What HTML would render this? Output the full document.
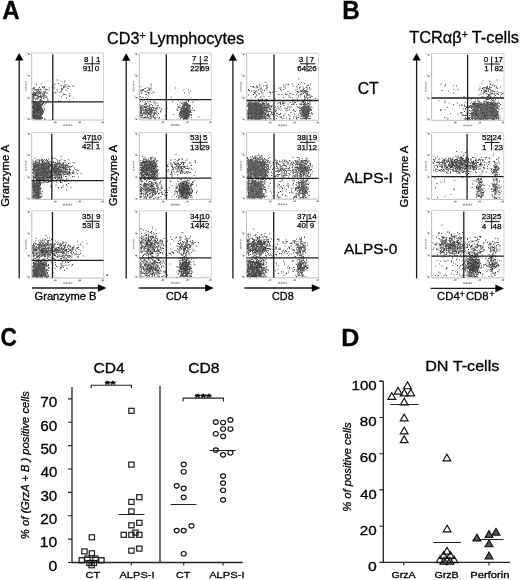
<!DOCTYPE html>
<html><head><meta charset="utf-8"><style>
html,body{margin:0;padding:0;background:#fff;}
svg{display:block;will-change:transform;}
text{font-family:"Liberation Sans", sans-serif;fill:#000;stroke:#000;stroke-width:0.3px;}
.q{font-size:8px;stroke:#000;stroke-width:0.25px;}
</style></head><body>
<svg width="520" height="580" viewBox="0 0 520 580">
<rect width="520" height="580" fill="#fff"/>
<path d="M31.7 53.0H103.5V120.0" fill="none" stroke="#d2d2d2" stroke-width="1"/>
<path d="M31.7 53.0V120.0H103.5" fill="none" stroke="#bdbdbd" stroke-width="1"/>
<path d="M26.1 52.1l1.6 1.4M26.1 73.6l1.6 1.4M26.1 95.7l1.6 1.4M26.1 117.1l1.6 1.4M52.8 123.6l1.6 -1.4M77.2 123.6l1.6 -1.4M100.1 123.6l1.6 -1.4" stroke="#b8b8b8" stroke-width="0.8"/>
<path d="M27.8 54.3h1.8M27.8 75.8h1.8M27.8 97.9h1.8M27.8 119.3h1.8M54.6 122.2h1.8M79.0 122.2h1.8M101.9 122.2h1.8" stroke="#7a7a7a" stroke-width="1.5"/>
<path d="M63.1 125.2h9" stroke="#9a9a9a" stroke-width="1.6" stroke-dasharray="2 0.6"/>
<path d="M25.9 81.5v10" stroke="#a8a8a8" stroke-width="1.5" stroke-dasharray="2 0.6"/>
<path d="M34.5 106h1M40 100.5h1M42.5 113h1M42.5 93.5h1M32.5 114h1M33.5 110h1M33.5 118.5h1M37.5 115h1M40.5 109.5h1M33.5 104.5h1M39 119h1M35.5 107h1M36.5 112h1M41 109h1M36 105h1M49 88h1M37 114.5h1M32.5 98h1M37.5 105.5h1M34 102.5h1M44 105h1M40.5 101h1M64 87h1M36 111h1M34 109.5h1M40.5 118h1M42.5 96h1M38 104h1M44.5 92h1M36 106.5h1M39 93.5h1M39.5 89h1M37 108.5h1M41 106h1M40.5 112h1M38.5 110h1M37.5 94h1M32.5 107h1M35 115h1M38.5 118.5h1M32.5 117h1M38.5 109.5h1M35.5 114h1M34 116.5h1M35 118.5h1M35 111h1M39.5 115.5h1M37.5 103h1M63 88h1M35.5 115.5h1M37 115h1M37 105h1M41.5 114.5h1M40 90h1M36 112h1M54.5 92.5h1M33 98.5h1M38 114h1M34.5 104.5h1M33 96h1M32.5 115h1M43.5 94.5h1M37 109.5h1M34.5 112.5h1M39 118h1M62.5 88h1M33.5 111h1M37 110.5h1M36.5 118h1M33.5 109.5h1M38 106h1M38.5 108.5h1M41 111.5h1M36.5 117.5h1M35 103h1M39 91.5h1M32.5 104.5h1M64.5 86.5h1M69 86.5h1M39 109h1M41.5 105h1M42 118h1M33.5 94h1M37 112h1M33.5 118h1M39 114h1M40.5 104h1M38 107h1M33 114h1M35.5 95h1M41.5 109.5h1M33 115.5h1M39.5 115h1M72.5 86h1M36.5 113h1M32.5 119h1M61 97h1M36 107.5h1M39.5 110h1M47 99h1M39.5 118.5h1M37 113h1M35.5 118.5h1M36.5 106h1M41.5 108h1M38 111.5h1M35 105.5h1M40.5 109h1M52.5 93.5h1M66.5 85h1M42.5 96.5h1M44.5 96h1M34.5 109.5h1M35.5 104.5h1M40 110h1M39.5 112.5h1M38.5 118h1M35.5 112.5h1M44 93h1M34.5 110.5h1M34 89h1M40 115.5h1M67.5 88.5h1M33.5 88h1M33 117h1M34 109h1M36 109h1M38.5 93h1M36.5 117h1M34 114h1M36 114h1M34.5 116.5h1M36.5 104h1M37.5 113h1M32.5 111h1M40.5 106h1M38.5 91h1M43 103.5h1M41 113.5h1M34.5 112h1M43 96h1M38.5 109h1M35.5 119h1M33 96.5h1M32.5 98.5h1M36 106h1M33.5 104h1M32.5 94h1M32.5 108h1M32.5 88.5h1M35 90h1M39 118.5h1M33 102.5h1M39 115.5h1M32.5 112h1M34 94.5h1M37 109h1M35.5 113.5h1M36.5 115.5h1M60.5 91.5h1M41 116.5h1M34 104h1M33.5 109h1M42 114h1M39.5 105.5h1M34 116h1M36 116h1M37 115.5h1M35.5 105.5h1M45 91h1M40.5 92h1M64 94.5h1M39 114.5h1M39.5 106.5h1M62 89.5h1M55.5 93h1M38.5 107.5h1M63 94h1M37.5 111.5h1M40.5 111h1M36.5 114.5h1M32.5 113h1M40 111h1M34.5 103.5h1M39.5 108h1M35 107h1M39.5 116.5h1M35.5 108h1M39 108.5h1M34.5 104h1M34.5 118h1M60 101h1M63.5 87h1M36.5 116h1M37 117h1M35 100h1M32.5 103.5h1M38 89.5h1M33 115h1M32.5 101h1M33.5 117h1M32 108.5h1M33 105h1M36 112.5h1M32.5 107.5h1M35.5 109h1M40.5 119h1M38 90.5h1M61.5 92h1M36.5 113.5h1M40 119h1M37 95.5h1M39 97h1M34 114.5h1M39 109.5h1M35.5 113h1M39 106.5h1M36.5 111h1M41 96h1M34.5 115.5h1M43 111.5h1M41 107.5h1M32 115h1M32.5 100h1M37.5 116h1M39.5 106h1M36.5 104.5h1M33.5 115h1M34 108.5h1M38 113h1" stroke="#5c5c5c" stroke-width="1.05" fill="none"/><path d="M33 94h1M42.5 86.5h1M33.5 110h1M36.5 116.5h1M63.5 87.5h1M39 112h1M40.5 105.5h1M35.5 94.5h1M35.5 107.5h1M37.5 110h1M33.5 112.5h1M39.5 117.5h1M34 102.5h1M44 92h1M32.5 99.5h1M34.5 116h1M33.5 114.5h1M36 105.5h1M48.5 90h1M38 104h1M41.5 118.5h1M39.5 111.5h1M41 98h1M40 117.5h1M46.5 97h1M32.5 107h1M38.5 111h1M39.5 114h1M33.5 108.5h1M38.5 109.5h1M36 116.5h1M32.5 116h1M38.5 104.5h1M38 89h1M37 115h1M37 113.5h1M34.5 118.5h1M41.5 114.5h1M34 112h1M36 91h1M61 86h1M35.5 106h1M32.5 111.5h1M39.5 99.5h1M33 107.5h1M44 119h1M36.5 96h1M37 106.5h1M33.5 109.5h1M32.5 118.5h1M37.5 113.5h1M42 110.5h1M35 103h1M37 108h1M33.5 110.5h1M37 116.5h1M43.5 98h1M43 94h1M39.5 116h1M41.5 100.5h1M61.5 89h1M41.5 113.5h1M33.5 108h1M40.5 107h1M33.5 88.5h1M41 109.5h1M61.5 81.5h1M40 107.5h1M36.5 109h1M42 112h1M37.5 103.5h1M36.5 114h1M33.5 112h1M32 100h1M34 103.5h1M36 103.5h1M39.5 105h1M32.5 103h1M35.5 115h1M35.5 105h1M36 104h1M38.5 106.5h1M39.5 118.5h1M39.5 111h1M37.5 112h1M37 113h1M35.5 118.5h1M38.5 110.5h1M36.5 106h1M40.5 109h1M38 111.5h1M38.5 103.5h1M35.5 111h1M40 111.5h1M39.5 109.5h1M40 110h1M39.5 112.5h1M38.5 118h1M35 103.5h1M39 107h1M34.5 110.5h1M42.5 110h1M33 107h1M38 115.5h1M37.5 114h1M35 108h1M36.5 117h1M37.5 113h1M33 116h1M36 114h1M34.5 116.5h1M34 114h1M32.5 106.5h1M37 107.5h1M39.5 119h1M37 104h1M34.5 112h1M40.5 114.5h1M39 96.5h1M36.5 95.5h1M37 117.5h1M36 98h1M36.5 111.5h1M37 93h1M42 117.5h1M37 91.5h1M33 118.5h1M39 115.5h1M38 108.5h1M37.5 107h1M32.5 112h1M36.5 118.5h1M37.5 104h1M37 109h1M35.5 113.5h1M34 117h1M36 117h1M34 104h1M41.5 101h1M33.5 109h1M36 116h1M35.5 105.5h1M40 113.5h1M38 115h1M39 114.5h1M39.5 106.5h1M41 112h1M40 105h1M38 92h1M38.5 107h1M38.5 104h1M36.5 114.5h1M41 84h1M40 97h1M64 82h1M45.5 96h1M32 112.5h1M36 115h1M35 107.5h1M39.5 118h1M35 104h1M33.5 106h1M35.5 118h1M37.5 118.5h1M38 110.5h1M56.5 89.5h1M34 110h1M41.5 109h1M35 117.5h1M37.5 99h1M69.5 100h1M40 94h1M38 94h1M38 108h1M44.5 97.5h1M44 110h1M73 98h1M44 101.5h1M40 89.5h1M33.5 107h1M39 105h1M35 111.5h1M34 112.5h1M33 105h1M36 112.5h1M35.5 109h1M36.5 115h1M36.5 113.5h1M39 111h1M40 108.5h1M39.5 113h1M37 111.5h1M37.5 117h1M39 110.5h1M34 103h1M34 87.5h1M33 110.5h1M32 105h1M33.5 111.5h1M36 119h1M37 110h1M51.5 87h1M32.5 97.5h1M40.5 113.5h1" stroke="#6a6a6a" stroke-width="1.05" fill="none"/><path d="M39 116.5h1M36 102h1M32.5 90h1M42 111h1M56.5 80h1M33.5 118.5h1M53.5 85h1M36.5 116.5h1M38.5 117h1M40.5 97h1M35.5 94.5h1M38.5 116h1M66.5 87h1M34 115h1M35.5 107.5h1M34 105h1M35 117h1M37.5 111h1M40 110.5h1M41.5 111.5h1M36.5 108.5h1M40 96h1M42.5 110.5h1M69.5 95.5h1M47.5 101h1M34 109.5h1M40.5 116.5h1M36 105.5h1M40.5 118h1M42.5 96h1M38 104h1M38.5 105h1M35 95.5h1M33 113h1M41 98h1M39.5 97.5h1M38.5 110h1M37.5 108h1M38 117.5h1M34.5 111.5h1M36 116.5h1M36 118h1M35 110h1M32.5 116h1M35 118.5h1M35 111h1M37 113.5h1M40 109h1M34 112h1M38 109h1M36 93h1M40 114h1M37.5 108.5h1M35 104.5h1M42 113.5h1M43 92h1M39 101h1M46.5 89.5h1M36.5 110.5h1M36.5 103.5h1M37 109.5h1M37 105.5h1M34.5 112.5h1M39 118h1M33 104h1M33 118h1M39.5 114.5h1M33.5 109.5h1M33 117.5h1M38 106h1M34.5 114.5h1M38.5 108.5h1M41 111.5h1M58 101h1M43 98.5h1M37 116.5h1M35.5 117h1M44 86.5h1M39.5 116h1M37 89.5h1M35.5 116h1M33.5 94h1M46.5 93.5h1M41 118.5h1M34.5 108.5h1M37.5 106.5h1M33.5 116.5h1M40 107h1M40 107.5h1M42.5 94.5h1M36.5 109h1M32.5 114.5h1M36.5 90h1M37.5 103.5h1M35.5 95.5h1M33.5 93h1M34 110.5h1M33 115.5h1M39.5 105h1M39.5 92h1M35.5 105h1M35 113.5h1M37.5 118h1M40.5 100h1M39 106h1M34 107.5h1M34.5 113.5h1M36 104h1M32.5 108.5h1M38.5 106.5h1M45 103h1M39.5 118.5h1M35.5 102.5h1M40.5 109h1M35.5 109.5h1M36 117.5h1M39.5 104.5h1M34.5 109.5h1M33.5 93.5h1M38 110h1M38 102.5h1M40 118.5h1M40.5 115.5h1M32.5 96.5h1M33 107h1M46 97.5h1M34.5 98.5h1M33 117h1M35.5 94h1M35 108h1M34 109h1M36.5 107h1M39 116h1M38 104.5h1M66 98h1M33 116h1M40 112.5h1M32.5 111h1M35.5 89.5h1M32.5 105.5h1M38 112.5h1M37 96h1M45.5 92.5h1M34.5 92.5h1M40 99.5h1M35.5 103h1M37 104h1M34.5 112h1M38.5 109h1M35.5 119h1M32 107h1M33.5 103.5h1M32.5 110.5h1M40 114.5h1M41.5 113h1M37 118h1M41.5 93.5h1M43.5 95.5h1M34 106h1M32 116h1M32.5 94h1M35 109h1M38 103h1M39 118.5h1M33.5 117.5h1M40.5 116h1M33 101.5h1M32 95h1M64.5 86h1M38 108.5h1M43.5 101.5h1M37.5 107h1M38.5 106h1M36.5 118.5h1M34.5 113h1M33 104.5h1M34 107h1M36 107h1M36.5 99h1M33 112.5h1M59.5 92.5h1M36 116h1M37 115.5h1M40 105h1M40 113.5h1M38 105h1M35.5 106.5h1M40.5 110h1M38.5 107.5h1M35.5 110.5h1M32.5 113h1M35.5 103.5h1M39 103h1M38 111h1M38 97h1M39 87.5h1M36 111.5h1M40.5 104.5h1M35.5 116.5h1M35.5 118h1M37.5 118.5h1M34.5 107.5h1M38 110.5h1M34.5 118h1M36 84.5h1M36 110h1M39.5 112h1M39.5 93h1M36 118.5h1M64.5 84.5h1M38.5 96.5h1M34 115.5h1M34 104.5h1M36 104.5h1M61 90h1M33.5 107h1M33 115h1M35 111.5h1M40 112h1M39.5 109h1M36.5 113.5h1M36.5 92h1M33.5 116h1M39 109.5h1M33 111h1M32.5 117.5h1M37 111.5h1M39 106.5h1M35 115.5h1M36.5 111h1M46 103h1M39 110.5h1M36 103h1M33.5 111.5h1M39.5 106h1M36.5 104.5h1M33 98.5h1M37 118.5h1M34.5 98h1" stroke="#404040" stroke-width="1.05" fill="none"/><path d="M34.5 106h1M32.5 109h1M39 116.5h1M33 94h1M37.5 95h1M54 88h1M44 87.5h1M37 104.5h1M33.5 118.5h1M65.5 94.5h1M42 104.5h1M32.5 115.5h1M35.5 94.5h1M33.5 104.5h1M35.5 107h1M34 115h1M34 105h1M36.5 103h1M35 117h1M33.5 112.5h1M36.5 119h1M37.5 111h1M37.5 105.5h1M57 91h1M38 103.5h1M40 96h1M42.5 103.5h1M34 105.5h1M34 109.5h1M40.5 116.5h1M33.5 114.5h1M38 104h1M40 118h1M33 113h1M36 110.5h1M73 86h1M40.5 112h1M65.5 90h1M37.5 108h1M38 117.5h1M32.5 107h1M63 86.5h1M39.5 114h1M38.5 109.5h1M34 116.5h1M36 116.5h1M47.5 100h1M35 118.5h1M35 111h1M34.5 110h1M37.5 119h1M34 112h1M39 103.5h1M44 92.5h1M33 103.5h1M35.5 106h1M33.5 105h1M33.5 113.5h1M46.5 89.5h1M33 96h1M36.5 103.5h1M39 104h1M43.5 96h1M43 102.5h1M33 107.5h1M39.5 114.5h1M38.5 103h1M33.5 105.5h1M40 106h1M33.5 109.5h1M38.5 119h1M38 106h1M44.5 119h1M37.5 113.5h1M34 113h1M41 115h1M35 103h1M34.5 103h1M41 110h1M34.5 108.5h1M33 109h1M40.5 107h1M39 114h1M40 107h1M33.5 118h1M40.5 107.5h1M37.5 110.5h1M34 106.5h1M41.5 105.5h1M33.5 112h1M68 86h1M41 112.5h1M39.5 115h1M34 96h1M37.5 118h1M33 88h1M34.5 113.5h1M34.5 105h1M34 107.5h1M42 109h1M33 106h1M34 118h1M39.5 110h1M35.5 111h1M36.5 106h1M38 111.5h1M38.5 110.5h1M34.5 111h1M34.5 109.5h1M40 110h1M39.5 112.5h1M38.5 118h1M44 93h1M40 115.5h1M33 107h1M46 97.5h1M38 115.5h1M39.5 94h1M54.5 84h1M35 116.5h1M60.5 85.5h1M38 104.5h1M36.5 107.5h1M37.5 113h1M36 114h1M34.5 116.5h1M58 83.5h1M40 112.5h1M32.5 97h1M35.5 92.5h1M45.5 89.5h1M44 109h1M44.5 89h1M35 112h1M42.5 112.5h1M32.5 106.5h1M37.5 98h1M37 118h1M40 114.5h1M38.5 109h1M32.5 110.5h1M39.5 108.5h1M37.5 106h1M33 95.5h1M33 96.5h1M69 93.5h1M41 97h1M32.5 108h1M42 117.5h1M37 91.5h1M40.5 116h1M35 93.5h1M32.5 93h1M62.5 95h1M35.5 113.5h1M34 107h1M36.5 99h1M41.5 103.5h1M36 117h1M33 112.5h1M34 116h1M40 105h1M41.5 118h1M38 105h1M35.5 106.5h1M40.5 110h1M39.5 110.5h1M38.5 104h1M40 102.5h1M35.5 110.5h1M37 98h1M34 95.5h1M61 88.5h1M43 88h1M34.5 103.5h1M34 111.5h1M39.5 108h1M38.5 117.5h1M43 98h1M64.5 81h1M35.5 108h1M33.5 98h1M35.5 118h1M37.5 118.5h1M34.5 104h1M69 96.5h1M36 110h1M36 102.5h1M36.5 116h1M34 118.5h1M36 118.5h1M39.5 93h1M34 115.5h1M37 117h1M38 116.5h1M43 107h1M40.5 89.5h1M40.5 92.5h1M32.5 103.5h1M42 87.5h1M39 115h1M32.5 94.5h1M38 92.5h1M33 115h1M33.5 117h1M40 112h1M33 92h1M40 103h1M35.5 109h1M32.5 107.5h1M36.5 113.5h1M36.5 105h1M33.5 116h1M34.5 109h1M40.5 108.5h1M34.5 90h1M33 111h1M39.5 93.5h1M37 96.5h1M35.5 113h1M39 106.5h1M35 115.5h1M37.5 117h1M39 110.5h1M33 110.5h1M32.5 96.5h1M40.5 105h1" stroke="#4e4e4e" stroke-width="1.05" fill="none"/>
<path d="M52.8 54.2V120.0M31.7 101.9H103.5" stroke="#1e1e1e" stroke-width="1.3" fill="none"/>
<path d="M139.4 53.0H211.3V119.9" fill="none" stroke="#d2d2d2" stroke-width="1"/>
<path d="M139.4 53.0V119.9H211.3" fill="none" stroke="#bdbdbd" stroke-width="1"/>
<path d="M133.8 52.1l1.6 1.4M133.8 73.5l1.6 1.4M133.8 95.6l1.6 1.4M133.8 117.0l1.6 1.4M160.5 123.5l1.6 -1.4M184.9 123.5l1.6 -1.4M207.9 123.5l1.6 -1.4" stroke="#b8b8b8" stroke-width="0.8"/>
<path d="M135.5 54.3h1.8M135.5 75.7h1.8M135.5 97.8h1.8M135.5 119.2h1.8M162.3 122.1h1.8M186.7 122.1h1.8M209.7 122.1h1.8" stroke="#7a7a7a" stroke-width="1.5"/>
<path d="M170.9 125.1h9" stroke="#9a9a9a" stroke-width="1.6" stroke-dasharray="2 0.6"/>
<path d="M133.6 81.5v10" stroke="#a8a8a8" stroke-width="1.5" stroke-dasharray="2 0.6"/>
<path d="M184.5 109.5h1M144.5 110h1M185.5 109.5h1M188 114.5h1M192.5 110h1M160 111h1M187.5 105h1M184.5 112.5h1M182.5 107h1M177.5 107h1M140 112.5h1M179 113.5h1M146 112h1M183.5 107h1M185.5 118h1M187.5 111h1M186 105.5h1M182 112h1M185 117h1M186 106.5h1M146.5 111h1M153.5 110.5h1M180.5 113.5h1M190.5 114.5h1M148.5 104h1M185.5 112h1M186 110.5h1M147.5 108.5h1M147.5 102h1M180 112.5h1M190 111.5h1M181.5 108.5h1M141 110.5h1M187 118h1M150 111.5h1M146.5 112.5h1M186 108h1M186.5 104h1M181 114h1M145 110.5h1M184 107h1M182 113h1M184 117h1M150 118.5h1M183 116h1M188 111h1M183.5 110h1M181.5 113.5h1M141 112h1M184.5 113.5h1M185 118.5h1M183.5 115.5h1M140.5 108.5h1M146.5 108.5h1M146 110.5h1M189 106.5h1M183.5 112.5h1M182.5 114.5h1M189.5 111h1M144.5 109.5h1M145.5 103.5h1M145.5 94.5h1M182 107h1M158 113.5h1M180 113.5h1M183.5 114.5h1M183 118.5h1M150.5 107.5h1M141 113h1M145 114h1M192.5 102.5h1M186.5 106h1M182.5 117h1M148.5 114.5h1M181.5 116.5h1M190.5 112.5h1M151.5 109.5h1M140 108h1M184.5 118h1M182.5 102h1M153.5 107.5h1M186.5 107h1M187 104h1M186 107h1M145.5 97.5h1M186.5 117h1M184 103h1M185.5 109h1M183 119h1M183.5 115h1M182.5 110h1M184 108.5h1M151 109.5h1M188 105.5h1M184.5 113h1M183.5 111h1M181 112.5h1M183.5 109.5h1M182 112.5h1M185 105.5h1M194 110.5h1M143.5 106.5h1M198.5 117h1M185 110.5h1M182 114.5h1M186.5 118.5h1M188.5 93h1M183.5 116.5h1M185 116.5h1M186.5 104.5h1M190 91h1M184 111h1M188 112h1M156.5 109h1M180.5 109h1M141 115.5h1M184 109.5h1M181 108.5h1M147 115.5h1M184 106.5h1M148.5 92.5h1M151 108.5h1M143.5 112h1M191 115.5h1M148.5 90.5h1M147 106h1M188.5 113h1M186 114.5h1M140.5 106.5h1M184 108h1M160.5 112h1M184 116.5h1M178 100h1M148 118h1M143.5 114h1M182.5 113.5h1M185.5 111.5h1M184.5 111.5h1M180 118h1M184 93h1M154 113h1M182 110h1M143.5 113h1M181.5 114h1M148 93h1M154.5 118.5h1M149 105.5h1M149 109.5h1M179.5 112h1M183 109h1M181 103.5h1M144.5 113h1M187 115h1M145 102h1M185.5 112.5h1M183.5 110.5h1M140.5 90h1M148 93.5h1M187 111h1M187.5 110h1M189 114.5h1M184.5 114.5h1M186 109.5h1M143.5 107h1M159 117.5h1M185.5 114.5h1M183.5 118h1M142.5 108.5h1M186 112.5h1M140 107h1M185.5 119h1M149.5 117h1M186.5 116.5h1M184.5 116h1M142 106h1M151 109h1M147 98.5h1M183 107h1M188.5 115.5h1M187 112h1M183.5 109h1M186.5 112h1M188 101.5h1M183.5 114h1M185 114h1M154.5 105h1M151.5 117h1M151.5 116h1M185.5 113.5h1M189 111h1M144 117.5h1M145.5 109.5h1" stroke="#404040" stroke-width="1.05" fill="none"/><path d="M148 89h1M145.5 106.5h1M184.5 109.5h1M149.5 101.5h1M143.5 112.5h1M188.5 117h1M184.5 112.5h1M150.5 108h1M146.5 111.5h1M183 115.5h1M182 116.5h1M182.5 107h1M155 118h1M151.5 115.5h1M187.5 111h1M140.5 110h1M183.5 107h1M187.5 105.5h1M183.5 104h1M146.5 111h1M142 101.5h1M149.5 114.5h1M180.5 113.5h1M190.5 114.5h1M150.5 84h1M141 110.5h1M186 108h1M182 114h1M146 113h1M180 114.5h1M183.5 111.5h1M183 117h1M182 113h1M188 110h1M143.5 105h1M186 112h1M184 116h1M150 115.5h1M185.5 113h1M145 118h1M185 110h1M141 112h1M185 118.5h1M182 106h1M185 109.5h1M140 105h1M186.5 114h1M180.5 112h1M183 115h1M145 91.5h1M183.5 112.5h1M187 113h1M149.5 111h1M149.5 109.5h1M146 107.5h1M141.5 116h1M183 110h1M187.5 100.5h1M183 118.5h1M183.5 114.5h1M154 114.5h1M150.5 107.5h1M141 93.5h1M147 113h1M184.5 101h1M158.5 107.5h1M145.5 118h1M189.5 112.5h1M183 104.5h1M184 104.5h1M179.5 102.5h1M184 112.5h1M153 114h1M183.5 108.5h1M142.5 97.5h1M188.5 113.5h1M144.5 91h1M184 103h1M146.5 108h1M146.5 116.5h1M147.5 113h1M186 117.5h1M190 105.5h1M184 119h1M183.5 105h1M150 111h1M184 108.5h1M188.5 110.5h1M145 117h1M184.5 113h1M188 105.5h1M185.5 115.5h1M183.5 111h1M186.5 115h1M155 112.5h1M182.5 112.5h1M178.5 116.5h1M185.5 106h1M186 114h1M141 97.5h1M188 108h1M188.5 112h1M175 88h1M183.5 116.5h1M147.5 118h1M181.5 107.5h1M183 106.5h1M186 106h1M187.5 106h1M185 112h1M183.5 112h1M183 110.5h1M184 110.5h1M144.5 107.5h1M179.5 105.5h1M180.5 113h1M148 110.5h1M192.5 101h1M150.5 87h1M149 113.5h1M189 111.5h1M140 91.5h1M141.5 105.5h1M186.5 119h1M187 108.5h1M185.5 111.5h1M183 112h1M140 96.5h1M179.5 116.5h1M140.5 118h1M177 104.5h1M186 102h1M159.5 108h1M147 117h1M158.5 118.5h1M148.5 113.5h1M181 110.5h1M140 115.5h1M152.5 112.5h1M187 115h1M187 113.5h1M187 105h1M187.5 111.5h1M186.5 113.5h1M141.5 92.5h1M182 108h1M151.5 114h1M182.5 108h1M141 115h1M153 108.5h1M190.5 98h1M187.5 110h1M142 109h1M187.5 118.5h1M183.5 107.5h1M186 109.5h1M142 114h1M183.5 118h1M147.5 117h1M182.5 112h1M186.5 110.5h1M182 108.5h1M187.5 112.5h1M155 108.5h1M187 108h1M188.5 114h1M185.5 108.5h1M180.5 115.5h1M140 116h1M185 111.5h1M150 114h1M180.5 112.5h1M182 113.5h1M151 113h1M185 114h1M181.5 111.5h1M179.5 107h1M144 107.5h1M152.5 111h1M145 112h1M148.5 93.5h1M142 117h1M148.5 113h1M142.5 110.5h1M181.5 115.5h1" stroke="#6a6a6a" stroke-width="1.05" fill="none"/><path d="M140 101.5h1M183.5 106h1M148.5 88h1M186.5 113h1M173 114.5h1M188 114.5h1M153.5 113.5h1M148 109h1M184 114h1M183.5 99.5h1M166.5 108.5h1M149 107h1M187.5 115h1M149 107.5h1M144.5 104.5h1M140.5 111.5h1M152.5 108h1M182 118h1M179.5 114h1M181 117.5h1M180 118.5h1M182 112h1M146.5 110h1M183.5 104h1M143 110h1M187 110.5h1M149.5 114.5h1M185.5 112h1M147.5 108.5h1M157 115.5h1M186.5 103.5h1M186 108h1M141 110.5h1M140.5 112.5h1M151 111.5h1M188 111.5h1M184.5 108.5h1M187.5 108h1M181 114h1M186 116.5h1M186.5 118h1M143 112.5h1M161 110h1M153.5 92.5h1M190 110h1M180 114.5h1M184 107h1M149.5 102h1M185 105h1M188 110h1M146.5 92.5h1M182.5 115.5h1M172 101.5h1M185 102.5h1M184.5 113.5h1M185 111h1M147 112h1M143.5 111h1M140 113.5h1M191 117.5h1M178.5 108h1M149.5 113.5h1M149.5 105h1M186.5 109h1M181.5 111h1M147.5 106.5h1M157.5 105.5h1M165 115.5h1M156.5 112h1M184 111.5h1M183 115h1M183 105h1M176.5 110h1M144.5 111h1M184 110h1M183 111h1M182 104h1M188.5 108.5h1M151 117h1M182.5 116h1M153 109h1M149.5 116.5h1M140.5 109.5h1M148 112.5h1M142 105.5h1M140 112h1M187 107h1M186.5 107h1M151.5 94h1M150.5 90h1M187 116h1M184.5 109h1M188.5 105.5h1M179 107.5h1M183 119h1M181 111h1M182.5 110h1M185 113.5h1M151 110h1M185.5 114h1M155 118.5h1M145 107h1M182.5 111h1M184 108.5h1M152 107.5h1M150 109.5h1M184.5 113h1M142 89.5h1M146.5 90.5h1M141 117.5h1M185.5 115.5h1M156.5 107.5h1M177.5 106.5h1M187 111.5h1M188 106.5h1M151 104.5h1M140.5 91h1M186.5 111.5h1M146.5 91h1M183.5 109.5h1M186 111.5h1M182 112.5h1M183.5 105.5h1M180.5 117.5h1M153 116h1M188 116.5h1M153.5 115.5h1M181.5 110.5h1M183.5 108h1M143.5 118h1M150 112h1M189 107h1M184 105.5h1M141 115.5h1M187 112.5h1M190.5 110.5h1M181.5 107.5h1M149 108.5h1M184 109.5h1M178 107.5h1M188.5 109h1M185 112h1M189.5 108h1M185.5 116h1M145 104.5h1M141.5 113.5h1M178.5 113h1M151.5 110.5h1M189 111h1M183 118h1M185 109h1M186.5 103h1M188 113h1M187.5 117h1M186.5 108.5h1M185 113h1M185.5 115h1M186 116h1M186 102h1M150.5 118.5h1M141.5 110.5h1M150.5 109.5h1M185.5 102.5h1M181.5 113h1M185.5 111h1M141.5 108h1M150.5 112.5h1M185.5 104.5h1M141.5 90.5h1M184 113h1M183.5 110.5h1M148.5 106.5h1M142.5 90.5h1M186.5 111h1M146.5 114h1M186.5 109.5h1M186 111h1M184.5 114.5h1M185 104h1M148.5 88.5h1M186.5 110.5h1M181.5 117h1M186 112.5h1M187.5 112.5h1M187 108h1M187 116.5h1M144.5 117h1M153.5 114.5h1M183 107h1M188 90h1M185 111.5h1M183 107.5h1M188.5 115.5h1M152.5 92h1M186 103h1M148.5 109h1M188 115.5h1M179.5 107.5h1M184.5 115h1M147.5 110h1M185.5 105h1M146.5 87.5h1M187.5 116h1M177 110.5h1M184.5 110h1M176.5 109h1M189 105.5h1" stroke="#5c5c5c" stroke-width="1.05" fill="none"/><path d="M156.5 103h1M145.5 106.5h1M184.5 109.5h1M184.5 111h1M150.5 110.5h1M149.5 118.5h1M186.5 113h1M155 110.5h1M180 111.5h1M180.5 116h1M185.5 103.5h1M150.5 88.5h1M182.5 107h1M180 110h1M188 117h1M150.5 85h1M185.5 108h1M187 106.5h1M180 115.5h1M187.5 109.5h1M150.5 112h1M189 112h1M187.5 104.5h1M186 110.5h1M151.5 112.5h1M188.5 105h1M181 111.5h1M152 111h1M170.5 97h1M152 105.5h1M142.5 114h1M184.5 108.5h1M186.5 118h1M180.5 109.5h1M140 108.5h1M186 118h1M187.5 116.5h1M152 110.5h1M183.5 111.5h1M184 107h1M182 113h1M185 105h1M183 116h1M184 116h1M185.5 113h1M183.5 110h1M156.5 108h1M185 118.5h1M144 104h1M184.5 113.5h1M185 109.5h1M187 109h1M144.5 115h1M186 109h1M187 114h1M181.5 111h1M186.5 114h1M184 111.5h1M146 103.5h1M149 114.5h1M185 112.5h1M183.5 112.5h1M189.5 110h1M186.5 115.5h1M158 113.5h1M183 118.5h1M183.5 114.5h1M140 110.5h1M184 118.5h1M145.5 107.5h1M154.5 118h1M156 111h1M148.5 114.5h1M184.5 108h1M189.5 112.5h1M184 104.5h1M145.5 117.5h1M183 112.5h1M144.5 88.5h1M184 112.5h1M184 114.5h1M186 104h1M150 115h1M188 100.5h1M150.5 114h1M153.5 117.5h1M141 107h1M149 110h1M184.5 109h1M185.5 109h1M155 110h1M185 113.5h1M154.5 113h1M145 107h1M143 89.5h1M187.5 100h1M183.5 111h1M155.5 113.5h1M153.5 109h1M186 111.5h1M188.5 116.5h1M148.5 111h1M156.5 117.5h1M153 117h1M187 110h1M187.5 114h1M186.5 110h1M147 111.5h1M146 94.5h1M184 113.5h1M149 89.5h1M148 113.5h1M147.5 96h1M183.5 116.5h1M185 116.5h1M140.5 86.5h1M146.5 113h1M186 106h1M187.5 106h1M188.5 109h1M154 112h1M183.5 112h1M183.5 103h1M182.5 108.5h1M183 110.5h1M184 110.5h1M189.5 108h1M187 114.5h1M186.5 114.5h1M179 114.5h1M156.5 106h1M182 115h1M151.5 107.5h1M186.5 119h1M184.5 111.5h1M144.5 91.5h1M185.5 111.5h1M187.5 104h1M185.5 115h1M140.5 107.5h1M185 113h1M143 118h1M185.5 110h1M181.5 113h1M179 116h1M182.5 105.5h1M185.5 111h1M146 112.5h1M192 108h1M149.5 113h1M187 115h1M156 109h1M187 113.5h1M142.5 108h1M150 110.5h1M186.5 113.5h1M186 105h1M182 108h1M184 113h1M153.5 101.5h1M180 114h1M148 113h1M187 111h1M186 110h1M140.5 114h1M142 109h1M181 112h1M149 112h1M187.5 115.5h1M185 104h1M155 103h1M141 111h1M147 111h1M142 115.5h1M187.5 112.5h1M161 109h1M187 108h1M186.5 108h1M147 112.5h1M144 106.5h1M188 114h1M146 105h1M153.5 103h1M146.5 114.5h1M183.5 90h1M185 114h1M145 108h1M145 88.5h1M188 115.5h1M186 119h1M183.5 113h1M190 106h1M185.5 113.5h1M185 115.5h1M140 110h1" stroke="#4e4e4e" stroke-width="1.05" fill="none"/>
<path d="M166.3 54.2V119.9M139.4 99.6H211.3" stroke="#1e1e1e" stroke-width="1.3" fill="none"/>
<path d="M246.7 53.2H318.6V120.2" fill="none" stroke="#d2d2d2" stroke-width="1"/>
<path d="M246.7 53.2V120.2H318.6" fill="none" stroke="#bdbdbd" stroke-width="1"/>
<path d="M241.1 52.3l1.6 1.4M241.1 73.8l1.6 1.4M241.1 95.9l1.6 1.4M241.1 117.3l1.6 1.4M267.8 123.8l1.6 -1.4M292.2 123.8l1.6 -1.4M315.2 123.8l1.6 -1.4" stroke="#b8b8b8" stroke-width="0.8"/>
<path d="M242.8 54.5h1.8M242.8 76.0h1.8M242.8 98.1h1.8M242.8 119.5h1.8M269.6 122.4h1.8M294.0 122.4h1.8M317.0 122.4h1.8" stroke="#7a7a7a" stroke-width="1.5"/>
<path d="M278.1 125.4h9" stroke="#9a9a9a" stroke-width="1.6" stroke-dasharray="2 0.6"/>
<path d="M240.9 81.7v10" stroke="#a8a8a8" stroke-width="1.5" stroke-dasharray="2 0.6"/>
<path d="M264 105.5h1M260.5 110.5h1M259 114.5h1M257 105h1M304 115.5h1M251 112h1M254 112.5h1M250 113.5h1M256.5 107.5h1M266.5 101.5h1M249.5 118.5h1M252 117.5h1M262.5 102h1M303 91h1M259 110h1M253.5 106h1M260 114.5h1M270.5 118.5h1M256.5 114h1M291 107h1M288 114.5h1M256.5 113h1M306.5 95.5h1M247.5 116.5h1M309.5 105h1M281 90.5h1M261.5 111.5h1M254.5 103.5h1M251 104h1M304 111h1M255 115h1M254 106.5h1M267 85h1M251 117.5h1M251.5 110.5h1M306 115h1M270 94h1M255 109.5h1M253 111h1M256 114.5h1M304.5 98h1M252 117h1M249 106h1M249.5 109.5h1M307 110h1M304 92.5h1M302.5 112.5h1M263 105.5h1M257 107.5h1M306 104.5h1M262 103h1M254.5 113h1M258.5 105h1M255.5 110h1M251.5 109h1M256.5 118.5h1M305.5 114h1M257 114h1M305.5 113h1M265.5 117h1M251 117h1M307.5 115h1M298 115h1M302.5 113.5h1M300 104.5h1M255 110.5h1M260.5 113.5h1M256 119h1M259.5 106.5h1M255 118h1M259 106h1M308 108h1M249 103h1M253 117.5h1M289 93.5h1M287.5 84.5h1M310.5 89h1M256.5 102.5h1M258 105h1M256.5 109.5h1M262 113h1M303 118.5h1M253 109h1M305.5 118.5h1M254 106h1M305.5 115.5h1M249.5 109h1M248.5 115h1M308.5 111h1M256.5 116.5h1M255.5 112h1M265.5 113.5h1M262.5 95h1M268.5 96.5h1M266.5 99.5h1M305 115h1M258.5 113h1M251 106.5h1M250 103h1M306 107.5h1M278 108h1M268.5 104.5h1M309.5 118.5h1M251.5 105.5h1M260 111.5h1M305.5 111h1M301 108.5h1M249 113h1M308 114h1M255.5 117.5h1M250.5 102.5h1M256.5 118h1M307.5 85.5h1M261 114h1M247.5 113.5h1M303 116.5h1M294 111h1M258 107.5h1M305.5 116.5h1M256 104h1M302 112h1M257 116.5h1M303 112h1M264 113h1M304 108.5h1M247.5 106.5h1M257.5 111.5h1M256.5 109h1M306 114.5h1M301.5 108.5h1M252.5 113h1M260 117h1M306 87.5h1M303.5 91h1M308.5 109h1M307 117h1M252 106h1M254.5 108h1M254.5 118h1M253 113.5h1M262.5 108h1M281.5 94.5h1M276 113.5h1M253 105.5h1M253.5 115h1M255.5 116h1M306 110h1M260 97h1M256.5 116h1M250 106.5h1M257.5 102h1M259 100.5h1M257 118h1M253.5 104.5h1M306.5 87.5h1M257 117.5h1M302.5 89.5h1M255 119h1M259 106.5h1M253 119h1M247.5 101h1M305.5 109h1M258.5 104.5h1M260 108.5h1M258 110h1M254.5 107h1M250.5 109h1M249 115h1M254.5 107.5h1M285 94h1M300 118.5h1M301 91.5h1M256.5 114.5h1M309 95h1M296 87h1M266 107h1M308 115h1M260 113.5h1M304.5 99h1M297 99.5h1M249 109.5h1M273.5 113h1M304 101h1M249 104.5h1M252 103h1M262.5 93h1M309 111h1M257 117h1M255 116.5h1M267.5 117h1M307 106.5h1M253.5 110.5h1M281.5 105h1M256.5 113.5h1M302.5 93h1M256.5 105.5h1M303 101.5h1M254.5 114.5h1M279 102.5h1M252.5 104.5h1M294 100h1M258 109.5h1M304 106h1M248 104.5h1M305.5 112.5h1M303.5 110h1M269 118h1M307.5 111h1M256.5 90.5h1M261.5 107.5h1M249 108h1M266 87h1M249 118h1M254.5 110h1M271.5 105.5h1M260.5 106.5h1M252 113h1M254 115h1M302 113.5h1M305 118.5h1M266 118.5h1M265.5 88.5h1M306 117.5h1M254 109.5h1M257 113.5h1M306 111.5h1M256.5 96h1M306.5 99.5h1M252.5 118h1M303.5 111h1M302 90.5h1M263 111h1M258 118h1M251 113h1M248 103h1M257.5 115h1M308 107h1M258.5 112.5h1M257.5 104.5h1M264 103.5h1M254.5 116.5h1M256 104.5h1M258.5 114.5h1M302.5 115h1M261.5 118.5h1M261.5 115.5h1M264.5 118.5h1M308.5 106h1M247.5 113h1M301 113h1M248 107.5h1M308 112.5h1M255.5 105h1M249.5 103.5h1M306 112.5h1M269.5 109.5h1M278.5 94.5h1M254 109h1M299 110.5h1M305.5 91.5h1M297 89h1M283 89.5h1M262 115h1M248 113h1M306 108.5h1M296 116h1M262 111h1M263 109h1M261.5 111h1M249 110h1M252.5 114.5h1M261.5 109.5h1M254.5 117.5h1M282.5 102h1M254 107h1M258 114.5h1M261 92h1M253 106.5h1M267 111.5h1M251 115h1M254.5 111.5h1M254.5 97.5h1M302.5 110.5h1M253.5 111h1M306 106.5h1M251 102.5h1M261.5 92.5h1M293 110.5h1M251 109.5h1M261.5 112h1M266 109h1M259.5 110.5h1M280 89h1M300 108.5h1M303 111.5h1M283 103.5h1M305.5 111.5h1M310 108.5h1M305.5 97.5h1M252.5 118.5h1M259.5 117.5h1M304.5 115h1M250.5 111.5h1M259.5 109h1M250 110h1M252 108h1M257.5 107.5h1M247.5 115h1M309.5 104h1M264.5 110.5h1M259 118.5h1M261.5 118h1M277 114h1M258 119h1M252 109h1M301 104.5h1M270 111.5h1M283.5 86h1M265.5 110.5h1M265 107.5h1M262 109h1M254.5 112.5h1M262 90h1M253.5 118h1M248 115h1M260.5 107.5h1M261.5 109h1M253.5 117.5h1M260.5 85h1M309 112h1M280 104.5h1M302.5 114h1M301.5 111h1M301.5 109.5h1M248.5 113.5h1M251.5 108h1M254.5 108.5h1M250 111h1M258.5 117.5h1M250 109.5h1M247.5 105h1M299.5 117h1M303.5 105.5h1M252.5 112h1M306.5 94.5h1M303.5 106.5h1M283 118.5h1M262 117h1M302.5 114.5h1M309.5 116h1M261.5 117h1M304.5 118h1M275 111.5h1M270.5 109.5h1M255.5 115.5h1M265 114.5h1M259.5 114.5h1M249 117.5h1M257.5 110h1M303 113h1M304 105h1M268.5 106.5h1M250.5 108.5h1M256 118.5h1M300.5 114h1M250.5 113.5h1M248 110.5h1M254 112h1M301.5 108h1M248 118h1M253 108h1M304.5 117h1M253.5 112.5h1M303.5 101h1M306 94h1M303 89h1M249.5 118h1M304.5 116h1M263 116.5h1M251.5 113h1M257.5 111h1M249.5 91h1M289 109.5h1M253.5 87.5h1M265 119h1M299 112h1M299.5 106.5h1M261.5 113.5h1M256 109.5h1M267.5 118.5h1M247.5 100h1M264 117h1M257.5 116.5h1M297 86h1M259 109h1M252.5 117h1M291 104.5h1M256 112h1M248 107h1M253.5 105.5h1M260 110.5h1M310 108h1M260.5 111h1M253.5 106.5h1M260.5 109.5h1M254 111.5h1M261.5 119h1M260 118h1M256.5 105h1M287.5 110h1M249 108.5h1M281 117h1M251.5 110h1M283 104h1M255.5 110.5h1M251.5 115.5h1M304.5 113.5h1M255 113h1M300.5 111h1M308 113h1M268 112h1M267.5 104.5h1M254 117h1M250 112.5h1M306.5 107.5h1M270.5 114h1M259 101.5h1M254.5 105h1M299.5 91.5h1M262.5 111.5h1M248 108.5h1M304.5 90.5h1" stroke="#6a6a6a" stroke-width="1.05" fill="none"/><path d="M252.5 113.5h1M248.5 103h1M265.5 116.5h1M251 116.5h1M260.5 118h1M304 118.5h1M252.5 105.5h1M251.5 111h1M258.5 94.5h1M272 114.5h1M303 110.5h1M261 89h1M302 108h1M253 115.5h1M256.5 107.5h1M257.5 107h1M249.5 110h1M276 118.5h1M257.5 117h1M303 108h1M250 105.5h1M266 103h1M269.5 109h1M305.5 108h1M302 91h1M259 110h1M263.5 108h1M252 111.5h1M263 112.5h1M259 105.5h1M257 103h1M301.5 119h1M272 92h1M292 98h1M304 115h1M261.5 111.5h1M254.5 103.5h1M247.5 112h1M251 104h1M260.5 117h1M255.5 114.5h1M265 116h1M269 106h1M306.5 110h1M255 115h1M304 111h1M306.5 118.5h1M253 115h1M287.5 104h1M255 109.5h1M296.5 107h1M251.5 118h1M306 111h1M257 103.5h1M249.5 109.5h1M307 110h1M251.5 117.5h1M302.5 112.5h1M263 105.5h1M306 104.5h1M305 113h1M257.5 113.5h1M256 113.5h1M264.5 116h1M293.5 116.5h1M285.5 94h1M304.5 111.5h1M249 105h1M260.5 108.5h1M259 112h1M248 106h1M255.5 119h1M310 109.5h1M250 106h1M261 105h1M260.5 113.5h1M306.5 116.5h1M273.5 88h1M248 104h1M256 119h1M307 111h1M255 108h1M306.5 112h1M255 118h1M267 118.5h1M282.5 102.5h1M267 115.5h1M269.5 105.5h1M284.5 108h1M256.5 115h1M306 108h1M252.5 105h1M266 115.5h1M260 112h1M258 105h1M256.5 111h1M256.5 109.5h1M253 109h1M252 106.5h1M251.5 112.5h1M306 90h1M255.5 112h1M253.5 113h1M248.5 109.5h1M289.5 116.5h1M266.5 99.5h1M253 117h1M301.5 116h1M301.5 102h1M251 106.5h1M254 105h1M249.5 117h1M308 85h1M306.5 109h1M302 111h1M309.5 118.5h1M257.5 106h1M257 115h1M288.5 97h1M303 111h1M252.5 103.5h1M259 116h1M304 112.5h1M297 106.5h1M260.5 91.5h1M307 109h1M250.5 111h1M247.5 113.5h1M254 103h1M249.5 112.5h1M248.5 110.5h1M264 113h1M247.5 106.5h1M257 112h1M257.5 111.5h1M298 79h1M307.5 107.5h1M248.5 118h1M298 107.5h1M275 110h1M304 113.5h1M280 113.5h1M260 116h1M303.5 91h1M299.5 104.5h1M296.5 98h1M254.5 108h1M266 110.5h1M268.5 108h1M288.5 106.5h1M262 99h1M305 108h1M255 110h1M262 104.5h1M249 115.5h1M259.5 105h1M305.5 110.5h1M257.5 103h1M306 118.5h1M256.5 116h1M303 118h1M254.5 109h1M260 112.5h1M253.5 104.5h1M252 105h1M255 119h1M254 113h1M305.5 109h1M255.5 112.5h1M306 119h1M306.5 113.5h1M258 118.5h1M291.5 84h1M254.5 107h1M307 108.5h1M299.5 108h1M307 113.5h1M260 105.5h1M308 109.5h1M256.5 108.5h1M296 118.5h1M260 106.5h1M309 111h1M257 107h1M261 109.5h1M247.5 106h1M257 117h1M260.5 97h1M257 116h1M250.5 107h1M248 95h1M250.5 107.5h1M255 112h1M263.5 117h1M256.5 92h1M306 116.5h1M255.5 105.5h1M256 113h1M254 115.5h1M310.5 114h1M268 103.5h1M275.5 115.5h1M308.5 113.5h1M252 103.5h1M305.5 112.5h1M303.5 110h1M303.5 118.5h1M270 107h1M266.5 88h1M258 112h1M258.5 109h1M249 108h1M250.5 114.5h1M263.5 114.5h1M306.5 91.5h1M301 94h1M305 118.5h1M305.5 87h1M309 108h1M309.5 101.5h1M305.5 113.5h1M254 111h1M289.5 93.5h1M303 106.5h1M306 111.5h1M258.5 107.5h1M270 114.5h1M250.5 110h1M261 109h1M293 110h1M248 108h1M260 106h1M251 113h1M304.5 103.5h1M248 89.5h1M249 107h1M308 107h1M270 100.5h1M258 109h1M306.5 111.5h1M303 93.5h1M306 116h1M309.5 110h1M262 110h1M304.5 114h1M258.5 86h1M256 104.5h1M304.5 113h1M262.5 116.5h1M268.5 92.5h1M259.5 115h1M254 118h1M305 112h1M253.5 110h1M255 112.5h1M293 109.5h1M251 115.5h1M256.5 111.5h1M266.5 108h1M305.5 91.5h1M258.5 105.5h1M252 111h1M309 87.5h1M262.5 110.5h1M253 86.5h1M254.5 104h1M255 113.5h1M303.5 109h1M280 106.5h1M254.5 117.5h1M305 118h1M256 108h1M255 105.5h1M273 85.5h1M254 107h1M258.5 119h1M309.5 116.5h1M261 113.5h1M257 104h1M260 103.5h1M262 112h1M307.5 114.5h1M300 108.5h1M302.5 91h1M286.5 94.5h1M258 113.5h1M253.5 92.5h1M259.5 117.5h1M311.5 107.5h1M253.5 112h1M283 85h1M300 113.5h1M258 105.5h1M287 107h1M254 114.5h1M254.5 116h1M256 107.5h1M309.5 104h1M252.5 119h1M248.5 112.5h1M259 115.5h1M252 109h1M304.5 92.5h1M305.5 116h1M261.5 117.5h1M263 86h1M256 114h1M288.5 115h1M258.5 106h1M303.5 108.5h1M310 84h1M299 87.5h1M265.5 118h1M259.5 116h1M251 118h1M265 100h1M248 109.5h1M305 114.5h1M251 91h1M271 112h1M248.5 113.5h1M249.5 102.5h1M247.5 105h1M259.5 101.5h1M249.5 104.5h1M259 115h1M266 108.5h1M271.5 113h1M258.5 111.5h1M262 117h1M254.5 113.5h1M261.5 117h1M259.5 112.5h1M265.5 85.5h1M252 114h1M265 114.5h1M259.5 114.5h1M254.5 105.5h1M249 117.5h1M248.5 90.5h1M301 108h1M253.5 107h1M251 107h1M251 107.5h1M259.5 108.5h1M255 111.5h1M302.5 87h1M299.5 112.5h1M312 114h1M308 111.5h1M307 95h1M252 114.5h1M260 115h1M258 99.5h1M250.5 113.5h1M310.5 106.5h1M292.5 100h1M259.5 113.5h1M257 106.5h1M260 109.5h1M250.5 105.5h1M265.5 114h1M280 89.5h1M260 104.5h1M269 116h1M261.5 114.5h1M263.5 106.5h1M301.5 108h1M260.5 118.5h1M269.5 110h1M255 103h1M249 117h1M284.5 103h1M251.5 114h1M258 111.5h1M252 110h1M256 115h1M292.5 86h1M251.5 113h1M301 107.5h1M263 112h1M256.5 104.5h1M259.5 119h1M259 118h1M261.5 113.5h1M256 109.5h1M307.5 111.5h1M269.5 119h1M300.5 110h1M261.5 105.5h1M255 97h1M259 109h1M253.5 113.5h1M304.5 112.5h1M304 107.5h1M307 105h1M303.5 106h1M252.5 116h1M248 107h1M305 91.5h1M315 98.5h1M253.5 106.5h1M250 107h1M254 111.5h1M256.5 105h1M307 98.5h1M304.5 108.5h1M302.5 112h1M303 115h1M251.5 110h1M251.5 118.5h1M269.5 116.5h1M304 113h1M253.5 90.5h1M260.5 112h1M253 114h1M263.5 96.5h1M303 104.5h1M252.5 112.5h1M251 119h1M249 113.5h1M266.5 90h1M248.5 105h1M249.5 114h1M256 110.5h1M283 97.5h1M304.5 105.5h1M257.5 104h1M261 113h1M248 114.5h1M254 117h1M309 113.5h1M247.5 118.5h1M252.5 108.5h1M267 105h1M307 85.5h1M262.5 111.5h1M305 111.5h1M248 108.5h1M261 106.5h1M258.5 93.5h1" stroke="#4e4e4e" stroke-width="1.05" fill="none"/><path d="M266.5 107h1M303.5 103h1M271 106.5h1M306.5 114h1M251 116.5h1M247.5 119h1M257 105h1M251.5 109.5h1M307 93h1M301.5 110h1M254 112.5h1M265.5 82.5h1M264 90.5h1M253 118.5h1M309.5 99.5h1M256.5 107.5h1M288 84.5h1M251.5 112h1M257 108h1M273 112.5h1M308.5 107.5h1M261.5 104h1M289.5 107.5h1M252 111.5h1M248 119h1M259 105.5h1M303.5 88.5h1M256.5 114h1M247.5 116.5h1M247.5 112h1M280 102.5h1M267 107.5h1M255.5 114.5h1M308 95h1M304 109.5h1M254 106.5h1M301 82.5h1M259 119h1M256 114.5h1M268 116h1M263 113.5h1M255 104.5h1M251 111.5h1M252 117h1M304 116.5h1M266.5 105.5h1M306 109.5h1M311.5 113.5h1M302.5 112.5h1M301.5 116.5h1M263 105.5h1M283.5 105.5h1M263.5 103.5h1M305.5 93h1M311 110.5h1M255.5 110h1M300.5 116h1M253 112h1M257.5 113.5h1M256.5 110h1M256 113.5h1M256.5 115.5h1M305.5 114h1M259 101h1M257 114h1M304.5 111.5h1M247.5 117.5h1M305.5 113h1M277.5 106.5h1M252.5 106h1M249 111.5h1M251 117h1M307.5 115h1M308.5 118.5h1M260.5 108.5h1M306.5 111h1M306.5 109.5h1M269.5 108.5h1M303.5 115.5h1M250 106h1M278.5 114.5h1M255 118h1M289.5 119h1M265.5 112.5h1M304 109h1M248 111.5h1M249.5 117.5h1M264.5 108.5h1M256.5 109.5h1M293.5 104h1M261.5 113h1M259 104h1M254 106h1M301 116h1M306 109h1M303.5 115h1M308.5 109.5h1M256.5 116.5h1M255.5 112h1M263.5 118.5h1M250.5 115.5h1M253.5 113h1M300 110.5h1M304 107h1M307.5 110.5h1M254.5 115h1M306.5 117.5h1M255 107.5h1M253 107h1M308 103.5h1M274.5 98.5h1M251 106.5h1M305 102.5h1M254.5 104.5h1M298 117.5h1M285 88h1M302 109.5h1M303 111h1M255 114h1M284.5 114h1M263.5 115h1M259 116h1M305.5 104.5h1M303.5 105h1M256.5 118h1M247.5 113.5h1M311 110h1M257 116.5h1M290.5 112.5h1M303.5 110.5h1M296.5 91.5h1M257.5 111.5h1M306 114.5h1M258 114h1M299.5 111h1M308.5 97.5h1M254.5 110.5h1M263 103h1M292.5 94.5h1M283.5 103h1M253 113.5h1M307.5 114h1M255 118.5h1M298 84.5h1M249.5 113.5h1M261.5 104.5h1M309 89h1M256.5 107h1M253.5 115h1M308 118.5h1M270 92.5h1M249.5 105.5h1M287.5 91.5h1M257 118h1M267.5 104h1M305.5 117.5h1M305.5 91h1M250.5 118h1M303.5 107.5h1M297 91.5h1M265 108h1M259 106.5h1M302.5 103h1M258.5 109.5h1M254.5 107h1M263.5 109h1M254.5 107.5h1M307 108.5h1M277.5 103.5h1M298 92h1M309.5 110.5h1M260 100.5h1M266 107.5h1M307.5 118.5h1M302 107h1M249 104.5h1M262 108h1M256.5 108.5h1M260 106.5h1M254.5 114h1M247.5 106h1M250.5 107h1M308.5 108.5h1M252.5 115h1M255 112h1M306 116.5h1M256 86.5h1M261 116.5h1M255.5 106.5h1M254 115.5h1M265.5 103h1M292.5 103h1M304 99.5h1M294 114h1M265 114h1M259.5 114h1M257 112.5h1M267 87h1M260.5 113h1M283.5 115.5h1M249.5 106h1M263.5 112.5h1M303 108.5h1M257 87.5h1M249 118h1M255 104h1M257 108.5h1M260.5 106.5h1M261 110.5h1M253.5 103.5h1M305 110h1M305 118.5h1M262 114h1M247.5 103h1M306 117.5h1M253 111.5h1M264.5 114h1M273 115h1M250 105h1M258.5 107h1M250.5 118.5h1M311.5 96.5h1M259.5 118.5h1M301.5 94h1M285.5 84.5h1M280.5 110h1M297 93h1M251.5 108.5h1M256 95h1M260.5 88h1M255 117h1M255 116h1M258 109h1M258 90h1M303.5 112h1M305 111h1M308 116h1M258.5 112.5h1M262 110h1M310 97.5h1M256 104.5h1M254.5 116.5h1M304.5 113h1M286.5 108.5h1M308.5 106h1M278.5 88h1M253.5 110h1M258 116h1M268 115h1M278.5 94.5h1M256.5 111.5h1M252.5 114h1M259.5 116.5h1M258.5 105.5h1M248.5 117.5h1M308.5 111.5h1M257.5 110.5h1M307 102h1M248.5 109h1M262 109.5h1M305.5 106h1M249 110h1M255.5 103h1M257 106h1M306 113.5h1M250.5 98h1M264.5 104.5h1M260.5 105h1M307.5 112.5h1M302.5 110.5h1M259 113h1M262 112h1M251 109.5h1M264 110h1M261.5 112h1M292.5 104.5h1M293 118h1M253.5 116.5h1M259.5 117.5h1M248 115.5h1M258.5 116.5h1M307.5 113.5h1M259.5 109h1M259.5 90h1M268.5 117h1M304.5 111h1M260 113h1M262.5 117h1M258.5 112h1M256 107.5h1M262.5 116h1M303.5 112.5h1M248.5 112.5h1M264 115h1M258 119h1M253 94.5h1M252 109h1M303.5 114.5h1M299.5 90h1M304.5 112h1M264 111h1M304 96.5h1M256 114h1M259.5 107h1M258.5 106h1M255 91.5h1M259.5 116h1M256.5 106.5h1M280.5 117h1M268 107.5h1M305 114.5h1M302.5 101.5h1M283.5 87h1M307 89h1M281.5 118h1M252 107h1M251 109h1M249.5 111h1M248 116.5h1M263 118.5h1M249.5 104.5h1M308 106h1M300 96h1M250.5 112.5h1M261.5 107h1M268 114h1M261 106h1M259 111h1M262 116h1M259 109.5h1M305.5 108.5h1M264.5 107.5h1M250 112h1M302 113h1M257.5 110h1M289 118.5h1M248.5 90.5h1M307 94.5h1M253.5 107h1M256 118.5h1M307.5 91.5h1M251 107h1M300.5 114h1M267.5 113h1M255 105h1M250.5 113.5h1M249.5 105h1M305.5 106.5h1M258.5 117h1M261 111.5h1M305 90.5h1M260 109.5h1M258.5 102h1M269.5 92h1M262 114.5h1M250 110.5h1M292.5 101.5h1M255.5 115h1M260.5 115.5h1M252 87h1M249.5 118h1M255.5 111h1M304.5 116h1M253.5 114.5h1M252 110h1M259 110.5h1M252 118.5h1M251 114.5h1M303 115.5h1M265 119h1M259.5 119h1M305.5 93.5h1M261.5 113.5h1M264 107h1M261 102h1M271 107h1M304 103.5h1M259 109h1M252.5 117h1M260.5 115h1M252.5 102h1M253 103.5h1M251 118.5h1M260.5 111h1M248 116h1M260 108h1M307 110.5h1M302.5 112h1M269 100.5h1M254.5 106h1M307 108h1M304 114h1M251.5 110h1M260.5 116.5h1M253 114h1M252.5 112.5h1M251 119h1M248.5 111.5h1M249.5 114h1M257.5 104h1M262.5 104h1M264 108.5h1M257.5 118h1M256.5 103h1M250 112.5h1M306.5 107.5h1M308.5 108h1M252.5 108.5h1M254 116h1M265 106h1M254 102h1M308 106.5h1M264.5 116.5h1" stroke="#404040" stroke-width="1.05" fill="none"/><path d="M304.5 119h1M307 103.5h1M248.5 103h1M257 105h1M283 116h1M307 93h1M301.5 110h1M251.5 104.5h1M251 112h1M301.5 118.5h1M254 112.5h1M256.5 103.5h1M253 110h1M253 118.5h1M302 108h1M256.5 107.5h1M261.5 106h1M251.5 116.5h1M257.5 117h1M260.5 109h1M303 108h1M261.5 99.5h1M296.5 117.5h1M254 108.5h1M286.5 111h1M248.5 103.5h1M252 111.5h1M251 106h1M302.5 117h1M256.5 113h1M250 119h1M263 108.5h1M253 115h1M306.5 115.5h1M256.5 86h1M256 112.5h1M251.5 110.5h1M303.5 113h1M306 115h1M253 109.5h1M260 110h1M304.5 98h1M252 117h1M304 116.5h1M306 111h1M252 116h1M257.5 108.5h1M304 112h1M250.5 103.5h1M254.5 113h1M263.5 107.5h1M255.5 110h1M269 111.5h1M253 112h1M260.5 112.5h1M296 94.5h1M260.5 114.5h1M256.5 115.5h1M305.5 114h1M257 114h1M286 118h1M305.5 113h1M257.5 106.5h1M249 111.5h1M258 104.5h1M299.5 103.5h1M248 106h1M250.5 113h1M263.5 113h1M255.5 119h1M248.5 115.5h1M286 109h1M265 113.5h1M253 110.5h1M248 104h1M299 88h1M256 119h1M255 108h1M306.5 112h1M296 104.5h1M255 118h1M260.5 105.5h1M306 110.5h1M297 102h1M254.5 115.5h1M275.5 91.5h1M308 108h1M250 104h1M253 117.5h1M268 105.5h1M248 111.5h1M295 111.5h1M268 106.5h1M264.5 108.5h1M256.5 111h1M303 110h1M257 118.5h1M267.5 110h1M257 115.5h1M308.5 111h1M248.5 111h1M253.5 113h1M304 107h1M303.5 104.5h1M249 103.5h1M259.5 88h1M267 111h1M265.5 106.5h1M302 115h1M247.5 114.5h1M306.5 109h1M249.5 116h1M276.5 113h1M249.5 102h1M309.5 118.5h1M279.5 108h1M302 109.5h1M257.5 106h1M256 106h1M303 109.5h1M254.5 92.5h1M271.5 112h1M305.5 109.5h1M259 116h1M255.5 117.5h1M294 102.5h1M247.5 113.5h1M256.5 117.5h1M305.5 116.5h1M250.5 104.5h1M253.5 115.5h1M300.5 94.5h1M249.5 112.5h1M303.5 110.5h1M253 114.5h1M305.5 112h1M304 108.5h1M271 113h1M257 112h1M257.5 111.5h1M303.5 108h1M306 114.5h1M260.5 99.5h1M258 114h1M307 107h1M301 90.5h1M307 116h1M254.5 118h1M253 113.5h1M250 86.5h1M254 103.5h1M249 115.5h1M255.5 116h1M253.5 115h1M306 110h1M256.5 116h1M261 110h1M250 106.5h1M254 93h1M249.5 106.5h1M305.5 118h1M257 117.5h1M259 106.5h1M303 109h1M258.5 111h1M295.5 90h1M254 113h1M307 114.5h1M252.5 115.5h1M279.5 114.5h1M260 108.5h1M303.5 100h1M249 115h1M307 108.5h1M299.5 110.5h1M300 118.5h1M303.5 114h1M262.5 107.5h1M304.5 104.5h1M263 113h1M255.5 108.5h1M307 113.5h1M297.5 95.5h1M308 109.5h1M305.5 107h1M309 111h1M261 111h1M254.5 114h1M257 117h1M248.5 114.5h1M262.5 114h1M253.5 110.5h1M308 116.5h1M252.5 115h1M255.5 105.5h1M255.5 106.5h1M256.5 105.5h1M252.5 109.5h1M267 114.5h1M254.5 114.5h1M258.5 110.5h1M258 111h1M304.5 105h1M305.5 112.5h1M250.5 101.5h1M290 97h1M262 103.5h1M305.5 114.5h1M285.5 109h1M257 114.5h1M249 110.5h1M258 112h1M251.5 116h1M254.5 110h1M304.5 103h1M309 110.5h1M262.5 110h1M255.5 88h1M252 113h1M254 115h1M268.5 115.5h1M302 113.5h1M248.5 119h1M303 113.5h1M261 118h1M261.5 114h1M253 111.5h1M301 103h1M289.5 93.5h1M308 109h1M247 110.5h1M275 107h1M250.5 118.5h1M302 90.5h1M263 111h1M259.5 115.5h1M308.5 94.5h1M306.5 104h1M311 112.5h1M299.5 87h1M252.5 109h1M257 119h1M303.5 92.5h1M255 102h1M257.5 102.5h1M259 108h1M296 118h1M258.5 112.5h1M261 117h1M306 116h1M254.5 116.5h1M261.5 110h1M264 107.5h1M261.5 118.5h1M304.5 113h1M261.5 115.5h1M310.5 109.5h1M254.5 112h1M266.5 105h1M252.5 107h1M256.5 104h1M248 107.5h1M259.5 111h1M258 116h1M250 107.5h1M250.5 116.5h1M271.5 106h1M252.5 114h1M299 108h1M276.5 113.5h1M248 114h1M252 109.5h1M306 108.5h1M259 85h1M257.5 110.5h1M279.5 117h1M303.5 109h1M306.5 97h1M257.5 108h1M255.5 103h1M290 102.5h1M249 118.5h1M308 113.5h1M266 104h1M309.5 96h1M306 113.5h1M254 107h1M264.5 109.5h1M258.5 119h1M298 97h1M253 106.5h1M251 115h1M307.5 112.5h1M309 110h1M253.5 111h1M306 106.5h1M251 111h1M262.5 109h1M305 97.5h1M251 109.5h1M261.5 112h1M265 110.5h1M288.5 95.5h1M263.5 104h1M303.5 107h1M259.5 118h1M303.5 116h1M259.5 117.5h1M253.5 112h1M248 110h1M285 110.5h1M248 118.5h1M300.5 105h1M252 110.5h1M257.5 103.5h1M254.5 117h1M258.5 116.5h1M250 110h1M262.5 107h1M304.5 111h1M304.5 109.5h1M247.5 115h1M305 117h1M307 113h1M248.5 112.5h1M247.5 104.5h1M304.5 112h1M300.5 91h1M306 96h1M264.5 117.5h1M256 114h1M250.5 117h1M251.5 105h1M262 109h1M250.5 116h1M253.5 118h1M248.5 108.5h1M301.5 115h1M305 112.5h1M295 102.5h1M302.5 101.5h1M303.5 113.5h1M301.5 104.5h1M253.5 109h1M254.5 108.5h1M266.5 115.5h1M263 118.5h1M304.5 110.5h1M254 119h1M262 107h1M262 117h1M309.5 102h1M259 111h1M250 116.5h1M262.5 113.5h1M305 113.5h1M301 110.5h1M249 117.5h1M254.5 106.5h1M253.5 117h1M265.5 107h1M256 118.5h1M305 106.5h1M256 115.5h1M255 111.5h1M280.5 87.5h1M264 118h1M306.5 104.5h1M264.5 101.5h1M262 112.5h1M309 111.5h1M257 106.5h1M262.5 119h1M266.5 109.5h1M250.5 106.5h1M301.5 108h1M276 110.5h1M304 91h1M254.5 93.5h1M250 118h1M304.5 116h1M250 117.5h1M248 90h1M251 114.5h1M305.5 93.5h1M250 109h1M253.5 108.5h1M277 116.5h1M304 83.5h1M280 103.5h1M264.5 105.5h1M254.5 91.5h1M259 109h1M252.5 117h1M296.5 119h1M310.5 96h1M249 112.5h1M252.5 116h1M282 103.5h1M276.5 108.5h1M260.5 109.5h1M260 118h1M266.5 104h1M250 116h1M254.5 106h1M307 94h1M264 112.5h1M260.5 116.5h1M303 102.5h1M265 112h1M301.5 114h1M259 107.5h1M308.5 105h1M252.5 112.5h1M303.5 111.5h1M266.5 109h1M267.5 111h1M256.5 108h1M299.5 94.5h1M257 104.5h1M308 113h1M304.5 105.5h1M257.5 118h1M278.5 109.5h1M249 105.5h1M248 114.5h1M252 112h1M256.5 103h1M263.5 104.5h1M306.5 107.5h1M308.5 108h1M256 117.5h1M301 110h1M254 116h1M266 111.5h1M257.5 109h1M304 95.5h1" stroke="#5c5c5c" stroke-width="1.05" fill="none"/>
<path d="M274.0 54.4V120.2M246.7 100.5H318.6" stroke="#1e1e1e" stroke-width="1.3" fill="none"/>
<path d="M31.7 132.6H103.6V199.4" fill="none" stroke="#d2d2d2" stroke-width="1"/>
<path d="M31.7 132.6V199.4H103.6" fill="none" stroke="#bdbdbd" stroke-width="1"/>
<path d="M26.1 131.7l1.6 1.4M26.1 153.1l1.6 1.4M26.1 175.2l1.6 1.4M26.1 196.5l1.6 1.4M52.8 203.0l1.6 -1.4M77.2 203.0l1.6 -1.4M100.2 203.0l1.6 -1.4" stroke="#b8b8b8" stroke-width="0.8"/>
<path d="M27.8 133.9h1.8M27.8 155.3h1.8M27.8 177.4h1.8M27.8 198.7h1.8M54.6 201.6h1.8M79.0 201.6h1.8M102.0 201.6h1.8" stroke="#7a7a7a" stroke-width="1.5"/>
<path d="M63.1 204.6h9" stroke="#9a9a9a" stroke-width="1.6" stroke-dasharray="2 0.6"/>
<path d="M25.9 161.0v10" stroke="#a8a8a8" stroke-width="1.5" stroke-dasharray="2 0.6"/>
<path d="M64.5 162.5h1M38 184.5h1M56 163.5h1M59 175h1M47 161.5h1M37.5 172.5h1M36.5 191h1M40.5 161h1M40.5 191h1M58 171h1M35.5 183.5h1M35 192h1M35.5 178.5h1M68.5 173h1M43.5 173h1M48.5 181.5h1M43.5 164h1M38 190h1M36 171h1M38.5 194h1M42 169h1M52.5 163h1M43.5 161.5h1M54.5 176.5h1M35.5 168h1M56.5 164h1M40 189h1M39 187.5h1M33.5 182h1M62.5 164h1M46 178h1M35 177.5h1M47.5 168h1M36.5 187.5h1M45 176h1M41 163.5h1M68.5 167.5h1M61.5 167.5h1M45.5 176.5h1M46 168.5h1M39 169.5h1M39 190h1M34 165.5h1M39 188.5h1M49 164.5h1M35.5 196h1M36.5 190h1M36.5 188.5h1M35 185.5h1M39.5 192h1M37.5 166.5h1M35.5 162h1M44.5 166h1M66 167.5h1M39.5 176h1M35 165.5h1M53.5 168h1M59.5 162.5h1M51 165.5h1M42.5 163.5h1M62.5 173.5h1M41 175.5h1M33.5 189h1M68 172.5h1M37 175h1M35.5 191h1M33.5 168.5h1M48.5 176.5h1M56 175h1M45 179h1M39.5 177.5h1M59 165h1M46 182.5h1M45.5 177.5h1M41 169h1M45.5 170h1M36.5 198h1M33.5 185h1M36 181.5h1M32.5 191h1M33 186h1M60 179.5h1M38 176.5h1M54.5 164h1M44 168h1M44.5 168.5h1M33 188h1M46 162.5h1M46.5 164h1M67.5 173h1M47.5 172h1M36.5 171.5h1M39.5 165.5h1M42 178.5h1M65 161h1M40 192h1M53.5 181h1M43 168.5h1M33 165h1M54.5 167.5h1M51.5 170.5h1M35.5 195.5h1M56 168h1M51 174.5h1M38.5 183.5h1M39.5 167.5h1M43 166.5h1M46.5 173.5h1M51 172.5h1M36.5 192h1M40 170h1M64 171.5h1M38 170h1M48.5 173h1M60 169.5h1M48.5 165.5h1M80.5 173.5h1M46 170h1M42 162h1M36.5 184h1M37 186h1M66.5 165h1M37 173.5h1M66.5 174.5h1M50 172.5h1M47 160.5h1M35 164.5h1M43 171.5h1M60 181.5h1M40 173h1M47 180.5h1M44.5 176.5h1M44 172h1M36.5 177.5h1M36 180h1M45.5 174.5h1M32.5 181.5h1M37.5 197.5h1M35 197h1M34.5 196h1M33.5 177.5h1M37 179.5h1M36.5 185.5h1M37.5 191h1M33 189h1M33 169h1M39 173h1M38.5 197.5h1M37 187h1M56 172h1M45 175.5h1M39 161.5h1M47 164h1M57.5 174h1M37 166h1M73 172h1M33 177h1M39.5 164.5h1M37.5 189.5h1M49.5 177.5h1M55.5 172.5h1M47.5 167h1M39.5 175.5h1M46 159.5h1M44 178h1M36 173h1M60.5 156.5h1M46.5 169h1M58 167.5h1M40 174.5h1M38 174.5h1M57.5 187h1M33 171.5h1M44.5 165.5h1M47 173.5h1M32 169.5h1M43.5 170.5h1M46 174.5h1M51 180h1M44 166.5h1M49 172.5h1M46 172.5h1M36 167.5h1M37.5 169.5h1M56.5 168h1M43 165.5h1M56 168.5h1M60.5 173h1M61 170h1M44.5 167.5h1M69 169.5h1M37.5 189h1M50.5 174.5h1M37.5 168.5h1M34.5 158.5h1M47 172.5h1M36 174h1M57 172.5h1M41 166h1M47.5 177.5h1M52 177h1M40.5 174.5h1M69 168.5h1M52.5 167.5h1M42.5 165h1M64.5 168h1M32.5 192.5h1M43 167.5h1M37.5 185h1M40.5 172h1M57.5 169h1M40.5 172.5h1M42.5 172h1M72.5 162.5h1M34.5 191.5h1M48 164h1M54 166h1M32.5 185.5h1M51 164h1M34.5 185h1M45.5 180.5h1M58.5 170h1M65.5 171h1M50 170.5h1M34 188h1M32.5 161.5h1M55.5 167h1M66 165h1M54.5 170.5h1M47.5 171h1M55.5 175h1M60.5 174.5h1M45.5 178.5h1M53 175h1M51.5 176.5h1M54 169.5h1M37 192h1M63 163h1M33 197.5h1M36 193.5h1M49.5 181.5h1M59 166h1M42 176h1M34.5 167h1M37 184h1M42.5 169h1M51.5 176h1M61 174.5h1M34 187h1M42.5 168.5h1M33 171h1M37.5 176h1M54 166.5h1M35.5 187.5h1M49 175h1M46 175h1M38.5 192h1M44 163h1M42.5 166.5h1M51 172h1M56.5 169.5h1M38.5 184h1M34 195.5h1M38 183.5h1M45 174.5h1M40 178.5h1M39.5 174h1M34.5 184h1M37 163h1M54 171.5h1M66 169h1M42 161h1M46.5 171h1M43.5 177h1M37 197.5h1M38.5 177.5h1M46 178.5h1M35 194h1M33 187.5h1M37.5 179h1M56.5 166.5h1M37.5 173h1M64.5 169h1M34 168.5h1M49 168h1M46 168h1M33 188.5h1M65 172h1M38.5 179h1M32.5 193.5h1M57 178.5h1M56 171h1M38.5 173h1M58 178.5h1M37 184.5h1M34.5 195h1M37.5 171h1M56.5 171.5h1M51 168.5h1M38 186h1M44.5 180.5h1M40 173.5h1M38 173.5h1M58 168h1M58 164h1M52.5 175h1M39.5 194h1M33.5 173h1M40 174h1M39 196h1M51 166.5h1M40.5 168h1M39 193h1M36 170.5h1M33 186.5h1M37 187.5h1M38 165h1M36 168h1M42.5 177.5h1M51.5 174.5h1M40 179.5h1M36.5 186h1M37 188.5h1M65 169h1M38 189.5h1M56 169.5h1M46 179.5h1M36.5 174h1M48 167h1M54.5 166.5h1M58 188h1M41 171h1M46 172h1M42.5 162h1M37 191.5h1M42.5 163h1M39.5 177h1M32.5 180h1M38.5 187.5h1M65.5 170h1M52 164.5h1M36 197.5h1M55.5 168.5h1M45 175h1M41 159.5h1M36.5 189.5h1M67 170h1M53 168.5h1M41.5 170.5h1M39 182h1M72 173.5h1M38 190.5h1M36.5 182h1M33 196.5h1M62.5 185.5h1M32.5 183.5h1M37.5 197h1M48.5 166.5h1M38 169h1M53.5 180.5h1M38 189h1M36 189.5h1M38.5 175.5h1M40 177h1M35 196h1M38.5 186.5h1M47 169.5h1M57 169.5h1M37 176.5h1M33 185.5h1M43 165h1M35.5 193h1M34.5 186.5h1M60 167.5h1M33 179h1M44.5 182h1M46 166.5h1M34 191h1M47.5 167.5h1M36 195.5h1M35.5 188h1M39.5 170.5h1M58.5 168h1M39.5 168h1M35 191h1M40.5 168.5h1M57 177h1M38 167h1M49 171.5h1M32.5 188h1M66.5 185.5h1M32.5 197.5h1M48 171h1M51.5 175h1M58 166.5h1M61 172h1M37 192.5h1M65.5 172h1M42 180.5h1M55 164.5h1M59 163.5h1M63.5 165.5h1M37.5 180.5h1M52 170h1M47 182.5h1M45 181h1M37.5 192.5h1M47.5 172.5h1M37 185.5h1M46.5 161.5h1M66 190h1M36.5 167h1M54.5 171h1M48.5 177.5h1M38.5 192.5h1M56 173h1M42 164h1M49 176h1M52 173h1M35 195.5h1M41.5 169.5h1M34.5 192.5h1M62 180h1M41.5 178h1M41.5 169h1M60.5 177h1M36.5 183.5h1M35 190h1M51 169.5h1M47.5 175.5h1M42.5 176.5h1M47 176h1M61.5 182.5h1M44.5 167h1M35 189h1M38.5 164h1M36.5 170.5h1M45.5 166h1M40.5 176h1M46.5 174.5h1M61 177h1M37.5 193h1M39 177.5h1M66 171.5h1M36 192h1M43 167h1M38.5 193h1M45 168.5h1M33 197h1M34 182.5h1M34 171.5h1M37 174.5h1M50 164.5h1M40 181h1M32.5 185h1M65 169.5h1M45.5 169.5h1M52 174.5h1M37 172.5h1M39 197.5h1M39.5 178h1M37 163.5h1M46.5 164.5h1M50 175.5h1" stroke="#5c5c5c" stroke-width="1.05" fill="none"/><path d="M32.5 198h1M36.5 197.5h1M51 171.5h1M38 184.5h1M34.5 174h1M36.5 191h1M40.5 165.5h1M39 171h1M60 175h1M42.5 165.5h1M69 172.5h1M43.5 170h1M43 168h1M36 195h1M39.5 198h1M34 184h1M35.5 183.5h1M34.5 187h1M38.5 182h1M37 197h1M34.5 163.5h1M58.5 171.5h1M61.5 179h1M35 176h1M61 170.5h1M39.5 182.5h1M36.5 166h1M36 171h1M41 165h1M66 179h1M40 189h1M41 172h1M47.5 170.5h1M55 173.5h1M32.5 184h1M38 164.5h1M48 170h1M42 177h1M61.5 167.5h1M45.5 176.5h1M65 176.5h1M55 174h1M51 170h1M41.5 195h1M35.5 196h1M68 174h1M36.5 169.5h1M33.5 195.5h1M41.5 163h1M51.5 166.5h1M41.5 165.5h1M38.5 169h1M35 185.5h1M58 169.5h1M44.5 166h1M33 170.5h1M35 195h1M38 160h1M72 166h1M66 184.5h1M36 198.5h1M55 172.5h1M52 157.5h1M37 175h1M35.5 191h1M36.5 185h1M66.5 178.5h1M39.5 177.5h1M51.5 167h1M56.5 165h1M50 173h1M46.5 178.5h1M45.5 170h1M48 167.5h1M39 186.5h1M32.5 191h1M56.5 172h1M33 186h1M39.5 185.5h1M35.5 189.5h1M48.5 176h1M47.5 172h1M63 173.5h1M37 178.5h1M46 176.5h1M61.5 164.5h1M49.5 166.5h1M40 176h1M39 162.5h1M50 186h1M37 164h1M71 166.5h1M40 184h1M48.5 170h1M36.5 162.5h1M61 187.5h1M48 174.5h1M38 196.5h1M35.5 195.5h1M43.5 175.5h1M56 164h1M51 174.5h1M37.5 170.5h1M35 198.5h1M39.5 167.5h1M65.5 169.5h1M45.5 167.5h1M33 187h1M43 166.5h1M46.5 173.5h1M78 177h1M35 163.5h1M48 163.5h1M40 170h1M64 171.5h1M35.5 188.5h1M49.5 171.5h1M46.5 174h1M36.5 176h1M53 161.5h1M38.5 168h1M47 175h1M37 186h1M37 173.5h1M32.5 190h1M57.5 164h1M47.5 169h1M34 197h1M44 179.5h1M38 179h1M55.5 167.5h1M40 173h1M66.5 172.5h1M44 172h1M35.5 185h1M46 179h1M42.5 175h1M49 173h1M46 165.5h1M53.5 169.5h1M39.5 187.5h1M37.5 197.5h1M58 177.5h1M52.5 162.5h1M32.5 164.5h1M38.5 162h1M58.5 169.5h1M37 179.5h1M35 186.5h1M39 179h1M40 171h1M52 165h1M33 189h1M45.5 163.5h1M53.5 168.5h1M39 165.5h1M38 167.5h1M37 187h1M36 192.5h1M43.5 175h1M47 164h1M36 170h1M57.5 174h1M40 184.5h1M42.5 178.5h1M41.5 162.5h1M73 172h1M70 173h1M54.5 175.5h1M68 183.5h1M40.5 173h1M55 178.5h1M55.5 172.5h1M61 176.5h1M32.5 182.5h1M39 167.5h1M36.5 171h1M36 179h1M66.5 169h1M37 183h1M44 169h1M46.5 169h1M55 168h1M61.5 178.5h1M40 174.5h1M46.5 168.5h1M77.5 170.5h1M33 171.5h1M41.5 196.5h1M47 173.5h1M43.5 170.5h1M46 174.5h1M38 172.5h1M73.5 176.5h1M33 167h1M44 177h1M37 178h1M44 166.5h1M48.5 164.5h1M42 178h1M37 168.5h1M36 167.5h1M37.5 190h1M40.5 188h1M42 168.5h1M41.5 170h1M43 173h1M43 165.5h1M49.5 181h1M49.5 171h1M44.5 171h1M48.5 175.5h1M62.5 168h1M57 174.5h1M37 185h1M38.5 169.5h1M37.5 168.5h1M32.5 196.5h1M58 174.5h1M38.5 190h1M38.5 188.5h1M39 163.5h1M56 166.5h1M40.5 165h1M34.5 190.5h1M50.5 172.5h1M34 168h1M38 194.5h1M54.5 175h1M38 175.5h1M41.5 164h1M46.5 167h1M38.5 191.5h1M58 163.5h1M40 197h1M36 174.5h1M41 183h1M40.5 163.5h1M39.5 175h1M37 171.5h1M62.5 163h1M37.5 186.5h1M47.5 161h1M43.5 181h1M51.5 171.5h1M34.5 177h1M37.5 171.5h1M45 173h1M68 166h1M44.5 163.5h1M40.5 193.5h1M41 168.5h1M56.5 179.5h1M42.5 183h1M52.5 172.5h1M35 186h1M43.5 166h1M49.5 181.5h1M33.5 186.5h1M43 163.5h1M59 166h1M36 175.5h1M34.5 167h1M41.5 174.5h1M54 168.5h1M45.5 164h1M47 177h1M42.5 169h1M64.5 172h1M40 175h1M50 173.5h1M55 168.5h1M41 171.5h1M44 163h1M59.5 170.5h1M42.5 177h1M54.5 173.5h1M38 180.5h1M62 171.5h1M35 187h1M39 180h1M43.5 178h1M59.5 168h1M59.5 164h1M62 167h1M51 187h1M67.5 173.5h1M48 182h1M32.5 172.5h1M45 172h1M44 171h1M37 197.5h1M62.5 168.5h1M37.5 185.5h1M54 167h1M40.5 175h1M42 161.5h1M50 166h1M64.5 168.5h1M33 188.5h1M36.5 178.5h1M46.5 166h1M63.5 166h1M35 169h1M37 184.5h1M40.5 178.5h1M38 186h1M54.5 158.5h1M60 182.5h1M50.5 168h1M37.5 184.5h1M39 196h1M63.5 169.5h1M36 170.5h1M39 186h1M39 173.5h1M51.5 174.5h1M50 177h1M50 166.5h1M34.5 184.5h1M36.5 173.5h1M37 190h1M46 165h1M36.5 188h1M56 169.5h1M74 168h1M35 167h1M37.5 198.5h1M49 172h1M41 171h1M35.5 196.5h1M37 191.5h1M43.5 177.5h1M52.5 168h1M38 182h1M50 171.5h1M55 173h1M51.5 164.5h1M45 167h1M50.5 179.5h1M36.5 172h1M45 175h1M38 195.5h1M36.5 189.5h1M37.5 194h1M67.5 171.5h1M41.5 168h1M37 186.5h1M37.5 194.5h1M55.5 185h1M55.5 166.5h1M38.5 164.5h1M61 164h1M57.5 168.5h1M35.5 173h1M37 182.5h1M44 176.5h1M43 173.5h1M38 189h1M39 183h1M47.5 179h1M46.5 176.5h1M38.5 194.5h1M36 189.5h1M58.5 180.5h1M43 174h1M36.5 193.5h1M43.5 171h1M61.5 171h1M46 169h1M38.5 197h1M36 166h1M59.5 171.5h1M38 185h1M38 166.5h1M33 185.5h1M39 178h1M35.5 193h1M42 176.5h1M39 189h1M46 177h1M36.5 169h1M35.5 186h1M36 195.5h1M47 168.5h1M76.5 170h1M34 171h1M34.5 182.5h1M40.5 178h1M41.5 165h1M44 170h1M41.5 179.5h1M37 196.5h1M36.5 166.5h1M47.5 174h1M68 163.5h1M32.5 173.5h1M50.5 177h1M60.5 166h1M32.5 197.5h1M73.5 173.5h1M59 174.5h1M50 165.5h1M35.5 174.5h1M37 192.5h1M36 191.5h1M63 167.5h1M37.5 175h1M39.5 196h1M34 166h1M66.5 173h1M40.5 166.5h1M59 172.5h1M37 170h1M60 172h1M36 177h1M39 167h1M57.5 176h1M38.5 196.5h1M66 169.5h1M35 166h1M48 166h1M43.5 181.5h1M51 166h1M54.5 171h1M34.5 196.5h1M48.5 177.5h1M34 169.5h1M38 184h1M70 167h1M42.5 182.5h1M62.5 164.5h1M41 180h1M45.5 171h1M35 190.5h1M41.5 169h1M38 177.5h1M32.5 195.5h1M32.5 183h1M39 184h1M61.5 171.5h1M55.5 171h1M41 170h1M53 171h1M40.5 176h1M37 174h1M63.5 174.5h1M52.5 167h1M42.5 176h1M33.5 170.5h1M32.5 169h1M35 185h1M44 172.5h1M56 174h1M47 177.5h1M49 165.5h1M33.5 168h1M37.5 188h1M38.5 193h1M38 191h1M35 198h1M36 184h1M41.5 171.5h1M42 174.5h1M39.5 169.5h1M32.5 177h1M32.5 185h1M45.5 169.5h1M39 163h1M63 169h1M39 197.5h1M39.5 178h1M37.5 165h1M47 173h1M46 171h1M57 161h1M46.5 164.5h1" stroke="#404040" stroke-width="1.05" fill="none"/><path d="M36.5 197.5h1M34.5 188h1M50.5 165.5h1M39.5 168.5h1M51 171.5h1M38 184.5h1M37.5 172h1M38.5 165h1M41 167.5h1M46.5 175.5h1M39 171h1M38.5 174.5h1M60 175h1M62.5 175h1M42.5 161h1M48 162.5h1M61.5 177.5h1M37 194h1M43 168h1M37 193.5h1M46 166h1M55 164h1M39.5 198h1M41.5 176h1M37 194.5h1M44.5 163h1M35 192h1M34.5 187h1M49.5 173.5h1M38.5 182h1M37.5 195.5h1M68.5 173h1M35 176h1M48 176h1M50 176.5h1M36 171h1M34 170h1M35.5 168h1M57.5 164.5h1M44.5 181h1M56.5 164h1M51.5 169h1M47.5 170.5h1M33.5 182h1M34 185.5h1M37.5 169h1M35 177.5h1M41 163.5h1M34 195h1M45.5 176.5h1M34.5 194.5h1M55 174h1M38.5 169h1M67.5 180h1M35 185.5h1M39.5 192h1M33.5 190.5h1M38 198h1M33.5 169.5h1M46.5 160.5h1M33 164h1M46.5 180.5h1M77 173.5h1M60 173.5h1M56.5 174h1M33.5 178h1M57 164.5h1M41 175.5h1M33.5 189h1M36 188.5h1M45 179h1M33 196h1M39 160h1M68.5 172h1M46.5 178.5h1M67 165h1M33.5 177h1M62.5 179.5h1M56.5 172.5h1M35.5 189.5h1M40.5 197h1M36.5 182.5h1M36.5 171.5h1M43 169.5h1M65.5 166h1M62.5 187h1M39.5 173h1M39.5 161h1M45.5 165.5h1M52 178.5h1M55.5 170h1M59.5 170h1M36 160h1M49.5 166.5h1M38 176h1M40.5 182.5h1M43 168.5h1M42 168h1M35.5 195.5h1M47 176.5h1M52 168h1M70.5 174.5h1M45.5 167.5h1M35.5 169.5h1M51 172.5h1M53 173h1M41 175h1M55 177h1M61 178h1M70.5 172.5h1M33 166h1M33 182h1M47.5 169.5h1M37 162h1M35.5 178h1M39 196.5h1M63 166h1M56.5 169h1M46 170h1M65.5 181.5h1M35.5 191.5h1M40 185.5h1M50 172h1M72.5 171h1M40.5 180h1M32.5 190h1M35 164.5h1M48 164.5h1M44.5 162.5h1M33 195.5h1M54 175h1M46.5 179.5h1M38 165.5h1M36.5 177.5h1M38.5 196h1M36.5 170h1M45.5 174.5h1M33 190.5h1M39.5 187.5h1M37.5 197.5h1M32.5 164.5h1M63 169.5h1M65 172.5h1M44 182h1M35 186.5h1M39.5 163.5h1M42 179.5h1M66 176.5h1M40 167.5h1M61 171.5h1M37 189.5h1M55.5 165h1M32.5 160h1M38.5 191h1M36 170h1M59 167h1M32.5 186.5h1M54 170.5h1M38 174h1M39 167.5h1M42.5 164h1M37 195.5h1M37.5 166h1M36.5 167.5h1M76 172h1M41 173.5h1M44 169h1M48.5 163.5h1M40 174.5h1M34.5 172h1M38 174.5h1M36.5 184.5h1M44.5 173h1M38.5 166h1M43.5 170.5h1M40 163.5h1M63 167h1M42 178h1M62 165h1M37.5 169.5h1M56 169h1M42 191.5h1M43 173h1M42.5 173.5h1M52 168.5h1M60.5 173h1M51.5 168.5h1M64 167.5h1M35 192.5h1M44.5 167.5h1M37.5 189h1M38.5 190.5h1M39 172.5h1M50.5 174.5h1M36 188h1M35 170h1M32.5 196.5h1M57 172h1M42 166.5h1M38 193.5h1M46 164.5h1M34 168h1M38 194.5h1M44 167h1M43 167.5h1M43.5 173.5h1M63 176h1M40.5 172h1M57.5 169h1M34.5 189h1M34.5 191.5h1M33.5 188.5h1M39.5 175h1M60 179h1M48 164h1M36.5 164.5h1M64 174.5h1M50 178.5h1M41.5 167.5h1M34.5 185h1M32.5 173h1M45.5 180.5h1M38.5 198h1M43.5 179.5h1M37.5 171.5h1M61 167.5h1M54.5 178.5h1M50 170.5h1M35.5 171h1M45 173h1M34 188h1M72 172.5h1M50.5 175.5h1M40.5 193.5h1M35 193h1M58.5 179h1M63 163h1M33 197.5h1M34.5 171.5h1M41 166.5h1M44.5 164.5h1M36 194.5h1M75 169.5h1M57.5 175h1M34.5 167h1M41.5 174.5h1M55 169.5h1M45.5 168h1M67 166h1M64.5 172h1M53.5 171h1M38 175h1M50 173.5h1M37 177.5h1M43.5 169.5h1M46.5 162h1M73 170.5h1M45 174h1M41 171.5h1M35.5 198.5h1M55.5 170.5h1M56 177.5h1M52.5 175.5h1M53 170.5h1M38.5 176h1M43.5 178h1M33.5 176.5h1M51.5 177.5h1M59.5 168h1M59.5 164h1M67 169.5h1M34 195.5h1M38 183.5h1M47 167h1M36.5 175h1M34.5 184h1M61 164.5h1M32.5 187h1M45 172h1M42 173h1M58 175h1M57.5 168h1M37 197.5h1M51.5 179h1M36.5 180.5h1M49.5 176.5h1M35 193.5h1M61 175.5h1M38 168h1M47.5 164.5h1M39.5 174.5h1M53 162h1M50 166h1M58.5 172.5h1M37 181h1M49 168h1M37 171h1M46 168h1M46 164h1M44.5 180h1M57 178.5h1M46.5 166h1M38 196h1M32.5 194.5h1M48 168.5h1M32.5 175.5h1M51 169h1M57 170.5h1M38 193h1M64 160.5h1M33.5 185.5h1M58 168h1M36 183.5h1M39.5 194h1M33.5 173h1M43 175h1M54.5 169.5h1M69.5 170h1M46.5 169.5h1M43 160.5h1M39 162h1M41 165.5h1M38.5 184.5h1M39 173.5h1M68.5 176h1M36.5 186h1M33 182.5h1M33.5 167.5h1M38 172h1M37 188.5h1M33.5 193h1M46 179.5h1M49 172h1M41 171h1M54 163h1M55.5 169.5h1M40.5 197.5h1M37 164.5h1M45.5 177h1M53 169.5h1M60.5 170.5h1M65 166.5h1M55 173h1M68 173h1M53 178h1M53 169h1M54.5 171.5h1M35 183.5h1M33.5 174.5h1M42.5 181h1M37 160h1M43.5 179h1M54.5 167h1M39 166h1M48.5 168.5h1M47 166h1M55 171h1M33 196.5h1M59 173h1M35 170.5h1M65.5 164h1M37 182.5h1M34.5 181.5h1M58.5 160.5h1M44 176.5h1M60 173h1M47.5 179h1M64 165h1M62.5 173h1M44.5 174.5h1M32.5 170.5h1M47.5 161.5h1M63 170h1M44.5 172.5h1M40 177h1M55.5 171.5h1M36 182h1M68 159.5h1M59.5 171.5h1M38 185h1M35 196h1M38 166.5h1M69.5 163.5h1M50.5 169.5h1M39 189h1M39.5 178.5h1M39 168.5h1M53 167h1M70 169.5h1M43 172h1M40.5 169.5h1M61.5 166h1M40.5 190h1M35.5 188h1M51 163h1M42.5 169.5h1M58.5 168h1M63 164h1M64.5 171h1M56 176h1M32.5 186h1M41 160h1M38.5 176.5h1M32.5 188h1M58 166.5h1M34.5 162.5h1M49 167h1M70.5 181h1M54.5 179h1M61.5 169.5h1M65.5 172.5h1M40.5 166.5h1M52.5 158.5h1M50 161.5h1M35 189.5h1M53.5 173.5h1M35.5 187h1M39 171.5h1M44 164h1M63.5 173h1M58.5 173.5h1M45 181h1M47 171.5h1M57 171.5h1M61.5 168.5h1M55.5 177.5h1M36.5 167h1M39.5 197.5h1M36 198h1M34 190h1M40 170.5h1M42.5 171.5h1M34 188.5h1M42 164h1M49 176h1M35 195.5h1M34 189h1M59.5 163h1M39 192h1M41.5 178h1M37.5 168h1M70.5 187.5h1M64.5 181.5h1M37 167.5h1M63 163.5h1M32.5 195.5h1M42.5 176.5h1M61.5 171.5h1M35 189h1M36.5 170.5h1M32.5 190.5h1M55.5 171h1M44 174.5h1M48.5 171h1M33.5 170.5h1M43.5 162.5h1M35.5 177h1M37.5 173.5h1M46.5 163.5h1M56.5 176.5h1M34.5 167.5h1M40.5 177.5h1M32.5 185h1M38.5 173.5h1M32.5 166.5h1M42 172h1M49.5 170.5h1M45 166.5h1M69.5 170.5h1M46 171h1M37 163.5h1M50 175.5h1" stroke="#6a6a6a" stroke-width="1.05" fill="none"/><path d="M39.5 181.5h1M34.5 174h1M56.5 175h1M54 173h1M36.5 191h1M52.5 170.5h1M44 175.5h1M42.5 179h1M59.5 169.5h1M36.5 181h1M47.5 175h1M37 194h1M36 195h1M45 171.5h1M48.5 169.5h1M58 171h1M56.5 170h1M34 184h1M44.5 163h1M34.5 187h1M37.5 183h1M43.5 173h1M61 170.5h1M52.5 162h1M36.5 166h1M58.5 167h1M51 176h1M35.5 170.5h1M37.5 190.5h1M42 169h1M64.5 170h1M38.5 193.5h1M44.5 181h1M33 180.5h1M33.5 166h1M38 191.5h1M60.5 165.5h1M62.5 164h1M37.5 169h1M45 176h1M43.5 167.5h1M33 183.5h1M51 170h1M34.5 175.5h1M64.5 173h1M33.5 195.5h1M36.5 190h1M41.5 161h1M41.5 165.5h1M42.5 174.5h1M46.5 175h1M36.5 178h1M48 179h1M65.5 173.5h1M35 161h1M51 173h1M55 172h1M63 168h1M34 167.5h1M41 175.5h1M33.5 169h1M64.5 167.5h1M37 175h1M38 182.5h1M32.5 163h1M74.5 163h1M67.5 170h1M51.5 167h1M40.5 164.5h1M46 182.5h1M50 173h1M43.5 172h1M39 186.5h1M33.5 177h1M59 172h1M36.5 186.5h1M33 186h1M39.5 185.5h1M35 184.5h1M44.5 168.5h1M58.5 163h1M62.5 172h1M39.5 173h1M39.5 165.5h1M48 174h1M64.5 174.5h1M37 170.5h1M47.5 166h1M36.5 162.5h1M42 168h1M35 187.5h1M50.5 176.5h1M57.5 170h1M65.5 169.5h1M38 192.5h1M46.5 173.5h1M35.5 188.5h1M61 178h1M38 170h1M34.5 178.5h1M46.5 174h1M48.5 173h1M33 166h1M59 178h1M33 182h1M63 166h1M56.5 169h1M48.5 161.5h1M36 176.5h1M42 163h1M32.5 190h1M57.5 164h1M37 188h1M46.5 165h1M33 195.5h1M43 171.5h1M47.5 168.5h1M45 163.5h1M54 175h1M54.5 172h1M38 165.5h1M59 177h1M72 176.5h1M42.5 175h1M36.5 170h1M49 173h1M35 175.5h1M42.5 160.5h1M69 173.5h1M33 178h1M49.5 176h1M44.5 176h1M40 171h1M37 172h1M39 173h1M53.5 168.5h1M33 168.5h1M33 191.5h1M38.5 197.5h1M55.5 165h1M45 175.5h1M58 173h1M42.5 178.5h1M32.5 186.5h1M60 171.5h1M37 166h1M37 182h1M33 185h1M43 176h1M47.5 171.5h1M38.5 181h1M33.5 163h1M49.5 177.5h1M40.5 173h1M62.5 167h1M56 182h1M63 166.5h1M44 169.5h1M35.5 162.5h1M59.5 163.5h1M42.5 164h1M38.5 189.5h1M36 164h1M43 177.5h1M58 167.5h1M46.5 168.5h1M49.5 163h1M33 171.5h1M35.5 192h1M48 180h1M39 174h1M43.5 170.5h1M37.5 187.5h1M35 175h1M50.5 174h1M42 178h1M35 196.5h1M46 172.5h1M36 167.5h1M52.5 165.5h1M49 163.5h1M43 165.5h1M40.5 174h1M35 192.5h1M59 177.5h1M34.5 195.5h1M36 188h1M35 170h1M47 172.5h1M50.5 172h1M38 193.5h1M56 166.5h1M47.5 177.5h1M66.5 167h1M63.5 171.5h1M58 172.5h1M38.5 189h1M42.5 165h1M35.5 185.5h1M38 175.5h1M46.5 167h1M58.5 176h1M61 165.5h1M65.5 165.5h1M35.5 195h1M59 161h1M34.5 189h1M48 168h1M69 166.5h1M37.5 198h1M34 196h1M42 171.5h1M37.5 186.5h1M61.5 159h1M36 172.5h1M53.5 177.5h1M33 177.5h1M41.5 167.5h1M55 166h1M45 173h1M39.5 170h1M41 168.5h1M69 171.5h1M54.5 170.5h1M41.5 174h1M35 186h1M33 165.5h1M57 169h1M58.5 179h1M43.5 166h1M37 192h1M36 193.5h1M34 165h1M33.5 186.5h1M56.5 166h1M48 159h1M42.5 169h1M44.5 175.5h1M41.5 172.5h1M38 175h1M43.5 169.5h1M45 174h1M40 180.5h1M35 172.5h1M38 180.5h1M53 170.5h1M41 167h1M34.5 192h1M43.5 168.5h1M37.5 177.5h1M39.5 173.5h1M32 185.5h1M45 174.5h1M37.5 170h1M48.5 168h1M32.5 172.5h1M32.5 187h1M33.5 180h1M42 173h1M49 178.5h1M43.5 177h1M37.5 185.5h1M54 167h1M49.5 176.5h1M33 187.5h1M38 168h1M55 171.5h1M34.5 177.5h1M35.5 194.5h1M35.5 175.5h1M55.5 173.5h1M38.5 185.5h1M39 178.5h1M56 171h1M43 176.5h1M35.5 186.5h1M60 160h1M55 162.5h1M44.5 175h1M37 184.5h1M39 168h1M37.5 171h1M38 193h1M53.5 164.5h1M51 168.5h1M41 177.5h1M64 180.5h1M42 159.5h1M36 183.5h1M40.5 170.5h1M48 166.5h1M37.5 184.5h1M36 178.5h1M44.5 170h1M49 173.5h1M45 169h1M40.5 168h1M41 179h1M37 187.5h1M47.5 162.5h1M47.5 176.5h1M43 170h1M36.5 186h1M41.5 175h1M33 182.5h1M48 171.5h1M39.5 169h1M33.5 167.5h1M33.5 193h1M44.5 164h1M42 163.5h1M43 178.5h1M60 180h1M58 173.5h1M38 187h1M54.5 166.5h1M46 172h1M54 165.5h1M62 171h1M58 174h1M61 180.5h1M38 166h1M39.5 177h1M37 164.5h1M33 176.5h1M36.5 165h1M65 166.5h1M49 166h1M39 189.5h1M55.5 168.5h1M35 183.5h1M47.5 170h1M45 160.5h1M35 178.5h1M59.5 177h1M55.5 166.5h1M67.5 167h1M37.5 175.5h1M48 170.5h1M58.5 175h1M56.5 165.5h1M33.5 163.5h1M36 179.5h1M65 167h1M37 182.5h1M48.5 166.5h1M34.5 164.5h1M36.5 195.5h1M44.5 174.5h1M38.5 175.5h1M36.5 193.5h1M44.5 172h1M44.5 172.5h1M36.5 190.5h1M55.5 171.5h1M57 169.5h1M53 171.5h1M35.5 167.5h1M33 185.5h1M45 168h1M50.5 169.5h1M62.5 171h1M49 177h1M35 162h1M43 179.5h1M33 179h1M47 178h1M36.5 169h1M35 163h1M36 183h1M35.5 188h1M58 169h1M65.5 174h1M42.5 169.5h1M42 180h1M63 164h1M54.5 177.5h1M56.5 159.5h1M35.5 174h1M32.5 193h1M46.5 177.5h1M67 174h1M38 171.5h1M41.5 179.5h1M36.5 166.5h1M65.5 165h1M32.5 197.5h1M42 180.5h1M60 174.5h1M66.5 165.5h1M64.5 166h1M44 173h1M44.5 169h1M35.5 187h1M69 175h1M37.5 180.5h1M36 185h1M50 171h1M50.5 171.5h1M66 169.5h1M40 183.5h1M48 166h1M34 187.5h1M47.5 163.5h1M52.5 169h1M43.5 164.5h1M37 173h1M36 198h1M34.5 196.5h1M52 179h1M38 184h1M34 190h1M46.5 167.5h1M57 162.5h1M49 176h1M32.5 182h1M34.5 192.5h1M53.5 172h1M41 180h1M45.5 171h1M51.5 168h1M58.5 172h1M34.5 170h1M63 172h1M34 191.5h1M35 190.5h1M60.5 177h1M38 177.5h1M60.5 166.5h1M44 159.5h1M48.5 163h1M42.5 176.5h1M34.5 185.5h1M47 176h1M57 176h1M50.5 176h1M37.5 196h1M59.5 171h1M33 194h1M42 173.5h1M58 170.5h1M32 188h1M37.5 193h1M34 198h1M33 193.5h1M38 163h1M42 174h1M33.5 170.5h1M44 172.5h1M38 197.5h1M50.5 177.5h1M37.5 188h1M45 168.5h1M34 182.5h1M41.5 171.5h1M62 173h1M39 161h1M52 174.5h1M41.5 167h1M42.5 170h1M54.5 164.5h1M45.5 178h1" stroke="#4e4e4e" stroke-width="1.05" fill="none"/>
<path d="M51.8 133.8V199.4M31.7 180.6H103.6" stroke="#1e1e1e" stroke-width="1.3" fill="none"/>
<path d="M139.4 132.4H211.3V199.4" fill="none" stroke="#d2d2d2" stroke-width="1"/>
<path d="M139.4 132.4V199.4H211.3" fill="none" stroke="#bdbdbd" stroke-width="1"/>
<path d="M133.8 131.5l1.6 1.4M133.8 153.0l1.6 1.4M133.8 175.1l1.6 1.4M133.8 196.5l1.6 1.4M160.5 203.0l1.6 -1.4M184.9 203.0l1.6 -1.4M207.9 203.0l1.6 -1.4" stroke="#b8b8b8" stroke-width="0.8"/>
<path d="M135.5 133.7h1.8M135.5 155.2h1.8M135.5 177.3h1.8M135.5 198.7h1.8M162.3 201.6h1.8M186.7 201.6h1.8M209.7 201.6h1.8" stroke="#7a7a7a" stroke-width="1.5"/>
<path d="M170.9 204.6h9" stroke="#9a9a9a" stroke-width="1.6" stroke-dasharray="2 0.6"/>
<path d="M133.6 160.9v10" stroke="#a8a8a8" stroke-width="1.5" stroke-dasharray="2 0.6"/>
<path d="M191 193.5h1M152 177.5h1M147.5 184h1M143.5 170.5h1M183 163.5h1M143 196h1M187.5 187h1M146 191h1M144.5 171.5h1M179 189.5h1M148.5 166.5h1M188.5 192h1M182.5 193h1M186 191h1M188 192h1M144 168h1M151 163.5h1M150.5 184.5h1M182.5 186h1M180 193.5h1M141.5 174h1M151.5 177.5h1M184.5 189.5h1M154 176h1M155.5 192h1M150.5 159.5h1M184 187h1M180.5 181h1M148.5 171.5h1M155.5 176h1M179.5 197h1M151 164.5h1M141.5 174.5h1M151.5 162h1M185.5 160.5h1M156 176h1M180.5 189.5h1M145 178h1M184.5 195.5h1M181.5 192.5h1M151 197h1M140.5 184h1M166.5 195h1M182.5 172.5h1M152.5 169.5h1M146.5 161.5h1M185 185.5h1M177.5 163h1M154.5 178h1M140 184.5h1M154.5 189h1M171 172.5h1M186.5 187h1M181.5 195h1M167 177.5h1M184.5 181.5h1M155.5 165.5h1M189 168h1M180.5 190h1M183.5 181h1M151.5 166h1M154 171h1M157 189h1M165 192.5h1M146 198h1M149.5 166.5h1M185.5 196h1M142.5 162h1M143.5 169.5h1M150.5 186.5h1M184.5 198h1M176.5 171h1M145.5 162h1M153.5 158h1M185 184.5h1M141 162.5h1M145.5 186h1M178.5 168h1M144 183h1M157 166.5h1M145.5 173.5h1M189 188h1M143.5 168.5h1M180.5 185h1M148.5 179h1M153.5 192h1M144.5 159.5h1M149.5 167h1M142.5 171h1M152 186.5h1M153 172h1M175 168h1M144 169h1M154.5 176.5h1M185 187.5h1M148 175h1M140.5 174h1M144.5 174.5h1M145.5 172h1M145.5 189.5h1M144 185h1M149 173h1M149.5 183.5h1M189.5 193h1M180 196h1M150 167h1M183 193h1M145 170h1M180.5 162.5h1M151 164h1M154 164.5h1M187 195h1M149.5 170.5h1M183 188h1M154.5 192.5h1M141 179h1M143.5 162.5h1M147.5 162.5h1M185.5 195.5h1M185 194.5h1M147 173h1M179.5 188h1M150.5 170h1M154.5 170h1M152 176h1M181.5 194.5h1M140 162.5h1M182 190.5h1M153.5 191h1M153 169h1M145.5 169.5h1M147 161.5h1M185.5 190.5h1M153 168.5h1M185 186.5h1M192 191.5h1M177 167h1M148.5 163.5h1M151 188h1M141 171h1M176.5 186.5h1M143.5 184h1M145.5 185h1M151 165h1M170 181.5h1M152 185.5h1M155 174.5h1M180.5 185.5h1M149 172.5h1M150.5 167.5h1M151 172.5h1M146.5 196.5h1M155 163.5h1M192 182.5h1M179.5 194h1M180 183h1M183.5 192h1M150 163h1M186.5 196h1M190 197.5h1M147.5 195h1M179 187.5h1M145 174.5h1M151.5 185.5h1M147.5 161.5h1M151.5 179h1M144 162h1M177.5 170h1M151.5 165.5h1M182 192h1M152.5 163.5h1M145 164.5h1M151 169h1M147 194.5h1M184 190.5h1M144 171h1M157.5 188h1M187.5 198h1M185.5 184h1M146 164.5h1M167 192.5h1M161.5 194h1M155.5 164h1M156.5 172.5h1M186.5 166h1M182.5 195.5h1M186 182h1M148 168.5h1M188.5 193h1M146 160h1M154.5 160h1M182.5 188.5h1M184 185h1M184.5 197h1M175.5 154.5h1M148 177h1M188 186h1M186 193.5h1M155.5 167.5h1M150.5 169h1M149.5 198h1M182 195h1M184.5 186.5h1M188 188h1M182.5 191.5h1M145.5 163h1M154 188h1M189 163h1M153 191h1M182.5 181.5h1M152 194.5h1M153 171h1M146.5 187h1M186.5 191.5h1M185.5 191h1M145.5 171h1M188 187h1M144.5 165h1M149 178.5h1M177.5 163.5h1M181 186h1M185 187h1M151 178.5h1M183.5 163.5h1M181 188h1M141.5 167h1M185.5 184.5h1M146 175h1M141 170h1M150.5 167h1M147 170h1M155 164h1M151 168h1M184 192h1M188 194h1M148.5 174h1M184.5 196.5h1M185 194h1M188 193.5h1M191 184.5h1M146.5 169h1M153.5 164h1M184.5 192.5h1M148.5 174.5h1M181 187h1M143 184h1M149 162h1M178.5 166h1M173 169h1M156.5 160.5h1M153.5 167.5h1M176 165h1M189 189h1M182.5 184h1M146 168h1M186.5 192h1M181.5 168.5h1M158.5 174h1M143.5 175h1M181 183h1M167.5 164.5h1M182 194.5h1M155 165h1M149.5 161.5h1M156.5 178.5h1M175.5 193h1M142 169h1M179.5 166h1M150.5 196h1M144.5 166.5h1M142 168.5h1M144 184h1M184 191h1M183 183h1M152 164h1M143.5 178.5h1M148 171h1M141 174.5h1M184.5 186h1M150 165.5h1M152.5 188h1M145 165h1M186 196h1M187 189.5h1M144 177.5h1M159.5 183h1M184.5 173.5h1M183 190h1M144 170h1M184.5 188h1M145 179.5h1M157.5 170.5h1M154 175h1M153 162.5h1M143.5 168h1M140 170.5h1M143 167.5h1M190.5 189h1M159.5 190.5h1M154.5 159h1M186 197.5h1M145.5 162.5h1M152 186h1M170.5 163h1M179.5 191.5h1M175.5 187h1M146 172h1M152 173.5h1M149 169.5h1M153.5 194h1M151.5 164h1M144 165.5h1M159.5 189h1M186.5 191h1M156.5 173.5h1M187.5 194h1M149.5 174.5h1M152.5 189.5h1M146.5 168h1M143.5 193h1M182.5 184.5h1M171 171h1M181.5 183.5h1M176 166.5h1M170.5 181h1M149.5 163.5h1M171.5 176h1M186.5 184.5h1M145 190.5h1M184 188.5h1M185.5 196.5h1M146.5 162h1M152.5 183h1M184.5 194h1M154.5 193.5h1M149.5 164.5h1M145 168.5h1M150 172.5h1M148 164.5h1M140 179.5h1M150 163.5h1M183 162.5h1M183.5 193h1M143.5 187h1M186.5 187.5h1M178.5 184h1M146 168.5h1M195 172h1M140.5 177.5h1M151 182.5h1M181 170.5h1M189.5 192h1M155 167h1M186.5 188.5h1M157 175.5h1M148.5 170.5h1M151.5 187h1M190 193.5h1M152 169.5h1M146.5 189.5h1M153 167.5h1M148 182.5h1M170 164h1M140.5 163h1M144.5 191h1M188.5 189.5h1M152 169h1M142 163h1M147.5 190.5h1M186 185h1M185.5 193h1M182 188h1M140.5 181h1M176.5 172h1M174 194.5h1M180.5 166.5h1M185.5 188h1M186.5 186.5h1M151.5 190.5h1M152.5 167h1M140 189h1M189.5 195h1M153 174.5h1M178 164h1M182 159h1M166 196.5h1M185 195.5h1M179.5 179h1M188 190.5h1M181.5 187.5h1M145 170.5h1M183 191h1M152 167h1M178 167.5h1M188.5 189h1M188.5 191.5h1M185.5 187h1M145.5 163.5h1M184.5 183.5h1M181.5 190h1M149 163h1M148.5 189.5h1M149 165.5h1M184.5 178.5h1M158 187.5h1M155.5 188.5h1M185 189h1M191 165h1M185 191.5h1M176.5 169h1M155 191h1M142.5 193.5h1M188 185h1M153 175.5h1M171.5 164.5h1M178 159h1M145.5 193.5h1M149.5 164h1M154 166.5h1M187.5 188h1M148 173h1M141 173.5h1M187 191h1M172 167.5h1M185 198h1M150.5 185.5h1M181.5 198h1M147 191h1M142.5 169h1M148.5 190h1M191 195.5h1" stroke="#4e4e4e" stroke-width="1.05" fill="none"/><path d="M150.5 161h1M148.5 178h1M150 168h1M181.5 171.5h1M158 198h1M186 185.5h1M184.5 197.5h1M161 185h1M181 166.5h1M145 184.5h1M184.5 191h1M141.5 167.5h1M140 177.5h1M182.5 193h1M149.5 165h1M148 159h1M183 194.5h1M180 193.5h1M188.5 184h1M184.5 189.5h1M149.5 189.5h1M154 176h1M142.5 167h1M183 197h1M145 187.5h1M141 169.5h1M141 190h1M150 159h1M153.5 189h1M147.5 191h1M143 189.5h1M187 191.5h1M153.5 168.5h1M141.5 172.5h1M147 189h1M181.5 192.5h1M175.5 190h1M145 189h1M147 168.5h1M175.5 188.5h1M140.5 196.5h1M161 192h1M144.5 177.5h1M188.5 195h1M146 188.5h1M146.5 161.5h1M154.5 190h1M184.5 190.5h1M141 185h1M146 189h1M153 168h1M185 195h1M186.5 187h1M145.5 170.5h1M184 197h1M144 179.5h1M149.5 168.5h1M177.5 191h1M191.5 192.5h1M153.5 171.5h1M185 191h1M183.5 191h1M141.5 175.5h1M182.5 193.5h1M141 171.5h1M151.5 166h1M149.5 177h1M186.5 194h1M143 168.5h1M152.5 160h1M146 186.5h1M154.5 198h1M143.5 169.5h1M184.5 198h1M183 192.5h1M145.5 162h1M152 164.5h1M186 194.5h1M183.5 184.5h1M185 184.5h1M150 169h1M141 162.5h1M189 186h1M143.5 178h1M185.5 186h1M145.5 173.5h1M189 188h1M159.5 192.5h1M143.5 168.5h1M185.5 197.5h1M151.5 190h1M146 162.5h1M176.5 166h1M153 172h1M188 187.5h1M181 167.5h1M151 170h1M153 187h1M185 187.5h1M145 196.5h1M154 190h1M176.5 187.5h1M185.5 189.5h1M154.5 192h1M183.5 188.5h1M144.5 172.5h1M142.5 166h1M183.5 189h1M145.5 166h1M183 193h1M153 195.5h1M190.5 186h1M140.5 172.5h1M183 186h1M179.5 193h1M154 164.5h1M187 195h1M173.5 172h1M153.5 161h1M181.5 194h1M146 177.5h1M146 170h1M151.5 171.5h1M144.5 164.5h1M193.5 175.5h1M187.5 197.5h1M141 165.5h1M147 173h1M180.5 192h1M186 196.5h1M181.5 194.5h1M181 163.5h1M144 167h1M153 169h1M182 188.5h1M152 196.5h1M185.5 190h1M141.5 170.5h1M167.5 190h1M142.5 189h1M178 189.5h1M144.5 160h1M156 175.5h1M141.5 164h1M189.5 172.5h1M146.5 162.5h1M143.5 176h1M152.5 173h1M140.5 194.5h1M154.5 173h1M140 180h1M154.5 165.5h1M153 177h1M145 167.5h1M191 190h1M148.5 164.5h1M185.5 185h1M151 174.5h1M149 172h1M147.5 170h1M148.5 160h1M143 191h1M184.5 184.5h1M146.5 192.5h1M194.5 160.5h1M146 174h1M147.5 179h1M143.5 173h1M152.5 174h1M186.5 193h1M184 189.5h1M153.5 188.5h1M188.5 192.5h1M149 193.5h1M179 188.5h1M187.5 189h1M151 158.5h1M183.5 192.5h1M151.5 165.5h1M178 166.5h1M156.5 186h1M144 163h1M187 194h1M146 172.5h1M143.5 167.5h1M187 194.5h1M142 156.5h1M174.5 192h1M141 175.5h1M145 194.5h1M186.5 189.5h1M152 174.5h1M186 187h1M141 197h1M154 164h1M169 187.5h1M154.5 164.5h1M184 189h1M176.5 161h1M182.5 195.5h1M172 166.5h1M181 170h1M184.5 194.5h1M146.5 174h1M142 170.5h1M188.5 186h1M182.5 190.5h1M182.5 190h1M148.5 170h1M182.5 188.5h1M186 193.5h1M148 177h1M148 166.5h1M142.5 179h1M153.5 176.5h1M182 195h1M142.5 161h1M180.5 194h1M185 188h1M145.5 161h1M153 191h1M181.5 173.5h1M171.5 173.5h1M141.5 177h1M180 192h1M156 186h1M148.5 168h1M186.5 168.5h1M144.5 174h1M185.5 191h1M174.5 191h1M140.5 188h1M140 193.5h1M172.5 170h1M188 187h1M186.5 185h1M149 178.5h1M171 166.5h1M148 162.5h1M185.5 184.5h1M186.5 198h1M151 170.5h1M150.5 167h1M156 172.5h1M149.5 176h1M185 194h1M183.5 194h1M148 176h1M156 182h1M184 184h1M141 173h1M153 188.5h1M148.5 165h1M153.5 161.5h1M157 176h1M143.5 176.5h1M154 175.5h1M185.5 187.5h1M191.5 189.5h1M142.5 163.5h1M155 193h1M183.5 197h1M153 189h1M170 174.5h1M181.5 190.5h1M156 193.5h1M153.5 167.5h1M146 168h1M155 174h1M186 183.5h1M141 167.5h1M148 185.5h1M160.5 196.5h1M159.5 189.5h1M153.5 174h1M178.5 169.5h1M149 179.5h1M151.5 175h1M182 197h1M143 161h1M152 170.5h1M155 172h1M146 193h1M184 191h1M183 195.5h1M153 171.5h1M152 164h1M147.5 178.5h1M146.5 160.5h1M149.5 167.5h1M152.5 186h1M183 190.5h1M148.5 169h1M143.5 164h1M143 167.5h1M179 187h1M180.5 196h1M182.5 191h1M190.5 191.5h1M144.5 167h1M158.5 193.5h1M180 189h1M192.5 181.5h1M175 164.5h1M176 191.5h1M151 169.5h1M153 176h1M141 194h1M144 161.5h1M184.5 187h1M155.5 183.5h1M147.5 186h1M187 190.5h1M142.5 175h1M150.5 166h1M171.5 176h1M143 174.5h1M152 165h1M177.5 164h1M184.5 182h1M145 190.5h1M180 186.5h1M148.5 167h1M143 172.5h1M155 177h1M149.5 164.5h1M185.5 192.5h1M146.5 173.5h1M145.5 170h1M185 196h1M152 166h1M150.5 190.5h1M160 181h1M149.5 194.5h1M154 162h1M178.5 184h1M152.5 169h1M145 166.5h1M151 171.5h1M189 195h1M152 183h1M191 192.5h1M142.5 168h1M149 167h1M185 197.5h1M186.5 188.5h1M174.5 164h1M179.5 192h1M190.5 184h1M181.5 191h1M186 191.5h1M185 181h1M155 158h1M140.5 163h1M179.5 184h1M178.5 195h1M185 189.5h1M183.5 187h1M142.5 188h1M152.5 171.5h1M150.5 171.5h1M147.5 169h1M146 167h1M147.5 168.5h1M151 184h1M189.5 185.5h1M186.5 186.5h1M187 192h1M152.5 167h1M183 185.5h1M140 191.5h1M141.5 162.5h1M182 159h1M178 164h1M146.5 190h1M190.5 165.5h1M177.5 195.5h1M149.5 175h1M153 198.5h1M188.5 190.5h1M181 179.5h1M180 173h1M179 168h1M152.5 192h1M185 188.5h1M156.5 167h1M185.5 187h1M188 189h1M149 163h1M154 178h1M155 163h1M188 191.5h1M188 168.5h1M185 189h1M184.5 178.5h1M179.5 171h1M158.5 197.5h1M154.5 170.5h1M149 161.5h1M186 192h1M168 169.5h1M182.5 192.5h1M149.5 164h1M180.5 183.5h1M155 171h1M156 168.5h1M145.5 194.5h1M151 167.5h1M191.5 169.5h1M186.5 180.5h1M144 175h1M154.5 162h1M148.5 188.5h1M144.5 186.5h1" stroke="#5c5c5c" stroke-width="1.05" fill="none"/><path d="M184 167.5h1M143.5 170.5h1M147 179.5h1M149.5 186h1M150 164h1M181.5 171.5h1M186 185.5h1M155.5 171.5h1M151.5 192h1M149.5 188h1M177 192.5h1M151.5 157h1M173 162.5h1M153.5 166h1M184.5 191h1M184 188h1M148 188h1M178.5 160h1M147 166h1M191.5 198h1M155 169.5h1M144 168h1M151 163.5h1M152.5 184.5h1M185 192h1M151.5 177.5h1M157.5 185.5h1M153 175h1M146.5 177.5h1M153.5 169.5h1M152.5 166h1M187 190h1M154.5 166h1M157.5 161h1M187 188.5h1M149 164.5h1M141 169.5h1M151 164.5h1M195 161h1M155.5 184h1M181 162.5h1M179.5 186.5h1M147.5 191h1M177.5 177.5h1M141 189h1M179 191.5h1M141 191.5h1M141 168.5h1M146.5 163h1M146.5 165.5h1M184 194h1M182.5 187h1M184 193.5h1M184.5 190.5h1M147.5 184.5h1M184.5 190h1M141 177h1M185 195h1M142.5 170.5h1M181 184h1M182 170.5h1M160.5 187h1M146 181.5h1M144.5 185.5h1M184.5 189h1M167.5 170.5h1M149.5 168.5h1M157 190.5h1M188 191h1M187 182.5h1M191 183.5h1M152 188.5h1M184.5 185h1M150.5 175.5h1M184.5 166.5h1M154 171h1M143 169h1M140.5 165.5h1M146 198h1M142 173h1M150.5 197h1M180.5 168.5h1M184.5 198h1M189 193h1M183 192.5h1M145.5 186h1M143 166.5h1M145.5 173.5h1M151 196.5h1M151.5 169.5h1M153.5 176h1M144.5 159.5h1M180.5 198h1M142.5 171h1M143.5 166.5h1M188 187.5h1M183.5 187.5h1M148.5 171h1M144.5 174.5h1M145.5 172h1M187 192.5h1M181 184.5h1M143.5 186.5h1M183.5 169.5h1M157.5 186.5h1M144 177h1M140 186.5h1M182 166h1M177.5 191.5h1M143.5 171.5h1M164 190.5h1M183.5 191.5h1M151 164h1M172 168h1M180 193h1M153.5 161h1M183 188h1M191 189.5h1M180 186h1M146 177.5h1M152.5 192.5h1M179 195h1M142 163.5h1M150 158h1M189 195.5h1M147 195h1M147 179h1M181.5 193.5h1M147 173h1M149 167.5h1M145 165.5h1M142.5 188.5h1M183.5 186.5h1M185.5 190h1M141.5 170.5h1M151.5 162.5h1M145.5 169h1M179 171h1M147.5 176h1M143 177.5h1M152.5 165.5h1M147 171h1M151 174h1M153 177h1M185.5 191.5h1M150.5 164h1M153.5 184.5h1M145 167.5h1M156.5 170h1M187.5 189.5h1M160.5 184h1M179 184.5h1M183 182h1M184 173.5h1M151.5 176h1M143.5 177.5h1M154 176.5h1M147.5 170h1M141.5 162h1M191 168.5h1M144 170.5h1M140 170h1M156.5 164h1M190 163h1M152 161.5h1M183.5 192h1M186.5 196h1M151.5 170h1M145.5 171.5h1M146 174h1M186.5 193h1M143 171h1M188 196.5h1M153.5 190h1M141 163.5h1M188 180.5h1M188.5 170h1M154 180.5h1M144 162h1M152.5 174.5h1M183.5 192.5h1M143.5 171h1M147.5 167.5h1M156 160.5h1M182.5 189.5h1M147 164.5h1M145.5 192h1M140 167.5h1M185.5 192h1M186.5 172h1M149.5 188.5h1M184 190.5h1M181 196.5h1M157 187.5h1M154.5 164.5h1M149.5 191.5h1M140.5 178.5h1M182.5 195.5h1M186.5 182h1M194 180.5h1M188.5 193h1M184.5 194.5h1M182.5 190.5h1M154 167.5h1M182.5 190h1M150 190h1M171.5 196h1M182.5 188.5h1M161.5 186.5h1M149.5 198h1M151.5 174.5h1M186.5 190.5h1M182.5 191.5h1M152 193.5h1M185.5 195h1M185 188h1M140.5 196h1M146.5 172h1M187 180h1M153 171h1M180 192h1M143.5 164.5h1M157 198h1M156 186h1M144 169.5h1M144 190h1M182.5 185h1M146.5 163.5h1M185.5 191h1M142 162h1M181.5 159h1M143.5 194.5h1M140.5 188h1M183 168h1M187.5 196.5h1M147.5 175.5h1M147 175h1M149.5 162.5h1M151 183.5h1M187 180.5h1M154 172.5h1M141.5 171.5h1M153 166h1M156 165h1M161 188h1M140 197h1M189.5 196h1M185.5 184.5h1M154.5 180h1M141 192.5h1M144.5 189.5h1M141 170h1M150.5 167h1M157 176.5h1M156 172.5h1M155 164h1M184 192h1M184.5 196.5h1M178 191h1M185 193.5h1M146.5 169h1M153 169.5h1M181.5 183h1M157 176h1M148.5 165h1M185.5 187.5h1M154 175.5h1M148.5 174.5h1M149.5 177.5h1M145 168h1M181.5 190.5h1M179.5 191h1M145.5 188.5h1M181.5 168.5h1M143 170h1M145 196h1M152.5 164h1M150.5 168h1M144.5 169h1M179 193h1M187 186h1M144.5 168.5h1M187 173.5h1M155 159h1M145 193h1M184 195h1M187 188h1M156.5 183.5h1M157 185.5h1M148 163h1M148 161h1M140 160.5h1M140.5 169h1M142 169h1M144.5 177h1M143.5 170h1M148 161.5h1M148 191h1M184.5 193h1M146.5 160.5h1M149.5 167.5h1M149 166h1M147 174.5h1M154.5 188h1M150.5 197.5h1M187 189.5h1M190.5 188.5h1M183 190.5h1M161.5 188h1M175 163.5h1M183 190h1M187 187h1M185 167h1M184.5 188h1M144.5 157.5h1M153.5 163.5h1M150 161.5h1M141 172.5h1M179.5 190.5h1M177.5 160.5h1M158.5 194h1M155 183h1M141 182h1M188.5 183.5h1M145.5 176.5h1M142 171.5h1M149 169.5h1M173.5 171.5h1M140.5 167h1M152.5 172h1M149.5 174.5h1M180.5 188h1M172 169.5h1M153.5 194.5h1M181.5 183.5h1M184 187.5h1M143.5 186h1M153.5 175.5h1M179.5 185h1M183 198h1M151 168.5h1M152 165h1M143.5 174h1M153 192.5h1M148 188.5h1M140.5 192h1M164 195h1M149.5 164.5h1M147.5 165h1M156 170.5h1M184.5 193.5h1M141.5 188.5h1M152.5 190.5h1M140 165h1M187 185h1M150.5 169.5h1M187 166.5h1M143.5 172h1M175.5 169h1M140 179.5h1M183.5 193h1M153 165.5h1M171.5 185.5h1M186.5 198.5h1M145 166.5h1M150.5 189h1M183.5 188h1M186.5 190h1M155 167h1M186 190h1M190 194h1M145.5 164h1M186 188.5h1M184 186.5h1M144.5 163h1M148.5 170.5h1M155.5 197.5h1M152 169.5h1M143 160h1M180.5 190.5h1M186 189h1M144 163.5h1M182.5 194.5h1M154 165h1M152 178h1M144.5 191h1M176 184h1M188 189.5h1M144.5 171h1M176.5 165h1M185 189.5h1M151.5 195.5h1M183.5 187h1M180 192.5h1M181.5 184.5h1M181 197.5h1M147.5 168.5h1M173.5 167.5h1M183 195h1M161 181h1M147 178.5h1M153 172.5h1M188.5 190h1M188.5 188.5h1M147 170.5h1M182 172h1M162 188.5h1M156.5 171.5h1M188.5 189h1M185 190h1M185 188.5h1M150 157.5h1M185 178h1M144.5 188.5h1M185 168.5h1M185 181.5h1M151 161.5h1M184 185.5h1M140.5 169.5h1M141.5 170h1M149.5 168h1M189 193.5h1M180.5 183.5h1M186 184h1M143.5 158h1M141 173.5h1M157 170.5h1M146.5 167h1M181 189h1M182 169h1M146 163h1M181 191.5h1" stroke="#6a6a6a" stroke-width="1.05" fill="none"/><path d="M178.5 164.5h1M179.5 187.5h1M184 193h1M149.5 186h1M186.5 185.5h1M180 172.5h1M151.5 192h1M181 185h1M152.5 191h1M153.5 166h1M144 178.5h1M178.5 197h1M167.5 166.5h1M183 164.5h1M145 166h1M153 180h1M149.5 165h1M150 193h1M180 164.5h1M144 164h1M182.5 186h1M148 165h1M184.5 189.5h1M181 171.5h1M143 159h1M147 195.5h1M159 184h1M143.5 163h1M153.5 190.5h1M149.5 187h1M153 160.5h1M145 187.5h1M152.5 166h1M187 190h1M187.5 190.5h1M154.5 166h1M145.5 175h1M179 190.5h1M156.5 171h1M147 169.5h1M141 190h1M147.5 191h1M150 165h1M141 178h1M140 191h1M156.5 184.5h1M140.5 176h1M146.5 165.5h1M186.5 159h1M182.5 172h1M150 172h1M146 169.5h1M190 187h1M159.5 182.5h1M150 189.5h1M181 192h1M151 186.5h1M196 186h1M184.5 190h1M177.5 163h1M140 184.5h1M148 175.5h1M187 186.5h1M154.5 168.5h1M182.5 194h1M185 191h1M158 179h1M151 176.5h1M150.5 175.5h1M143 168.5h1M176 196.5h1M155.5 171h1M145.5 193h1M189 193h1M183 192.5h1M152 164.5h1M186 194.5h1M143 185h1M150 168.5h1M174.5 162h1M145 162.5h1M145.5 173.5h1M154.5 182.5h1M183.5 166h1M151.5 169.5h1M190 185h1M182 191h1M170.5 160h1M142.5 171h1M151.5 178h1M187 184h1M151.5 189h1M143.5 166.5h1M184.5 162.5h1M183.5 187.5h1M147 184h1M140.5 174h1M171.5 174.5h1M192 184.5h1M185 198.5h1M176 164h1M180 168h1M143.5 198h1M148.5 167.5h1M143.5 186.5h1M176.5 187.5h1M185.5 189.5h1M144 177h1M140 186.5h1M149 173h1M147 177.5h1M152.5 176h1M148.5 184.5h1M155 173h1M146 184h1M183.5 189h1M180 196h1M177.5 181.5h1M183 193h1M189 182h1M145 170h1M176.5 188.5h1M151.5 186.5h1M179.5 193h1M188.5 194.5h1M142 172.5h1M162 194.5h1M183 188h1M157 192h1M155.5 164.5h1M180 173.5h1M196.5 191h1M151.5 171.5h1M144.5 164.5h1M187.5 197.5h1M147 173h1M154.5 170h1M145 173h1M182 190.5h1M153.5 191h1M143 170.5h1M145.5 169.5h1M195 162.5h1M188 186.5h1M153 168.5h1M140.5 164.5h1M145 161.5h1M153.5 171h1M184.5 185.5h1M144.5 197h1M152.5 195h1M151.5 176.5h1M146 161h1M152.5 179h1M189.5 172.5h1M182 191.5h1M149.5 162h1M183 187h1M153 166.5h1M149.5 163h1M152.5 161.5h1M182 185h1M145.5 185h1M151 165h1M184 197.5h1M147.5 192.5h1M154 162.5h1M143.5 177.5h1M149.5 191h1M179 159.5h1M151.5 184h1M151 172h1M154.5 167.5h1M155 172.5h1M150 162h1M148.5 197h1M150.5 186h1M183.5 192h1M157 191h1M182 182.5h1M146 174h1M141 187.5h1M143.5 165.5h1M186.5 193h1M147.5 165.5h1M146.5 170h1M186 193h1M184 189.5h1M153.5 188.5h1M180.5 171h1M186.5 186h1M186 186h1M143.5 161.5h1M174.5 167h1M142.5 162.5h1M180.5 167.5h1M150.5 174.5h1M155 194.5h1M151.5 161h1M151.5 165.5h1M178 185h1M146 198.5h1M146.5 173h1M143.5 167.5h1M147.5 167.5h1M146.5 164h1M152 174h1M141 164.5h1M142 175h1M178 198h1M140 167.5h1M140.5 180.5h1M147 194.5h1M171 172h1M186.5 189.5h1M186 172.5h1M156.5 174.5h1M146 164.5h1M146.5 167.5h1M179 186.5h1M158 178.5h1M154 161.5h1M156.5 172h1M182.5 195.5h1M186 182h1M141.5 190.5h1M148 168.5h1M146 175.5h1M147.5 174.5h1M151.5 174h1M188 193h1M144 166h1M142.5 185.5h1M182.5 190h1M141.5 169h1M153 163h1M186 193.5h1M140 172.5h1M155 180h1M151.5 174.5h1M142.5 161h1M182.5 189h1M145.5 161h1M183 183.5h1M181.5 188h1M149 160.5h1M153 171h1M151.5 163.5h1M144.5 188h1M182.5 185h1M191 185.5h1M191.5 196h1M145.5 171h1M184 167h1M188 172h1M156 165h1M161 188h1M185.5 184.5h1M149 170.5h1M140.5 165h1M151 170.5h1M142 165h1M156 172h1M149 168h1M154.5 175h1M174.5 159.5h1M140.5 189.5h1M186.5 171.5h1M146 180.5h1M182.5 162.5h1M181.5 195.5h1M161.5 192.5h1M178.5 189.5h1M173 169.5h1M143.5 176.5h1M185.5 187.5h1M142 166h1M149.5 177.5h1M181.5 190.5h1M151 162h1M189 188.5h1M158 193.5h1M149 197.5h1M189 189h1M182.5 184h1M143 170h1M143.5 175h1M140.5 190.5h1M181 194h1M182 194h1M181 193.5h1M151.5 157.5h1M182 194.5h1M142.5 175.5h1M181.5 185h1M147 188h1M165 195.5h1M178.5 188.5h1M149 189.5h1M189.5 195.5h1M148.5 190.5h1M150.5 162h1M181 169h1M153.5 174.5h1M146 173.5h1M179 165h1M141 165h1M150 179h1M147 165h1M189.5 190h1M147 174.5h1M153.5 172.5h1M147.5 170.5h1M183 190h1M147.5 164h1M180 190h1M191.5 185h1M180.5 196h1M182.5 191h1M183 189h1M196 192.5h1M155 183h1M180.5 193h1M178.5 198h1M152.5 165h1M154.5 165h1M152 186h1M176 191.5h1M180 191.5h1M154.5 179.5h1M151.5 168h1M186.5 191h1M152.5 172h1M149.5 174.5h1M180.5 188h1M183 185h1M184.5 172h1M183 166.5h1M144 161.5h1M153 184h1M141 193.5h1M184 187.5h1M148 187.5h1M172 178h1M149 181.5h1M183 198h1M184.5 182h1M140 173.5h1M151.5 193h1M184 188.5h1M140 197.5h1M156.5 179.5h1M155.5 170.5h1M149 166.5h1M187 168.5h1M192.5 182.5h1M182.5 187.5h1M185.5 192.5h1M152 166h1M143.5 172h1M186 183h1M186.5 187.5h1M177.5 186h1M141.5 181.5h1M146 168.5h1M145 166.5h1M181.5 162h1M189 195h1M154 173.5h1M150.5 181.5h1M151.5 172h1M171.5 165.5h1M186.5 188.5h1M151.5 189.5h1M144 172.5h1M156 162h1M144.5 197.5h1M150 193.5h1M154.5 177h1M152.5 166.5h1M174 163.5h1M192.5 184h1M182 196h1M180 184h1M141 175h1M182 193h1M157.5 169.5h1M185 189.5h1M183.5 189.5h1M149 176h1M147.5 178h1M143.5 169h1M149 184h1M186 198h1M146 167h1M147.5 168.5h1M157.5 189h1M185.5 188h1M154 166h1M177 194h1M148.5 163h1M145.5 174h1M153.5 178.5h1M140 191.5h1M189.5 179h1M153 174.5h1M146.5 169.5h1M145.5 159h1M141.5 176.5h1M145 183.5h1M188 183h1M151.5 169h1M183.5 183h1M146.5 189h1M141 170.5h1M153 163.5h1M147 170.5h1M191 188h1M145 170.5h1M183.5 190.5h1M182 187h1M147 168h1M167.5 172h1M167 166h1M181.5 190h1M146.5 185h1M177.5 168.5h1M151 161h1M151 165.5h1M154 168.5h1M182.5 196.5h1M187.5 193h1M181.5 191.5h1M151 161.5h1M184 185.5h1M140.5 169.5h1M142.5 193.5h1M189 194h1M182 183h1M156 178h1M182 193.5h1M152.5 177.5h1M179 186h1M192 190.5h1M186 184h1M151.5 167h1M155.5 166.5h1M181 190h1M181 188.5h1M142 181.5h1M143 168h1M183 187.5h1M177.5 171.5h1M181 191.5h1M177 175h1M144.5 186.5h1" stroke="#404040" stroke-width="1.05" fill="none"/>
<path d="M166.3 133.6V199.4M139.4 178.1H211.3" stroke="#1e1e1e" stroke-width="1.3" fill="none"/>
<path d="M246.7 132.4H318.6V199.1" fill="none" stroke="#d2d2d2" stroke-width="1"/>
<path d="M246.7 132.4V199.1H318.6" fill="none" stroke="#bdbdbd" stroke-width="1"/>
<path d="M241.1 131.5l1.6 1.4M241.1 152.9l1.6 1.4M241.1 174.9l1.6 1.4M241.1 196.2l1.6 1.4M267.8 202.7l1.6 -1.4M292.2 202.7l1.6 -1.4M315.2 202.7l1.6 -1.4" stroke="#b8b8b8" stroke-width="0.8"/>
<path d="M242.8 133.7h1.8M242.8 155.1h1.8M242.8 177.1h1.8M242.8 198.4h1.8M269.6 201.3h1.8M294.0 201.3h1.8M317.0 201.3h1.8" stroke="#7a7a7a" stroke-width="1.5"/>
<path d="M278.1 204.3h9" stroke="#9a9a9a" stroke-width="1.6" stroke-dasharray="2 0.6"/>
<path d="M240.9 160.8v10" stroke="#a8a8a8" stroke-width="1.5" stroke-dasharray="2 0.6"/>
<path d="M248 175.5h1M254.5 163h1M265.5 175h1M268.5 186h1M262.5 186h1M300.5 170h1M281.5 180h1M251.5 192h1M280.5 168h1M252.5 169h1M261 166.5h1M301.5 186.5h1M262 178.5h1M289 174h1M310 169.5h1M257 162h1M265.5 192.5h1M298.5 196h1M296.5 164h1M301 176.5h1M303 197.5h1M248.5 189.5h1M257 163h1M249.5 186.5h1M267 171h1M302.5 186h1M251 170h1M293.5 197h1M253.5 183.5h1M261.5 168h1M293 173.5h1M257.5 174.5h1M254 193.5h1M298.5 186h1M258 166.5h1M264.5 164h1M253.5 170.5h1M300 166.5h1M305 189.5h1M256.5 169.5h1M272.5 164h1M260.5 174h1M253 162.5h1M255 158h1M254.5 166h1M253 176.5h1M261.5 196h1M248.5 183h1M256.5 178h1M262 193h1M299.5 173.5h1M298.5 165h1M251.5 195h1M266.5 175.5h1M255.5 164.5h1M249 183.5h1M248 180h1M262 186h1M251.5 161h1M272.5 196h1M261.5 186h1M283 175.5h1M301 170h1M260 186.5h1M265 172.5h1M259.5 189.5h1M300 171.5h1M248 175h1M259.5 187h1M256 164.5h1M260.5 172.5h1M256 194h1M257.5 193.5h1M303.5 169h1M249 170.5h1M252 174.5h1M260.5 163.5h1M269.5 163.5h1M268 172.5h1M259.5 182h1M255.5 186.5h1M247.5 173h1M251 173.5h1M301.5 192.5h1M251 188h1M286 161h1M261 170.5h1M261.5 165h1M285.5 161h1M302 169.5h1M256 197h1M255 177.5h1M302.5 193.5h1M252 163.5h1M269 162h1M309 168h1M248.5 166.5h1M258.5 163h1M262.5 169h1M249.5 192.5h1M262 172h1M304.5 196h1M260.5 164.5h1M261.5 172h1M262.5 168.5h1M298.5 195.5h1M298.5 183h1M305 168.5h1M257 169.5h1M264 168h1M264 164h1M284 172.5h1M300.5 187h1M299.5 166h1M304 195h1M250 183.5h1M300.5 163.5h1M263.5 169.5h1M251.5 159.5h1M297 188h1M250.5 190h1M258.5 191h1M251 174.5h1M257 178h1M255 195h1M259 170h1M261.5 182h1M253.5 189.5h1M305 166.5h1M250.5 178h1M296.5 193.5h1M254.5 198h1M261 162h1M250.5 168.5h1M250 168h1M249.5 164h1M253.5 182h1M281.5 172.5h1M299 167h1M299.5 169.5h1M282.5 176h1M304 167.5h1M261.5 158.5h1M300.5 175.5h1M265 177h1M295 167.5h1M251.5 163.5h1M257.5 180h1M252 169h1M259.5 166.5h1M258.5 166h1M252.5 163h1M253.5 195.5h1M257 186.5h1M260 170h1M302 182.5h1M302 171.5h1M252.5 197.5h1M250 193h1M262 169h1M261.5 169h1M306.5 161h1M289 160.5h1M264 165h1M250 186h1M248 174h1M250 173.5h1M256.5 192.5h1M250 188h1M272.5 169h1M256.5 170h1M264 189.5h1M260.5 180h1M263 170.5h1M262 166.5h1M251 169h1M258.5 169.5h1M258 171h1M253.5 168.5h1M264 187h1M254.5 192h1M261.5 185h1M261 166h1M296 197.5h1M267 176h1M263 168h1M260.5 175h1M283 164h1M264 166h1M263.5 162.5h1M249.5 165h1M248 189.5h1M301.5 172.5h1M258 184.5h1M258.5 191.5h1M253 172.5h1M290.5 172h1M277 168h1M249.5 172h1M299.5 167h1M253 163.5h1M255 188.5h1M296.5 175h1M276.5 168.5h1M264 183h1M276 163.5h1M304.5 169h1M259.5 192h1M264 158.5h1M260 186h1M304.5 168.5h1M259 172h1M259 172.5h1M294 176h1M303.5 161h1M303.5 165.5h1M248.5 161h1M289.5 164h1M277 196h1M263.5 184h1M259.5 184h1M253 164.5h1M253 194h1M247 158.5h1M298.5 170.5h1M257 192.5h1M301.5 193.5h1M268 178.5h1M252.5 190.5h1M252.5 169.5h1M249 177h1M271.5 173h1M248.5 191h1M257.5 162h1M251 167h1M252.5 188.5h1M282 194.5h1M254.5 161h1M254 189.5h1M256 193h1M260 165h1M260 174.5h1M278.5 170h1M303.5 171h1M256 186h1M266 165.5h1M249 198h1M285 170.5h1M261.5 192h1M305 197.5h1M256 173.5h1M302 161h1M262 157h1M260 172h1M248 169h1M276.5 171.5h1M260 172.5h1M310 163.5h1M285.5 162.5h1M248 168.5h1M258 191.5h1M260 187h1M296.5 168h1M293.5 175.5h1M297 167h1M257 161h1M258.5 162.5h1M250 169h1M251.5 160.5h1M249.5 169h1M257.5 165h1M250.5 161h1M264.5 170.5h1M266 171h1M254 183h1M248 177h1M255.5 187h1M254.5 184.5h1M250.5 161.5h1M302.5 191h1M255.5 163.5h1M260.5 188h1M257.5 189.5h1M256 172h1M257.5 187h1M306.5 175.5h1M255 162.5h1M256.5 163.5h1M302.5 181h1M256 189.5h1M256 187h1M255 176.5h1M307 194h1M298 194.5h1M308 176.5h1M252.5 171.5h1M262.5 166h1M259.5 171h1M300.5 162h1M254 168.5h1M279 171.5h1M255.5 194h1M302.5 189.5h1M282 180h1M251.5 164h1M248 167h1M298.5 184.5h1M304 160.5h1M255.5 175.5h1M256 195.5h1M251 162h1M256.5 175.5h1M263 168.5h1M303 174.5h1M257.5 190.5h1M254 198h1M255 180.5h1M259 167h1M300 176.5h1M301 168h1M258.5 195h1M300.5 189.5h1M251.5 173.5h1M298.5 187.5h1M263.5 172.5h1M251.5 188h1M248.5 197h1M304.5 162h1M251.5 174h1M259.5 169.5h1M265.5 179.5h1M248 170.5h1M302 194h1M267 175.5h1M298.5 190h1M285 195.5h1M257.5 185h1M294.5 176h1M247.5 162h1M253.5 184.5h1M302.5 191.5h1M301.5 168h1M251 189.5h1M303.5 182.5h1M303 193.5h1M258.5 167.5h1M302 194.5h1M251.5 165h1M308 165.5h1M254.5 186.5h1M262.5 160h1M260.5 169h1M279 170h1M251.5 179.5h1M249.5 168h1M300 180.5h1M261 165.5h1M303 175.5h1M259.5 164.5h1M263.5 193.5h1M252.5 185.5h1M257 175.5h1M295.5 197h1M307.5 170h1M300.5 169.5h1M255 167.5h1M252 168.5h1M307 180.5h1M301.5 162h1M253 193h1M252 181.5h1M254 184h1M259.5 198h1M250.5 186.5h1M306 193h1M253 186h1M247.5 172h1M261.5 191.5h1M247.5 189.5h1M262 181.5h1M265.5 190.5h1M300 173h1M302.5 182.5h1M258 161.5h1M251.5 195.5h1M248 191h1M250 197.5h1M251 188.5h1M280.5 186.5h1M249.5 197.5h1M260 170.5h1M261 174h1M301 182h1M251.5 190.5h1M260.5 167h1M307 168h1M255 174.5h1M254 185.5h1M252.5 184.5h1M249.5 181h1M255.5 170.5h1M293 162.5h1M248 184.5h1M268 167h1M247.5 183h1M296.5 171.5h1M255.5 168h1M254 173h1M297 178h1M247.5 158.5h1M306 172h1M304 182h1M247.5 169.5h1M300 188h1M261 172.5h1M251 198h1M301 169.5h1M289.5 170.5h1M305 192.5h1M300 174h1M252 162.5h1M258.5 175.5h1M302.5 184h1M250 166h1M249.5 166h1M305 170h1M289.5 168h1M263.5 175h1M252.5 187.5h1M254 171h1M247.5 168.5h1M259.5 196.5h1M300 165h1M253 183h1M300 174.5h1M252.5 163.5h1M310 174.5h1M254.5 164h1M257.5 163h1M253 190.5h1M250.5 170h1M266 173h1M303.5 167.5h1M251 162.5h1M250 169.5h1M303 170.5h1M250 188.5h1M307 179.5h1M260 189.5h1M257.5 191h1M248 181.5h1M300.5 184h1M264.5 176h1M297.5 187.5h1M256 191h1M254.5 167.5h1M257.5 171h1M259.5 195h1M260 166h1M277.5 171h1M303.5 174h1M263.5 168h1M263.5 164h1M282.5 163.5h1M301.5 185h1M301 171.5h1M258 194.5h1M251 176h1M272 169.5h1M270 183.5h1M261.5 177.5h1M256.5 187h1M252.5 186.5h1M276 166.5h1M285.5 175h1M256 184.5h1M302.5 171h1M264.5 170h1M305.5 193h1M303 186h1M262 185.5h1M302 188h1M299 187.5h1M299.5 164h1M248.5 172.5h1M256 166h1M260.5 171h1M306.5 168.5h1M260 188.5h1M304 167h1M262 165.5h1M308.5 166h1M254.5 174.5h1M252 191h1M257 174h1M267 172h1M250.5 188h1M258.5 170h1M302 165h1M261.5 161.5h1M301 176h1M248 162.5h1M259.5 159.5h1M253.5 173h1M255.5 188.5h1M298.5 159.5h1M305.5 165h1M308.5 183h1M266.5 164.5h1M251 173h1M299.5 193h1M292.5 163h1M249 180.5h1M248.5 194h1M302 189.5h1M264 176h1M305.5 172h1M286.5 168h1M250.5 165h1M295.5 172.5h1M261.5 167.5h1M303 187h1M302.5 187.5h1M249 170h1M251.5 162h1M256.5 169h1M256.5 168.5h1M247.5 177.5h1M257 187h1M257.5 181.5h1M259 162.5h1M256 191.5h1M266.5 160h1M265.5 171h1M257.5 164.5h1M309 170h1M259.5 172.5h1M291 190h1M267.5 166h1M248 196.5h1M265 163.5h1M292 167.5h1M252.5 180.5h1M299.5 165h1M307.5 175h1M294.5 196.5h1M252.5 170h1M248 192.5h1M260.5 189h1M299.5 172.5h1M261.5 174.5h1M256 160h1M263.5 195.5h1M303 169.5h1M264 173h1M301 161.5h1M258.5 173.5h1M249.5 177.5h1M264.5 187.5h1M304.5 167.5h1M255 196h1M299.5 182h1M258.5 174h1M303 189h1M247.5 171h1M278 192.5h1M267 166.5h1M252.5 164h1M251 187.5h1M296.5 164.5h1M260 192h1M258 168h1M258 164h1M302 185h1M248 161.5h1M263.5 168.5h1M276 163h1M264 167.5h1M254 180.5h1M249.5 163h1M286 189.5h1M249.5 165.5h1M251 163.5h1M278.5 181.5h1M261.5 164.5h1M305.5 177h1M292.5 188.5h1M257 166.5h1M263 175h1M260.5 182.5h1M259 173h1M303.5 160.5h1M303 198h1M256.5 192h1M278 164h1M265.5 164.5h1M299.5 169h1M261.5 197h1M254.5 175h1M249.5 171h1M253.5 193.5h1M249 172h1M251.5 178h1M258 186h1M256.5 170.5h1M253.5 194.5h1M260.5 162.5h1M252.5 174h1M257.5 196.5h1M302 167h1M308 172h1M253.5 175.5h1M306.5 163h1M301 187.5h1M251.5 181.5h1M304 166h1M254 164h1M256 196.5h1M305 160.5h1M291 192h1M264 174.5h1M249.5 184.5h1M261 172h1M253.5 197h1M289 192.5h1M252.5 165h1M260 165.5h1M302.5 175h1M250.5 167h1M258.5 190.5h1M258 165h1M256 170h1M255.5 185.5h1M303.5 168h1M248.5 168h1M259.5 175h1M260 161.5h1M261 182h1M306.5 171h1M258 179.5h1M285.5 168.5h1M249 193.5h1M252.5 187h1M260.5 184h1M255.5 179h1M260.5 196.5h1M250 174.5h1M255.5 165.5h1M301 164.5h1M257.5 195h1M254 173.5h1M266 170.5h1M286.5 185h1M253 169.5h1M294.5 172.5h1M307 171h1M304 189h1M256 165.5h1M260.5 170h1M265.5 176.5h1M259 187.5h1M252 156.5h1M264.5 180h1M299 193h1M262 175h1M303.5 186h1M264 175.5h1M310 166h1M253 181.5h1M256.5 171h1M303.5 188h1M263 188h1M254 174.5h1M248 193.5h1M289 167.5h1M257.5 167.5h1M254.5 162h1M276 164.5h1M250 164.5h1M301 182.5h1" stroke="#4e4e4e" stroke-width="1.05" fill="none"/><path d="M267.5 177.5h1M260.5 165.5h1M253.5 175h1M298.5 168h1M284.5 177h1M256.5 184.5h1M254 187h1M298 187.5h1M252.5 169h1M251 160.5h1M300 190.5h1M306.5 188.5h1M258.5 167h1M301.5 186.5h1M281.5 175h1M251.5 176h1M257.5 174h1M301 162.5h1M247.5 176.5h1M249.5 197h1M249.5 160h1M278.5 185.5h1M309.5 170.5h1M303 197.5h1M263.5 162h1M263 187h1M298.5 193h1M277 174.5h1M302.5 173.5h1M250.5 163h1M262 164h1M257.5 174.5h1M303.5 166h1M256.5 187.5h1M248.5 166h1M265 173.5h1M259.5 173.5h1M302 171h1M294 197.5h1M278 169h1M251.5 170h1M258.5 183.5h1M250.5 191h1M304.5 180.5h1M257 171h1M256 172.5h1M253 162.5h1M302.5 165h1M263 194h1M255 158h1M294 181h1M249.5 162.5h1M300 198h1M304 192h1M254 169h1M299.5 173.5h1M265 174.5h1M255.5 164.5h1M252 174h1M302.5 172.5h1M251.5 173h1M260 197h1M303.5 190.5h1M247.5 170h1M248.5 169.5h1M261.5 186h1M248.5 188.5h1M251 196h1M300.5 188h1M251.5 161.5h1M270 191h1M254.5 158.5h1M306 192h1M300.5 174h1M303.5 169h1M255 184h1M252 165h1M292.5 193h1M253 184h1M256 193.5h1M254.5 169.5h1M256 194.5h1M305 190.5h1M250 160.5h1M286 173h1M264.5 159h1M277.5 197h1M254.5 178h1M299.5 189.5h1M256 197h1M265.5 174h1M262 179.5h1M302 188.5h1M254.5 168.5h1M262.5 169h1M262 172h1M305 169h1M305 189h1M260.5 164.5h1M305 191.5h1M258.5 197.5h1M266 168.5h1M256.5 171.5h1M249.5 170h1M276.5 163h1M252.5 170.5h1M302 191.5h1M254 167h1M258 170.5h1M257 189h1M305.5 168.5h1M310 176h1M248 164h1M292.5 172h1M252 193.5h1M259.5 178h1M259.5 168.5h1M260 175h1M294.5 168h1M253.5 166h1M252.5 196h1M280.5 168.5h1M302 186.5h1M254 183.5h1M292 166h1M303 186.5h1M248 193h1M255.5 196.5h1M306 171h1M297.5 168h1M252.5 197.5h1M248 186h1M256.5 184h1M301 174.5h1M250 193h1M295 188h1M262 168.5h1M254 168h1M253.5 169.5h1M301 172h1M308 184.5h1M249.5 186h1M251.5 164.5h1M306 184.5h1M307.5 161h1M247.5 163.5h1M259.5 171.5h1M253.5 169h1M262 177h1M303 162.5h1M262 166.5h1M258.5 169.5h1M265 167h1M295 165h1M301.5 165h1M259 173.5h1M257 162.5h1M304.5 195.5h1M304.5 183h1M254.5 176h1M282.5 165.5h1M306.5 167.5h1M264 166h1M263.5 162.5h1M248 172h1M249.5 165h1M248 189.5h1M263.5 176.5h1M279.5 161.5h1M275.5 162h1M253.5 185h1M255.5 164h1M251 177h1M257.5 170.5h1M256.5 161h1M306 187.5h1M277.5 170.5h1M309 195.5h1M266.5 196h1M296 171h1M295.5 176h1M302.5 183.5h1M299.5 167h1M302 196.5h1M277.5 168h1M259 174.5h1M256.5 161.5h1M293 183.5h1M281.5 177h1M256 164h1M247.5 197h1M303 196.5h1M259.5 192h1M262.5 177.5h1M261.5 167h1M263.5 176h1M260 173.5h1M261 190h1M248.5 165.5h1M255.5 167.5h1M264.5 167h1M308.5 161.5h1M263.5 196.5h1M255.5 193h1M301 169h1M257.5 196h1M254.5 185.5h1M299 173.5h1M304 194.5h1M303 170h1M304.5 185h1M252.5 190.5h1M252 183.5h1M264 169h1M265.5 167h1M251 167h1M255 194.5h1M260.5 164h1M258 190h1M299.5 176h1M267 161.5h1M262 192h1M257.5 188h1M268 168h1M297 157.5h1M302 161h1M253.5 158h1M303 195h1M294.5 190.5h1M295.5 195h1M255 186.5h1M248 169h1M248 168.5h1M264 166.5h1M305.5 173h1M305 191h1M257 161h1M258.5 162.5h1M288 187h1M250.5 195h1M252.5 166.5h1M302.5 197.5h1M275 176.5h1M284 164h1M297.5 190.5h1M253.5 176h1M248 166.5h1M263 166h1M261 171.5h1M259 169h1M260.5 188h1M258.5 192h1M262.5 184.5h1M251 170.5h1M256.5 163.5h1M252 162h1M254.5 159.5h1M255 176.5h1M258.5 176h1M260.5 159h1M262.5 166h1M254 189h1M255.5 194h1M262 163h1M262 161h1M303.5 190h1M264.5 162h1M263 169.5h1M256.5 194h1M269.5 179.5h1M283.5 169.5h1M247.5 183.5h1M248 167h1M299.5 191h1M265 189.5h1M259.5 184.5h1M264.5 163h1M252.5 162.5h1M254 185h1M265.5 163h1M259 157.5h1M296 182.5h1M248.5 164.5h1M254 198h1M305 190h1M261 184h1M255.5 169h1M306 160.5h1M251.5 193h1M287.5 186h1M258.5 195h1M253.5 191h1M248.5 194.5h1M248 183.5h1M283 177h1M299 185h1M297 162h1M257.5 191.5h1M257.5 168.5h1M305.5 163.5h1M263.5 172.5h1M248.5 160h1M276.5 161h1M250.5 163.5h1M264 177.5h1M304 164h1M267 175.5h1M261.5 166h1M260 157.5h1M268 158.5h1M302.5 168.5h1M258.5 171h1M256 185h1M259 183.5h1M254 162.5h1M302.5 181.5h1M255 164h1M253 168h1M258 192.5h1M247.5 173.5h1M254.5 186.5h1M249.5 168h1M252 190.5h1M252 190h1M257 194.5h1M259 170.5h1M304.5 171h1M251.5 187h1M261 161.5h1M254 192h1M255.5 167h1M310 170h1M250.5 175.5h1M248.5 176.5h1M252 191.5h1M301.5 162h1M257.5 167h1M254 184h1M255.5 160.5h1M279 161h1M293 198h1M267.5 169h1M252.5 161.5h1M300.5 189h1M304 174h1M249.5 162h1M300.5 168.5h1M268.5 162.5h1M300 173h1M251 190.5h1M265.5 169.5h1M299 192h1M251 169.5h1M255 174h1M251 190h1M251.5 195.5h1M252.5 171h1M265 171.5h1M259 162h1M298.5 182.5h1M280 165h1M248.5 196.5h1M301.5 181h1M307 170.5h1M259 163h1M251 168.5h1M258 167.5h1M257.5 192h1M253 165h1M307 168h1M254 185.5h1M249 187.5h1M250 171h1M248.5 192.5h1M262.5 176h1M292 164.5h1M259.5 162.5h1M281.5 168.5h1M295 189.5h1M248.5 170h1M253 172h1M299.5 182.5h1M255 172.5h1M304.5 169.5h1M254 173h1M254 161h1M254 165.5h1M292.5 185h1M296.5 167h1M296 167.5h1M305.5 175h1M307 193h1M257 175h1M302 180.5h1M298 188h1M303.5 173h1M259 189.5h1M247.5 169h1M252.5 187.5h1M264 169.5h1M288 163h1M279 174.5h1M254 171h1M248.5 164h1M247.5 168.5h1M265 196.5h1M251 182.5h1M250.5 160.5h1M275 160h1M295.5 170h1M260.5 170.5h1M249.5 195.5h1M256.5 186h1M255.5 197.5h1M299 191h1M259.5 192.5h1M258 163.5h1M256.5 173.5h1M250.5 170h1M301 185h1M249 160h1M298 172h1M299 171h1M261 194.5h1M262.5 161.5h1M249.5 190h1M295 189h1M251.5 167h1M302.5 195h1M261 156h1M257.5 171h1M260 166h1M260.5 162h1M265.5 176h1M307 166h1M256.5 172h1M252.5 160h1M306.5 158.5h1M257.5 184.5h1M258 197h1M248.5 165h1M260.5 191h1M252 165.5h1M262.5 174h1M253.5 170h1M250.5 193h1M260 169.5h1M298.5 167.5h1M260 190h1M300 169h1M267 165h1M254.5 165h1M309.5 164h1M289.5 166h1M298 169h1M247.5 192h1M301.5 167h1M253 167h1M258.5 170h1M284.5 175h1M255.5 190h1M256 187.5h1M297.5 186.5h1M253.5 173h1M307 168.5h1M265.5 173h1M254 197h1M255.5 178h1M263 164.5h1M302 189.5h1M280.5 174h1M299 164.5h1M303.5 193.5h1M255.5 191.5h1M252.5 180h1M251.5 162h1M264.5 171h1M256.5 168.5h1M247.5 177.5h1M248.5 175.5h1M250.5 172h1M259 162.5h1M263.5 189.5h1M251.5 197.5h1M297 161h1M255.5 185h1M304 170.5h1M255.5 166.5h1M248 184h1M262 174h1M291.5 192h1M301.5 184h1M264 170h1M299 186.5h1M254.5 175.5h1M255 170.5h1M301 185.5h1M262.5 175.5h1M250 184h1M249.5 184h1M250 196.5h1M266 175.5h1M252.5 170h1M247.5 161h1M254 176.5h1M293.5 176h1M305.5 183h1M262.5 197h1M248 177.5h1M257 183h1M260.5 189h1M257 193.5h1M248 170h1M250.5 194h1M278 175h1M296.5 188.5h1M264 165.5h1M304.5 167.5h1M294.5 170h1M248 185.5h1M247.5 181h1M303 189h1M263 176.5h1M261.5 163.5h1M256 182.5h1M275.5 176h1M248 195h1M254 175h1M301.5 179h1M253 162h1M258.5 159h1M248 161h1M259.5 197h1M306.5 170.5h1M277 162.5h1M258 164h1M255 173.5h1M260.5 198h1M250.5 169h1M284.5 173.5h1M253 197.5h1M307.5 170.5h1M308 173.5h1M277.5 176.5h1M257 177h1M264.5 164.5h1M255.5 192h1M249.5 161.5h1M252.5 167.5h1M307 184h1M256.5 183.5h1M259 165.5h1M301.5 171h1M306 191h1M296 164h1M253 171h1M258 193h1M255.5 184h1M276 171h1M249.5 171h1M251.5 178h1M252 182.5h1M256 176h1M266 175h1M301 187.5h1M253.5 175.5h1M256 184h1M267.5 171.5h1M295.5 167h1M298 162h1M264 174.5h1M258.5 183h1M278 193h1M251 160h1M247.5 188.5h1M297 164.5h1M298.5 157.5h1M259.5 180h1M250 159.5h1M250 174h1M276.5 195.5h1M252.5 174.5h1M258 165h1M254 167.5h1M302 192h1M258 172h1M258.5 169h1M254.5 170.5h1M262.5 170.5h1M260 171h1M287 164h1M248 163.5h1M255 190.5h1M255 169.5h1M255 190h1M260.5 192.5h1M277.5 164h1M252 196.5h1M280 191.5h1M307.5 187h1M303.5 193h1M260.5 170h1M258.5 177h1M257.5 161.5h1M280 181.5h1M255 178h1M252.5 194h1M289.5 161h1M253 189h1M255.5 171h1M255 191.5h1M278 172.5h1M303.5 186h1M253 191.5h1M252.5 193.5h1M264.5 175h1M258 195.5h1M302.5 164h1M297.5 172.5h1M292.5 180h1M260.5 195h1M305 193h1M297 176.5h1" stroke="#404040" stroke-width="1.05" fill="none"/><path d="M256 167.5h1M254 172h1M300 183h1M262.5 162h1M279.5 166h1M284 170h1M248 197h1M304 186.5h1M306.5 169.5h1M261 177h1M263 165h1M295.5 162h1M296 195.5h1M262 178.5h1M258 169h1M307.5 169.5h1M247.5 176.5h1M305.5 163h1M256 174h1M256 159.5h1M257 163h1M303.5 187h1M292.5 170h1M253.5 183.5h1M298.5 193h1M254 194h1M307.5 189h1M284 165.5h1M262 168h1M259.5 186h1M302 181h1M255 167h1M258 177h1M256.5 187.5h1M249 175h1M259.5 173.5h1M258 166.5h1M257 191h1M277 187h1M257.5 172.5h1M252 193h1M275.5 175.5h1M294.5 177h1M247.5 196.5h1M261 167h1M260.5 174h1M261.5 196h1M249.5 176.5h1M299.5 173.5h1M252 174h1M303.5 190.5h1M301.5 180h1M251.5 165.5h1M302.5 187h1M277 194h1M253 192h1M288.5 175h1M258 167h1M250 157.5h1M250 180h1M248 175h1M259.5 187h1M256 164.5h1M255 184h1M252 165h1M274 192h1M252 174.5h1M262 159h1M248.5 181.5h1M257.5 175.5h1M251 188h1M258.5 162h1M254.5 189h1M256 197h1M302 190h1M251 174h1M262.5 178h1M254.5 168.5h1M259 175h1M250.5 195.5h1M261.5 179.5h1M309 168h1M255.5 182.5h1M249.5 192.5h1M264.5 174.5h1M258 192h1M259 160.5h1M257 169.5h1M256.5 182.5h1M257 188.5h1M253.5 165h1M251 165h1M251 174.5h1M262 166h1M282 195h1M252 194h1M301 167.5h1M259 170h1M301.5 173h1M296.5 194h1M255 163h1M251 172h1M248 164h1M280.5 169.5h1M256.5 162.5h1M250.5 168.5h1M267.5 164.5h1M259.5 169h1M249.5 173h1M255 161.5h1M259.5 168.5h1M258 177.5h1M250 168h1M262 195.5h1M249.5 164h1M255 191h1M297 174.5h1M299.5 169.5h1M266.5 160.5h1M304.5 165h1M254.5 171.5h1M250.5 185h1M252.5 162h1M255 171h1M305.5 198h1M284 175.5h1M258.5 166h1M252.5 163h1M308 171h1M256 180h1M255.5 196.5h1M306 171h1M280.5 166.5h1M254 170.5h1M257.5 175h1M256.5 196.5h1M276.5 166h1M256 175h1M253.5 169.5h1M261.5 168.5h1M255.5 192.5h1M250 186h1M248 174h1M247.5 187h1M251.5 194h1M299.5 177h1M298 179h1M249 166h1M255.5 170h1M250 188h1M256.5 192.5h1M262 177h1M263 170.5h1M261.5 177h1M254.5 192h1M305.5 162.5h1M261.5 166.5h1M265 167h1M299 170.5h1M258.5 188.5h1M264.5 177h1M295 174.5h1M276 165h1M248 172h1M258.5 191.5h1M255.5 164h1M254 163h1M249 190h1M261 187.5h1M289 168h1M257.5 168h1M260 193h1M262 171.5h1M258 166h1M258.5 155.5h1M257 176h1M290.5 163.5h1M250.5 192h1M256 168h1M256 164h1M305.5 184h1M249.5 163.5h1M258.5 166.5h1M263 162h1M257 184h1M304 194h1M250.5 176h1M248.5 179h1M261 188.5h1M255.5 167.5h1M299 163h1M255.5 193h1M302 170h1M256.5 167.5h1M287 162h1M311.5 173.5h1M304.5 185h1M304.5 166.5h1M254.5 195h1M303.5 191h1M248.5 191h1M257.5 162h1M257 170h1M299.5 192h1M254.5 165.5h1M249.5 193.5h1M257.5 186h1M258.5 171.5h1M258 188.5h1M266 165.5h1M262 192h1M275 171.5h1M248 194.5h1M252.5 168.5h1M252.5 191.5h1M248 169h1M255.5 159h1M307.5 190h1M252 168h1M298 163.5h1M260.5 196h1M255.5 165h1M306 186.5h1M258.5 162.5h1M299 189.5h1M249.5 169h1M252.5 185h1M252.5 166.5h1M290 170.5h1M255.5 172h1M298.5 161h1M259.5 197.5h1M261 182.5h1M259 169h1M260.5 173.5h1M287.5 183.5h1M257.5 172h1M254 169.5h1M299.5 185.5h1M260 193.5h1M247.5 160.5h1M306.5 197h1M281 166.5h1M263 195.5h1M258.5 184h1M299.5 161h1M295.5 184.5h1M296.5 188h1M261 162.5h1M254 181.5h1M258 171.5h1M274 176.5h1M281.5 168h1M302.5 189.5h1M303.5 188.5h1M250.5 184.5h1M300.5 197.5h1M264.5 163h1M256 195.5h1M263.5 159.5h1M266.5 168.5h1M251 162h1M290.5 175h1M276 175h1M288 168.5h1M253.5 165.5h1M249.5 175h1M259.5 166h1M247.5 170.5h1M299 168.5h1M260.5 182h1M260 177h1M247.5 168h1M281.5 162h1M268 166h1M299 185h1M305.5 163.5h1M252 166h1M261 192.5h1M305 181.5h1M302.5 169.5h1M303.5 198h1M258 184h1M258 196.5h1M259.5 190h1M301.5 170.5h1M249 163h1M295.5 164.5h1M251.5 159h1M252 195.5h1M259 183.5h1M281 176h1M251.5 165h1M260 167h1M291.5 170.5h1M298.5 189h1M254.5 186.5h1M301 186h1M265 191.5h1M262.5 160h1M247.5 188h1M249.5 168h1M258 170h1M301 197.5h1M296.5 169.5h1M252 188.5h1M259 170.5h1M251.5 189.5h1M295.5 197h1M254.5 182.5h1M261 161.5h1M264 197.5h1M255.5 167h1M252.5 195h1M258 185.5h1M252.5 179h1M265 166.5h1M277.5 171.5h1M261.5 169.5h1M262 188.5h1M302.5 198h1M252.5 161h1M252.5 165.5h1M260.5 166.5h1M249.5 196h1M253 193h1M253.5 187.5h1M264.5 169.5h1M257.5 167h1M254 184h1M255.5 160.5h1M248 163h1M267.5 169h1M259.5 160h1M256 167h1M261.5 178h1M297 166h1M252.5 161.5h1M300.5 169h1M261 167.5h1M247.5 172h1M264 181h1M260 157h1M253 188h1M264.5 189h1M251 169.5h1M296 185.5h1M251 188.5h1M263 176h1M265 171.5h1M267.5 177h1M303.5 196.5h1M252 198h1M247.5 182h1M296 173h1M255.5 178.5h1M265.5 181.5h1M304 172h1M304.5 187.5h1M248.5 180.5h1M265 162.5h1M263 177.5h1M252 171.5h1M250.5 176.5h1M303.5 170h1M301.5 189.5h1M253 172h1M281 171h1M255 172.5h1M277.5 184h1M251 185h1M255 187h1M251 166.5h1M258.5 164.5h1M308 172.5h1M297 168.5h1M248 166h1M286.5 175.5h1M303.5 185.5h1M301.5 166h1M264 187.5h1M312 171.5h1M258.5 194.5h1M259 189.5h1M299 195h1M247.5 169h1M263.5 175h1M252.5 187.5h1M249 164.5h1M301 189h1M247.5 168.5h1M262 162.5h1M263.5 160.5h1M260 191h1M262 176.5h1M253 195.5h1M253 193.5h1M252.5 163.5h1M258 172.5h1M250.5 192.5h1M248 169.5h1M248 190h1M254.5 164h1M258 163.5h1M247.5 166.5h1M298.5 192.5h1M300 172.5h1M250.5 170h1M301 177h1M263 171h1M304.5 186.5h1M251 162.5h1M304 168.5h1M248.5 193h1M248 189h1M261 175.5h1M247.5 198h1M300.5 176h1M261.5 184h1M298.5 185.5h1M257 168h1M256.5 165h1M304 185h1M260.5 162h1M298.5 195h1M265 161h1M256 171h1M259.5 165.5h1M255.5 189.5h1M258 194.5h1M259 189h1M300 193.5h1M301 167h1M247 160h1M258 197h1M260 195.5h1M285.5 175h1M256 184.5h1M264.5 170h1M252 179h1M268.5 174h1M260.5 191h1M293.5 177h1M262 185.5h1M303 188h1M260 169.5h1M260.5 171h1M298.5 167.5h1M309 176.5h1M248.5 187h1M270 168h1M266.5 169.5h1M301.5 171.5h1M257 188h1M276.5 160.5h1M253.5 185.5h1M249.5 171.5h1M251 185.5h1M260 168.5h1M261.5 161.5h1M250.5 174h1M253.5 195h1M257 159h1M300.5 191h1M265 159.5h1M251 165.5h1M253.5 164h1M286.5 170.5h1M255.5 178h1M255.5 189h1M302 187h1M262 167.5h1M256 190h1M255.5 191.5h1M303 187h1M302.5 187.5h1M257 172h1M250.5 174.5h1M255.5 181.5h1M292.5 161.5h1M257 189.5h1M263 175.5h1M299 175.5h1M250.5 172.5h1M303 182h1M257.5 164.5h1M255.5 177h1M256.5 155.5h1M308.5 168.5h1M286.5 196h1M257 182h1M306.5 167h1M256.5 185h1M305 193.5h1M248.5 169h1M300 167h1M252.5 180.5h1M260.5 188.5h1M262.5 175.5h1M247.5 163h1M252.5 170h1M254 176.5h1M301 165.5h1M253.5 174h1M247 170h1M257 193.5h1M248 170h1M261.5 174.5h1M257 158.5h1M303 190.5h1M300.5 187.5h1M298.5 164.5h1M256 186.5h1M258 183.5h1M250.5 193.5h1M296.5 188.5h1M258.5 173.5h1M247.5 191h1M301 191h1M259.5 194.5h1M302.5 197h1M284 169.5h1M253.5 174.5h1M252.5 173h1M268 164.5h1M256 171.5h1M259.5 175.5h1M248 179h1M253 162h1M264.5 163.5h1M258.5 159h1M261 196h1M248 165.5h1M258 168h1M258 164h1M247.5 184.5h1M257.5 162.5h1M264 167.5h1M249.5 163h1M295 161.5h1M281.5 187.5h1M261 186h1M271 193h1M301.5 191h1M258.5 172.5h1M250 161.5h1M249.5 161.5h1M252.5 193h1M301.5 171h1M261.5 194.5h1M249 165h1M251.5 169.5h1M253 171h1M253.5 194h1M291 162.5h1M265.5 164.5h1M258.5 182h1M259 161.5h1M306 181h1M296.5 182.5h1M256.5 170.5h1M303 171.5h1M255 189.5h1M302 167h1M253 184.5h1M301 187.5h1M248.5 183.5h1M261 179.5h1M251.5 181.5h1M254 164h1M311 169.5h1M248 159.5h1M305.5 167h1M258.5 193.5h1M249 182h1M259.5 157.5h1M252.5 165h1M251 186.5h1M263.5 167h1M250.5 167h1M282.5 162h1M304.5 194h1M263 164h1M252.5 172.5h1M282.5 173.5h1M249 193.5h1M255.5 195h1M251.5 186.5h1M258.5 169h1M304 169.5h1M254.5 170.5h1M257.5 195h1M254 173.5h1M255 190.5h1M253 169.5h1M260.5 192.5h1M256.5 197.5h1M257.5 164h1M307 171h1M270 167h1M282.5 181h1M303.5 193h1M260.5 170h1M306 169.5h1M259.5 183.5h1M299 167.5h1M308.5 161h1M249 169h1M249.5 188.5h1M305.5 170.5h1M306 188.5h1M256 161.5h1M253 189h1M247.5 186.5h1M278 172.5h1M261.5 175h1M271 175.5h1M248 164.5h1M284.5 168.5h1M260.5 185.5h1M248.5 197.5h1M259 163.5h1M258 195.5h1M254 174.5h1M251 180h1M267 162h1M257.5 167.5h1M290.5 164.5h1M250 194h1M249.5 164.5h1M272.5 175h1" stroke="#6a6a6a" stroke-width="1.05" fill="none"/><path d="M259.5 168h1M262.5 162h1M255 166.5h1M280.5 170.5h1M254 187h1M247 197h1M300.5 170h1M248 197h1M302 162h1M299 159h1M263 165h1M261 177h1M260 187.5h1M306.5 190h1M283.5 165h1M258.5 167h1M299 165h1M300 190h1M250 197h1M303 163h1M259.5 196h1M304 182.5h1M251.5 184h1M299.5 168h1M259 194.5h1M303 197.5h1M298 188.5h1M260 163.5h1M262 170.5h1M305.5 197.5h1M267.5 161h1M259.5 193h1M253.5 183.5h1M307.5 189h1M255.5 187.5h1M284 161h1M263.5 163h1M262 168h1M250.5 163h1M259.5 186h1M287.5 170h1M277.5 174.5h1M259.5 173.5h1M298 181.5h1M284 161.5h1M264.5 164h1M308 167h1M300 166.5h1M305 189.5h1M260.5 159.5h1M256.5 190h1M307.5 177h1M301.5 176.5h1M251 164h1M248.5 195.5h1M252.5 157.5h1M300.5 167.5h1M256.5 178h1M258.5 170.5h1M262.5 182h1M260 175.5h1M299 193.5h1M247 157.5h1M266 166h1M303.5 190.5h1M247.5 170h1M248.5 169.5h1M253 192h1M260 186.5h1M261.5 173.5h1M257.5 194h1M310.5 166h1M300.5 188h1M259.5 189.5h1M255 176h1M265.5 167.5h1M248.5 178h1M255 184h1M252 165h1M253 184h1M303.5 191.5h1M267 169.5h1M257.5 194.5h1M283.5 169h1M264.5 174h1M302 187.5h1M250 175h1M304 192.5h1M251 188h1M294.5 160.5h1M247.5 164h1M258.5 162h1M252.5 183.5h1M268.5 178h1M292.5 174h1M302 188.5h1M262 172h1M259.5 195.5h1M295.5 188.5h1M258.5 197.5h1M259 160.5h1M251 159h1M305 168.5h1M285.5 191h1M307 162.5h1M297 173.5h1M264.5 172.5h1M250.5 190.5h1M263.5 169.5h1M254 167h1M265.5 174.5h1M247 170.5h1M254.5 185h1M306.5 176h1M305.5 189h1M254.5 166.5h1M250.5 188.5h1M304.5 186h1M305.5 168.5h1M262.5 185h1M301 167.5h1M247 164h1M248 168h1M260.5 197h1M292.5 172h1M255.5 176.5h1M282 165.5h1M256.5 162.5h1M251 187h1M304.5 174h1M261 162h1M298.5 169h1M251.5 174.5h1M259.5 168.5h1M260 175h1M297.5 183.5h1M250 164h1M261 163h1M261.5 195.5h1M282 191h1M252.5 162h1M254 178.5h1M251.5 163.5h1M262.5 171.5h1M260 192.5h1M257 198h1M298 170h1M253.5 195.5h1M304.5 172h1M284 160h1M288.5 173.5h1M248 186h1M251 183h1M306 167.5h1M255.5 156.5h1M277.5 175h1M248 173.5h1M262 169h1M262 189h1M248 188h1M254.5 162.5h1M258 197.5h1M262 168.5h1M254 168h1M253.5 169.5h1M259 196h1M250 186h1M251.5 164.5h1M290.5 188h1M256.5 192.5h1M250.5 171.5h1M249.5 188h1M259 193h1M303.5 184h1M253.5 189h1M295.5 162.5h1M269.5 157.5h1M260.5 180h1M259 186h1M251 169h1M299.5 198h1M292.5 169h1M299 170.5h1M283 170.5h1M266.5 164h1M269 169.5h1M256.5 185.5h1M311.5 168h1M254.5 184h1M279 184.5h1M249.5 174.5h1M258 184.5h1M253.5 166.5h1M305 184h1M253 172.5h1M256.5 165.5h1M298 167.5h1M249 169.5h1M301 193.5h1M252 167h1M292 177h1M302 184h1M250 189.5h1M268 160.5h1M296.5 175h1M260 193h1M282 188.5h1M253.5 198h1M279.5 171h1M250.5 192h1M301.5 182h1M266.5 162h1M258.5 166.5h1M254 191h1M262 167h1M263 162h1M257 184h1M261.5 167h1M261 188.5h1M259 172.5h1M303.5 163h1M255.5 167.5h1M250.5 184h1M301 169h1M254.5 185.5h1M259.5 184h1M253 164.5h1M257.5 196h1M256.5 167.5h1M292.5 157.5h1M257 192.5h1M253.5 167h1M249.5 194h1M306 164.5h1M252.5 190h1M250 195.5h1M254.5 161h1M267.5 170h1M253 194.5h1M258 169.5h1M257.5 186h1M308.5 167.5h1M255.5 174h1M260 174.5h1M282 160h1M253 197h1M288.5 169h1M305 197.5h1M256 173.5h1M252.5 168.5h1M307 174.5h1M260 172h1M254 166h1M255 186.5h1M263 179.5h1M294.5 169.5h1M303 179h1M296 187.5h1M251.5 175h1M296.5 168h1M249.5 169h1M296 190h1M252.5 177h1M250 168.5h1M288.5 185h1M250.5 173h1M257.5 165h1M250.5 161h1M264.5 170.5h1M260.5 186h1M263 166h1M310 164.5h1M254.5 184.5h1M259 169h1M255.5 163.5h1M247.5 175h1M251 170.5h1M256 172h1M250 166.5h1M264 171.5h1M286 175h1M256 189.5h1M254 188.5h1M255 176.5h1M258.5 176h1M308.5 172.5h1M301 160.5h1M260.5 159h1M258.5 184h1M299.5 163h1M259.5 171h1M250.5 167.5h1M300.5 162h1M254 168.5h1M258 182.5h1M258 171.5h1M249 192h1M262 163h1M304 175h1M305.5 159.5h1M303.5 188.5h1M285.5 170h1M284 173.5h1M278 198h1M284 188h1M267.5 174h1M257.5 195.5h1M279.5 197h1M301.5 175h1M306 180h1M253 175h1M256 183h1M253.5 163h1M253.5 165.5h1M254 198h1M257 174.5h1M287.5 162h1M285.5 165.5h1M252.5 192h1M253.5 191h1M267.5 172h1M258.5 173h1M257.5 189h1M248 183.5h1M263 166.5h1M288 177h1M285 166h1M297 162h1M305.5 163.5h1M257.5 168.5h1M258 154h1M297 163h1M292.5 181h1M261 170h1M263.5 163.5h1M258 184h1M298.5 190h1M257.5 177h1M247.5 162h1M252 195.5h1M312 166h1M302 193.5h1M256 185h1M256 166.5h1M250 170.5h1M247.5 186h1M302 194.5h1M251.5 165h1M301 186h1M254.5 186.5h1M254.5 156h1M261 173h1M250.5 164.5h1M251 166h1M268 189h1M250 177.5h1M251.5 189.5h1M271 165.5h1M304.5 171h1M300 170h1M249 171h1M263.5 194.5h1M309.5 163.5h1M257 197h1M253 196h1M258 185.5h1M262 190h1M252.5 165.5h1M260.5 166.5h1M247.5 165h1M261.5 188.5h1M253 193h1M304 173.5h1M304 188h1M258 173h1M248 197.5h1M247.5 172h1M249.5 162h1M253 173.5h1M261.5 191.5h1M264.5 178h1M254.5 176.5h1M247.5 189.5h1M251 169.5h1M306 173.5h1M293 171.5h1M264.5 181.5h1M299 176h1M256 158h1M252 198h1M300.5 177h1M288 170.5h1M248 171h1M251 191.5h1M251 168.5h1M253 165h1M253.5 164.5h1M255.5 170.5h1M304 187h1M261.5 198h1M305 176h1M297 188.5h1M254.5 196.5h1M255 172h1M268 167h1M247.5 183h1M259 191h1M255 172.5h1M303 180h1M301 183h1M254 165.5h1M253 189.5h1M275.5 163h1M256.5 168h1M255 163.5h1M297 191.5h1M258 159.5h1M306.5 188h1M261.5 182.5h1M300 188h1M261 172.5h1M253.5 186.5h1M254.5 170h1M301 190h1M264.5 171.5h1M295.5 160.5h1M300.5 167h1M303 160.5h1M256 177.5h1M299 195h1M252.5 187.5h1M258.5 160h1M247.5 168.5h1M255.5 162h1M301 168.5h1M293.5 166h1M258.5 186.5h1M253 195.5h1M263 161.5h1M260.5 170.5h1M255.5 163h1M258 172.5h1M253 158.5h1M249.5 195.5h1M261 164.5h1M249.5 183h1M306.5 172h1M248 169.5h1M247.5 177h1M248 190h1M247.5 185h1M256.5 173.5h1M262.5 173h1M301.5 190h1M272.5 162.5h1M261 193.5h1M293 170h1M286 166.5h1M301 166.5h1M305 164h1M250 169.5h1M249.5 169.5h1M251.5 167h1M250 188.5h1M305 161.5h1M261.5 176h1M248 181.5h1M302.5 195h1M259.5 185.5h1M279 164.5h1M264.5 176h1M257 164h1M250 191.5h1M264.5 184h1M259 188.5h1M280 166.5h1M247.5 171.5h1M305 167.5h1M266 167.5h1M258 194.5h1M261.5 170h1M254 163.5h1M295.5 193h1M269.5 161.5h1M248 186.5h1M252 179h1M260.5 191h1M257 193h1M303 173.5h1M248.5 187h1M254.5 165h1M261.5 173h1M254.5 174.5h1M292 170h1M263 163.5h1M259 198h1M297.5 175.5h1M278.5 197.5h1M247.5 176h1M260 181.5h1M253.5 195h1M254.5 187h1M255.5 190h1M256 187.5h1M249.5 167h1M259.5 174h1M265.5 179h1M262.5 172.5h1M255 160.5h1M301 184h1M253.5 164h1M304.5 192.5h1M262.5 163.5h1M261 175h1M257.5 188.5h1M254 186.5h1M255.5 168.5h1M303 187h1M249 170h1M264.5 171h1M256.5 169h1M294.5 176.5h1M306 158h1M259.5 174.5h1M263 194.5h1M255 183.5h1M299 175.5h1M250.5 172.5h1M257.5 164.5h1M265.5 171h1M254.5 193.5h1M251 171h1M280 170.5h1M308.5 191.5h1M248 184h1M294 163.5h1M305 193.5h1M300 167h1M255 170.5h1M260.5 169.5h1M261 178.5h1M252.5 192.5h1M281.5 171h1M247.5 195h1M250 184h1M302 158.5h1M255 168h1M282 168h1M247.5 161h1M247.5 165.5h1M260.5 178h1M257 195.5h1M262 174.5h1M248 170h1M254.5 169h1M251 159.5h1M261 168h1M259 184h1M279.5 167h1M274 168h1M299.5 163.5h1M305.5 190.5h1M250.5 193.5h1M264 165.5h1M258.5 188h1M259.5 193.5h1M267.5 169.5h1M276.5 186h1M259.5 194.5h1M302 168.5h1M308 196h1M256.5 167h1M303 191.5h1M248 195h1M302.5 186.5h1M248 173h1M254 196.5h1M296.5 164.5h1M301.5 165.5h1M258 168h1M260.5 198h1M250.5 169h1M259.5 156h1M248 161.5h1M260.5 186.5h1M254 180.5h1M307.5 170.5h1M303 177h1M249.5 165.5h1M303 185h1M261.5 164.5h1M257 185h1M258.5 172.5h1M274 173.5h1M252 197h1M255.5 192h1M252.5 167.5h1M258 196h1M252.5 193h1M274.5 168h1M248.5 160.5h1M295 171h1M255.5 176h1M248 167.5h1M261.5 175.5h1M251.5 190h1M262 197h1M264.5 175.5h1M256.5 170.5h1M253.5 194.5h1M279 188h1M251.5 191.5h1M304.5 163.5h1M253 184.5h1M258 188h1M251 194.5h1M283 170h1M249 163.5h1M262.5 160.5h1M254 164h1M251 175.5h1M303 167h1M300.5 182.5h1M284 171.5h1M300 197.5h1M296 162h1M283 185.5h1M260 161h1M303.5 170.5h1M271 172.5h1M263.5 167h1M250.5 167h1M279.5 162h1M254.5 178.5h1M254.5 157h1M259.5 175h1M260 161.5h1M257 158h1M301.5 187.5h1M258 172h1M251.5 186.5h1M302.5 192.5h1M280 169.5h1M254.5 170.5h1M260 171h1M249.5 187.5h1M295.5 178.5h1M248 163.5h1M254 173.5h1M282 169.5h1M255.5 161.5h1M303.5 196h1M294.5 172.5h1M265 170h1M302 170.5h1M304 189h1M254 174h1M258 182h1M298.5 183.5h1M253 191.5h1M263 186h1M255 181.5h1M248 164.5h1M248.5 173.5h1M263 173.5h1M248.5 197.5h1M262.5 196h1M261 169h1M259.5 170.5h1M306 181.5h1M257.5 167.5h1M258 158.5h1M255.5 184.5h1M286 171.5h1" stroke="#5c5c5c" stroke-width="1.05" fill="none"/>
<path d="M274.0 133.6V199.1M246.7 178.3H318.6" stroke="#1e1e1e" stroke-width="1.3" fill="none"/>
<path d="M31.8 210.8H103.6V278.0" fill="none" stroke="#d2d2d2" stroke-width="1"/>
<path d="M31.8 210.8V278.0H103.6" fill="none" stroke="#bdbdbd" stroke-width="1"/>
<path d="M26.2 209.9l1.6 1.4M26.2 231.4l1.6 1.4M26.2 253.6l1.6 1.4M26.2 275.1l1.6 1.4M52.9 281.6l1.6 -1.4M77.3 281.6l1.6 -1.4M100.2 281.6l1.6 -1.4" stroke="#b8b8b8" stroke-width="0.8"/>
<path d="M27.9 212.1h1.8M27.9 233.6h1.8M27.9 255.8h1.8M27.9 277.3h1.8M54.7 280.2h1.8M79.1 280.2h1.8M102.0 280.2h1.8" stroke="#7a7a7a" stroke-width="1.5"/>
<path d="M63.2 283.2h9" stroke="#9a9a9a" stroke-width="1.6" stroke-dasharray="2 0.6"/>
<path d="M26.0 239.4v10" stroke="#a8a8a8" stroke-width="1.5" stroke-dasharray="2 0.6"/>
<path d="M35 276h1M39 258h1M38 273h1M46.5 240.5h1M47 245h1M48.5 249h1M39 242.5h1M51 257.5h1M38.5 247h1M32.5 276h1M38.5 259h1M38 269.5h1M51.5 251.5h1M51.5 251h1M39 273h1M39 248h1M44.5 272h1M36.5 273h1M42 268h1M70 256.5h1M40 270h1M38 270h1M54.5 258.5h1M46 252.5h1M62 266.5h1M37.5 268h1M41 247h1M77 241.5h1M61.5 245h1M41 271h1M36.5 266h1M37 261.5h1M47 242h1M40.5 274h1M33.5 251h1M42.5 266.5h1M40.5 270.5h1M44 250h1M35 263.5h1M36 269.5h1M65 250.5h1M42 253h1M53.5 245.5h1M33.5 253.5h1M33 265h1M63 245.5h1M82.5 247h1M51 247.5h1M49.5 251h1M37.5 267h1M43.5 262.5h1M43.5 266.5h1M32.5 247.5h1M51.5 250h1M43 266h1M44 272.5h1M43.5 267.5h1M48.5 252h1M45.5 249.5h1M46.5 245.5h1M44 265h1M34.5 267h1M38 271.5h1M45 245h1M35.5 273h1M34 274h1M42 264h1M39.5 257h1M32.5 263h1M34.5 250h1M47 254.5h1M49 250.5h1M32.5 248h1M45 256.5h1M60.5 255h1M41.5 252.5h1M55.5 249.5h1M41 267h1M47.5 266h1M42 244h1M44.5 244.5h1M35 243.5h1M47 243h1M62.5 260.5h1M53 247.5h1M47 250.5h1M40.5 271.5h1M44 274.5h1M67 255.5h1M32.5 252.5h1M33 266h1M48.5 245h1M40 247.5h1M39.5 269.5h1M41 264h1M51 246h1M44 271h1M43 275h1M52.5 258.5h1M37.5 265.5h1M34 276.5h1M39.5 252.5h1M59 244.5h1M50.5 249.5h1M36.5 257h1M62.5 253h1M48 276.5h1M34.5 272h1M72.5 249h1M56.5 250h1M50 255.5h1M33.5 248.5h1M36 249.5h1M38 277h1M37.5 273h1M46.5 253.5h1M66.5 255.5h1M46 277h1M63.5 255.5h1M38 266.5h1M56 251h1M45.5 262h1M44.5 263.5h1M34.5 271h1M44.5 257h1M37.5 266h1M34.5 273h1M32.5 271.5h1M42 270h1M40.5 269h1M48 250h1M38.5 266h1M49 267.5h1M51 261h1M83 256h1M37 273.5h1M36.5 270.5h1M63.5 253h1M38.5 270h1M42.5 274.5h1M43 245h1M64.5 245.5h1M33 254h1M54.5 250h1M48.5 276.5h1M35 272.5h1M54.5 259.5h1M42.5 271h1M62 251h1M38.5 273.5h1M39 246h1M47 251.5h1M77 248.5h1M36 247h1M39.5 261h1M40 276.5h1M34 269h1M42 276h1M41.5 269h1M40 241h1M38 241h1M34 272h1M36.5 262h1M40 254.5h1M61 256.5h1M33 263.5h1M43.5 273h1M45.5 264h1M43 249h1M68 251.5h1M39.5 272.5h1M63 248.5h1M43 268.5h1M40 243h1M36 260.5h1M40 267h1M38 267h1M65 245.5h1M41.5 274h1M41.5 262.5h1M44 264.5h1M46.5 244h1M42.5 255.5h1M43.5 251.5h1M82 242h1M35.5 274h1M33 263h1M63 242.5h1M36.5 271.5h1M51 239.5h1M35.5 243.5h1M36.5 267h1M39.5 240h1M51 247h1M32.5 274h1M44.5 276.5h1M76 254h1M36.5 252h1M42 263.5h1M45 247h1M32.5 267.5h1M80.5 245h1M38.5 264.5h1M38 245.5h1M39.5 262.5h1M37.5 257h1M65 262.5h1M37.5 247.5h1M46 245.5h1M65.5 262h1M42 245h1M43.5 253h1M36.5 272.5h1M34.5 263.5h1M66.5 251.5h1M38 269h1M35 276.5h1M37 273h1M73.5 253.5h1M61.5 250h1M53.5 246h1M67.5 251.5h1M56 248h1M44 249h1M38 272h1M65.5 258.5h1M56.5 257.5h1M32.5 276.5h1M37.5 248h1M35.5 258.5h1M42 269.5h1M36 272.5h1M54.5 255.5h1M42 274h1M39 269h1M67.5 253.5h1M33 256h1M54 244h1M39.5 253.5h1M35 253h1M51.5 274h1M67.5 255.5h1M38.5 248h1M44.5 272.5h1M35 267h1M37 268.5h1M41.5 250h1M47 248.5h1M56 252.5h1M47.5 243h1M52.5 272.5h1M50 244.5h1M34.5 269.5h1M38.5 270.5h1M44 256h1M57.5 251h1M32.5 250h1M38.5 267.5h1M41.5 272.5h1M45 250h1M35 264h1M59 249.5h1M46 251.5h1M78 245h1M44 275h1M46.5 275h1M42.5 263h1M33.5 271h1M42.5 256.5h1M38.5 246h1M39 266h1M45.5 276h1M67 247.5h1M65 250h1M42.5 273h1M44 271.5h1M47.5 247.5h1M37 275h1M32.5 245.5h1M44.5 247h1M44.5 259h1M42.5 269.5h1M45 265h1M43 262.5h1M54 249h1M67 260h1M42.5 270.5h1M33 247.5h1M41 246h1M33 275.5h1M39.5 245.5h1M56 250.5h1M42 252h1M49.5 240.5h1M33.5 276.5h1M40 276h1M61.5 249h1M41.5 271h1M41.5 273h1M61 259h1M40.5 273.5h1M60.5 251.5h1M56.5 249h1M71.5 250.5h1M36.5 253h1M47 244.5h1M35.5 271h1M50.5 253h1M45 274.5h1M50.5 244.5h1M50 245h1M48 248h1M62.5 242h1M36 273.5h1M43 268h1M60 267.5h1M45.5 265.5h1M32.5 271h1M37.5 264h1M48.5 244h1M39.5 274.5h1M40.5 276h1M37.5 272.5h1M57.5 244h1M35.5 260.5h1M55 241h1M32.5 251.5h1M36 276h1M35 270h1M39 254h1M57.5 257h1M54 252h1M39 244h1M35 273.5h1M55 250.5h1M38 265.5h1M39.5 266h1M59.5 256.5h1M47.5 241h1M43.5 271.5h1M37 274h1M37.5 277h1M42 262.5h1M38 245h1M39 263.5h1M60 246.5h1M34.5 269h1M33 276.5h1M38 263h1M38 256.5h1" stroke="#6a6a6a" stroke-width="1.05" fill="none"/><path d="M55.5 249h1M39 258h1M42.5 263.5h1M38.5 266.5h1M33.5 272h1M44 262h1M32.5 276h1M42 251h1M52.5 244h1M68.5 249.5h1M44 276.5h1M47 248h1M42.5 260h1M43.5 275.5h1M41 266.5h1M39.5 275h1M36 263h1M80 244h1M41.5 264.5h1M43 272h1M41 271h1M38.5 268h1M39 270h1M34 275.5h1M46.5 252h1M37.5 273.5h1M67.5 252h1M37 267h1M48.5 254.5h1M40.5 255h1M41.5 242.5h1M37.5 267h1M66.5 249.5h1M55.5 250.5h1M51.5 250h1M43 251.5h1M43.5 271h1M71 253.5h1M36.5 256h1M42.5 260.5h1M38 271.5h1M41 261.5h1M43 252.5h1M76 252h1M34 262.5h1M41.5 269.5h1M45 263h1M35 269.5h1M55 255.5h1M42 265h1M41 267h1M37.5 254h1M40.5 275h1M44 272h1M68.5 255.5h1M36 275h1M32.5 270.5h1M50.5 250.5h1M37.5 244h1M58 250.5h1M38.5 265h1M50.5 252h1M62.5 255.5h1M36 271.5h1M40 263.5h1M40.5 252h1M42 265.5h1M40 275.5h1M35.5 273.5h1M36 250.5h1M43 276h1M49 247.5h1M58.5 252.5h1M64 250.5h1M61 244.5h1M41 245.5h1M60.5 258.5h1M38.5 265.5h1M51.5 263h1M66 243h1M44 266h1M33 273.5h1M35 275h1M34 243h1M33.5 265.5h1M40.5 275.5h1M62.5 250h1M63.5 253.5h1M37 266h1M35 271.5h1M42 266h1M33 244.5h1M38 274h1M38 266.5h1M48 243h1M61.5 249.5h1M49.5 257h1M64 247.5h1M49.5 248.5h1M34.5 273h1M43.5 245.5h1M52 253.5h1M47 277h1M38 267.5h1M46 249h1M43 263.5h1M38.5 266h1M39 262.5h1M37.5 270h1M42.5 272h1M34.5 266h1M36.5 270.5h1M35.5 264.5h1M34 245.5h1M34 265h1M64.5 245.5h1M64 248h1M34.5 268h1M58.5 252h1M34.5 255.5h1M61 247.5h1M38 262h1M36 266.5h1M62 251.5h1M38.5 273.5h1M44.5 274h1M47 251.5h1M36 247h1M37 276h1M37.5 244.5h1M33 244h1M64 270.5h1M41 268h1M49.5 252.5h1M43.5 273h1M47.5 242.5h1M33 265.5h1M33.5 256h1M78.5 249.5h1M44.5 246h1M33 245h1M41 256h1M39 246.5h1M62 253h1M46 252h1M33.5 275h1M62.5 251.5h1M36.5 267h1M60 249h1M41 276h1M60 243.5h1M48.5 245.5h1M38 264h1M40.5 267h1M33.5 250.5h1M33 269.5h1M46 264h1M43.5 273.5h1M52 257h1M38 265h1M33 249h1M39.5 266.5h1M42.5 276h1M74.5 255h1M44.5 243h1M69 257h1M32.5 246h1M33 255h1M38.5 247.5h1M34 273.5h1M41.5 241h1M36.5 272.5h1M37 256.5h1M66 253h1M43.5 276h1M36.5 265h1M37 248h1M46.5 270.5h1M43 252h1M44 249h1M38 272h1M65.5 254.5h1M63.5 249h1M63.5 252.5h1M45.5 251h1M41.5 267h1M46.5 270h1M38 274.5h1M34 276h1M42 270.5h1M35 267h1M51 244.5h1M76 248h1M37 268.5h1M42 268.5h1M55 264.5h1M60 252h1M33 254.5h1M43 272.5h1M45 253h1M52.5 245.5h1M36.5 274.5h1M38.5 270.5h1M53 253.5h1M60.5 245.5h1M42.5 265.5h1M33 271.5h1M63.5 256h1M45.5 246.5h1M33.5 266.5h1M33 252h1M35.5 249.5h1M44 275h1M63 252h1M43.5 248.5h1M61 245.5h1M41 274h1M34 264.5h1M86.5 243.5h1M69 246h1M35.5 275.5h1M42.5 248h1M47.5 247.5h1M37.5 276.5h1M47 252.5h1M75.5 254h1M46.5 250.5h1M42.5 269.5h1M44 252h1M37.5 261.5h1M39 255.5h1M57.5 256h1M42.5 249h1M60 269h1M43.5 239h1M50 244h1M42.5 243.5h1M43 259h1M48 248.5h1M42 250.5h1M49 253h1M43.5 269.5h1M36 253.5h1M36.5 273.5h1M34.5 275h1M36 268h1M36 270h1M62 262h1M45.5 244h1M35.5 266.5h1M52.5 251h1M43.5 268.5h1M77.5 255h1M47 244.5h1M62.5 249h1M33.5 246.5h1M34 269.5h1M67.5 257h1M35 273h1M62.5 243.5h1M47.5 242h1M41.5 251.5h1M59 255h1M39.5 265.5h1M36.5 276h1M33.5 267h1M42 272.5h1M80 251h1M37.5 264h1M41 271.5h1M37 275.5h1M33 266.5h1M37.5 249.5h1M33 262.5h1M42 275.5h1M40.5 276h1M37.5 272.5h1M41.5 270h1M53.5 259h1M41.5 255.5h1M51 249h1M45.5 263h1M35 268h1M35 270h1M63 267.5h1M71.5 257h1M39 254h1M42.5 271.5h1M42 240h1M46 264.5h1M60.5 244.5h1M38 263.5h1M37.5 269h1M45.5 235.5h1M40 272h1M63 246h1M42 277h1M35 273.5h1M39.5 266h1M53.5 253.5h1M75 250h1M42 266.5h1M40.5 264.5h1M45 273.5h1M40 263h1M33 276.5h1M42 271h1M57 257h1M56.5 250.5h1M43 264h1M44 246h1" stroke="#4e4e4e" stroke-width="1.05" fill="none"/><path d="M43.5 261h1M48 275h1M55.5 249h1M39 245h1M43 254h1M55 249.5h1M43 245.5h1M53.5 246.5h1M72 264.5h1M62.5 261h1M40.5 245h1M57.5 252.5h1M44.5 248.5h1M50 254.5h1M46 266h1M72 248.5h1M46 270.5h1M42.5 260h1M38 268.5h1M33 259.5h1M39.5 276h1M42 276.5h1M43 265.5h1M50 250.5h1M32.5 254h1M35 244h1M41 267.5h1M54.5 250.5h1M69 255.5h1M40.5 269.5h1M41.5 263.5h1M78.5 254.5h1M36.5 270h1M41.5 248.5h1M40.5 270.5h1M37.5 273.5h1M33 272.5h1M44 250h1M61 248.5h1M55 262.5h1M42 253h1M38.5 261.5h1M53 258.5h1M36 249h1M37.5 253h1M44.5 266h1M36 268.5h1M37.5 267h1M43.5 266.5h1M32.5 247.5h1M59.5 250.5h1M56.5 266.5h1M36 255h1M59.5 252h1M38.5 267h1M43 252.5h1M40.5 262h1M35 248h1M58.5 248.5h1M33.5 253h1M39 275h1M40 250.5h1M36.5 275h1M41 246.5h1M43.5 246h1M36.5 257.5h1M41.5 249h1M35 269.5h1M41 253h1M42 265h1M73.5 248h1M40.5 275h1M61 252.5h1M35 270.5h1M33 271h1M35 268.5h1M48 268.5h1M36.5 250.5h1M40 264.5h1M52.5 256h1M32.5 270.5h1M37 269h1M57 252h1M32.5 249h1M34 260.5h1M70 250.5h1M42.5 243h1M45.5 277h1M48 240.5h1M44 271h1M43 275h1M42.5 250h1M45 255h1M42.5 261h1M60.5 258.5h1M39.5 267.5h1M73.5 246h1M38.5 248.5h1M38.5 272h1M37 271h1M62.5 253h1M44 266h1M40.5 249.5h1M34.5 272h1M43.5 250h1M37.5 263h1M66 250.5h1M33.5 257h1M41.5 271.5h1M42.5 272.5h1M34.5 274.5h1M40.5 275.5h1M35 258.5h1M44 268h1M42.5 265h1M35 271.5h1M58.5 256h1M52 251.5h1M43.5 264h1M36 275.5h1M38 266.5h1M35 250.5h1M37.5 266h1M37 268h1M55 244h1M34.5 273h1M51.5 252.5h1M68.5 265h1M59.5 246h1M40 268.5h1M43.5 265h1M35.5 254h1M66 249.5h1M38.5 251.5h1M71.5 251h1M39 274h1M48 259.5h1M39 262.5h1M63 257.5h1M36.5 274h1M32.5 252h1M34.5 266h1M45 252h1M68 248.5h1M39.5 271.5h1M33.5 274h1M50 250h1M36 277h1M50.5 259h1M39.5 243h1M36.5 267.5h1M33.5 270.5h1M53.5 254h1M54.5 250h1M46.5 276h1M35.5 263.5h1M33.5 252.5h1M36.5 255h1M45.5 252h1M62 266h1M38.5 273.5h1M47.5 257h1M40 276.5h1M47 251h1M41.5 260h1M40 261.5h1M70 246h1M38.5 244.5h1M42.5 251.5h1M47.5 245h1M40.5 246h1M35 269h1M33 263.5h1M43.5 273h1M59 248h1M39.5 272.5h1M58.5 247.5h1M67.5 245.5h1M36.5 276.5h1M43 268.5h1M42.5 253.5h1M54 255.5h1M42.5 268h1M34.5 276h1M43.5 266h1M34 271h1M72.5 249.5h1M35 266.5h1M62 253h1M40 261h1M58.5 260h1M42 264.5h1M43.5 255.5h1M32.5 274h1M45.5 269h1M41 276h1M32.5 266.5h1M65.5 255h1M45 239.5h1M45.5 274.5h1M38.5 264.5h1M48 251h1M38 265h1M37 245h1M34.5 264.5h1M35.5 262h1M78 257.5h1M33 255h1M42 263h1M67 256h1M40 269h1M35 276.5h1M36.5 265h1M37 273h1M43 250.5h1M43 252h1M41.5 246.5h1M35.5 275h1M46.5 249h1M36 264h1M44 268.5h1M33.5 275.5h1M51.5 239h1M41 263.5h1M41.5 267h1M37 270.5h1M48 253h1M51 253h1M39 272h1M42.5 264.5h1M42 252.5h1M51.5 249h1M55.5 266h1M33.5 269h1M50.5 248.5h1M39.5 276.5h1M53 251h1M73 252.5h1M38.5 269.5h1M53.5 254.5h1M71.5 266h1M37.5 268.5h1M35.5 261h1M61.5 244h1M43.5 264.5h1M44 256h1M42.5 265.5h1M54.5 253h1M41.5 264h1M78 247.5h1M47.5 261h1M38.5 268.5h1M34.5 249h1M41.5 272.5h1M33.5 262.5h1M77.5 247.5h1M65.5 249.5h1M65 244.5h1M36 274.5h1M70 247h1M48 254h1M68 245h1M35.5 272.5h1M41 274h1M43 269h1M44 254.5h1M41 249h1M43.5 245h1M41 242h1M41 252.5h1M36 273h1M48 264.5h1M42 275h1M32.5 245.5h1M37 257.5h1M37.5 276.5h1M44.5 271h1M40.5 251.5h1M64.5 257h1M66 258h1M34 265.5h1M67 260h1M42.5 249h1M52.5 259h1M77 256.5h1M48 265.5h1M35.5 277h1M34 263h1M52 250.5h1M36.5 273.5h1M35 274.5h1M47 273.5h1M33.5 276.5h1M43.5 270.5h1M52.5 251.5h1M34 273h1M41.5 271h1M44.5 253.5h1M33 260h1M45.5 264.5h1M69 250.5h1M47 256h1M36.5 253h1M37.5 259.5h1M56.5 242h1M35.5 271h1M57 244.5h1M35 273h1M43 268h1M52.5 255.5h1M34 270.5h1M47.5 267.5h1M41.5 266h1M69.5 261.5h1M42 272.5h1M36.5 250h1M64.5 249h1M41 271.5h1M32.5 273h1M35 266h1M64 246.5h1M45 273h1M41.5 253.5h1M80 253.5h1M48 249h1M41 250.5h1M42.5 275h1M73 247.5h1M37.5 265h1M61 268h1M42.5 254.5h1M45.5 263h1M40 244h1M70.5 249h1M39.5 273h1M46 264.5h1M57.5 247.5h1M69.5 250h1M54.5 249h1M47.5 276.5h1M40 265.5h1M66.5 268.5h1M46 272h1M55.5 248h1M45.5 249h1M45.5 252.5h1M45.5 243.5h1M48 256h1M41 275.5h1M71.5 248h1M46.5 255h1M44.5 254h1M40 263h1M39 265.5h1M37 267.5h1" stroke="#404040" stroke-width="1.05" fill="none"/><path d="M38 273h1M38.5 262.5h1M45 244.5h1M49 248h1M34 250.5h1M34.5 262.5h1M36.5 263h1M40 266h1M43.5 249.5h1M57.5 252.5h1M45 276h1M34.5 247h1M46 269.5h1M38 270.5h1M39.5 244.5h1M61.5 263.5h1M38 249h1M71.5 255h1M44 241h1M60 264h1M46.5 261.5h1M61.5 247.5h1M46 270.5h1M40.5 256.5h1M65.5 265h1M64 258h1M36 263h1M34 249.5h1M36.5 266h1M39 249h1M49 255h1M35 264.5h1M48 249.5h1M42.5 262.5h1M40.5 270.5h1M41.5 265.5h1M70 252.5h1M36 269.5h1M45.5 250.5h1M37 267h1M33 265h1M68 262.5h1M38.5 261.5h1M40 244.5h1M42.5 267.5h1M44.5 266h1M40.5 255h1M34.5 261.5h1M64.5 260h1M37.5 267h1M42.5 255h1M44.5 252.5h1M45 247.5h1M55.5 252h1M43 251.5h1M43 266h1M41 276.5h1M49 238h1M42.5 240.5h1M55 251h1M43 252.5h1M34 274h1M61.5 255h1M70 256h1M45 263h1M47 238h1M35 269.5h1M36 256h1M57 254.5h1M47 258.5h1M35.5 251.5h1M35.5 266h1M41.5 268.5h1M41 267h1M43 273.5h1M44.5 244.5h1M39 250.5h1M32.5 269.5h1M62 250h1M62.5 253.5h1M37 269h1M44 274.5h1M46.5 274.5h1M34.5 272.5h1M32.5 252.5h1M42.5 267h1M50 247h1M33 266h1M48.5 245h1M37.5 272h1M45 255h1M72.5 248h1M39 249.5h1M55 250h1M40 245h1M43.5 267h1M41 245.5h1M33.5 264.5h1M47 272.5h1M39 275.5h1M44 251h1M35 241h1M45 262h1M40.5 272.5h1M33 273.5h1M40 248h1M66 252h1M67.5 246h1M42.5 245.5h1M45.5 246h1M46.5 253.5h1M45.5 260.5h1M37 266h1M46 277h1M35 271.5h1M38 274h1M38.5 273h1M61.5 249.5h1M37 270h1M72 247.5h1M56 253.5h1M33 276h1M38 267.5h1M46.5 273.5h1M62.5 254h1M48.5 246h1M36.5 274h1M36.5 266.5h1M34.5 266h1M44 253h1M45 252h1M35.5 244h1M33.5 269.5h1M39 267.5h1M34 245.5h1M34 265h1M58 249h1M35 249.5h1M33.5 270.5h1M44 276h1M53.5 254h1M43.5 272h1M42.5 271h1M35 275.5h1M44.5 269.5h1M32.5 249.5h1M43.5 274.5h1M44.5 274h1M73 253h1M47.5 248.5h1M65 261h1M42 276h1M59 245h1M54 251.5h1M32.5 275.5h1M62.5 258h1M43 269.5h1M43 274h1M40.5 246h1M42.5 266h1M43.5 273h1M41.5 277h1M33 248.5h1M36.5 276.5h1M38.5 276h1M71.5 250h1M38 267h1M42.5 268h1M41.5 266.5h1M46.5 244h1M47.5 248h1M34 247h1M34 271h1M62 253h1M32.5 277h1M33.5 275h1M33.5 254.5h1M43.5 270h1M33 256.5h1M33.5 258.5h1M46.5 248.5h1M32.5 266.5h1M58 243h1M63.5 265.5h1M42.5 246.5h1M64.5 251.5h1M40 264h1M38 264h1M40.5 267h1M58 252h1M41.5 246h1M36 246.5h1M57 250h1M33 269.5h1M49.5 254.5h1M45 271h1M47.5 255h1M46 249.5h1M64.5 253.5h1M38.5 264.5h1M35 251h1M40 265h1M39.5 262.5h1M33 252.5h1M48 253.5h1M46.5 273h1M65 247h1M69.5 250.5h1M39 245.5h1M71 252h1M34 273.5h1M52 263h1M35 276.5h1M61.5 250h1M75 250.5h1M47 244h1M46.5 252.5h1M40 277h1M45.5 251h1M37.5 248h1M38.5 263h1M42 269.5h1M46.5 270h1M45 276.5h1M39 269h1M54 244h1M36 238.5h1M39.5 268h1M59 250.5h1M52 249h1M44.5 275.5h1M42 267.5h1M47 265.5h1M33.5 269h1M41 245h1M33 275h1M39 274.5h1M47.5 250.5h1M48.5 251.5h1M38.5 274h1M41 242.5h1M46 271h1M45 267h1M34.5 269.5h1M43 275.5h1M62 256.5h1M68 257h1M38.5 267.5h1M41.5 272.5h1M33.5 266.5h1M39.5 253h1M33 250.5h1M43.5 247.5h1M61 265h1M40.5 273h1M38 255.5h1M44 271.5h1M45 264h1M47.5 247.5h1M50.5 251.5h1M39 253.5h1M42.5 269.5h1M40.5 266h1M47 270h1M50.5 253.5h1M63 249.5h1M37 271.5h1M33 275.5h1M40.5 268h1M45.5 254h1M40.5 270h1M56 250.5h1M39.5 265h1M64.5 242.5h1M44.5 251h1M43.5 274h1M36.5 273.5h1M36 268h1M36 270h1M40 276h1M38 276h1M44 249.5h1M55 255h1M43.5 242h1M71.5 250.5h1M56.5 249h1M46 250h1M60.5 266h1M38.5 252h1M35 273h1M62.5 242h1M41.5 251h1M42 272.5h1M37.5 264h1M35 266h1M48 270.5h1M42.5 275h1M54.5 248h1M33 267.5h1M65.5 255.5h1M67 262h1M39.5 273h1M38.5 275.5h1M44.5 250h1M54 250.5h1M33.5 264h1M32.5 253.5h1M43 267h1M35.5 276.5h1M32.5 268h1M37 277h1M40 272h1M44 259h1M54.5 268.5h1M41 249.5h1M55.5 256.5h1M44 267.5h1M37 266.5h1M54.5 255h1M39.5 270h1M34 275h1M39 257h1M42 247h1M38 263h1M38.5 277h1M56.5 250.5h1M56.5 252h1" stroke="#5c5c5c" stroke-width="1.05" fill="none"/>
<path d="M52.5 212.0V278.0M31.8 260.3H103.6" stroke="#1e1e1e" stroke-width="1.3" fill="none"/>
<path d="M139.4 210.8H211.3V277.8" fill="none" stroke="#d2d2d2" stroke-width="1"/>
<path d="M139.4 210.8V277.8H211.3" fill="none" stroke="#bdbdbd" stroke-width="1"/>
<path d="M133.8 209.9l1.6 1.4M133.8 231.4l1.6 1.4M133.8 253.5l1.6 1.4M133.8 274.9l1.6 1.4M160.5 281.4l1.6 -1.4M184.9 281.4l1.6 -1.4M207.9 281.4l1.6 -1.4" stroke="#b8b8b8" stroke-width="0.8"/>
<path d="M135.5 212.1h1.8M135.5 233.6h1.8M135.5 255.7h1.8M135.5 277.1h1.8M162.3 280.0h1.8M186.7 280.0h1.8M209.7 280.0h1.8" stroke="#7a7a7a" stroke-width="1.5"/>
<path d="M170.9 283.0h9" stroke="#9a9a9a" stroke-width="1.6" stroke-dasharray="2 0.6"/>
<path d="M133.6 239.3v10" stroke="#a8a8a8" stroke-width="1.5" stroke-dasharray="2 0.6"/>
<path d="M161.5 248.5h1M156.5 244h1M184.5 265.5h1M183.5 276h1M153.5 273h1M180 268.5h1M179.5 268.5h1M181 273.5h1M155 269.5h1M183.5 250h1M145 273h1M147.5 244h1M194.5 250.5h1M190 269h1M144 265h1M140.5 275h1M187 270.5h1M189 267h1M148.5 256h1M187.5 260.5h1M188 254h1M149.5 271h1M146.5 244h1M147.5 248.5h1M170 244.5h1M187 270h1M140.5 271.5h1M148 247h1M150.5 274h1M145 270h1M151.5 257h1M182.5 262.5h1M154.5 266h1M154 244h1M184.5 266h1M150 271h1M186.5 274h1M186.5 262.5h1M140 242.5h1M154 263.5h1M186 270.5h1M147.5 273h1M156.5 269.5h1M145.5 238.5h1M183.5 265.5h1M170.5 249h1M178 250h1M151.5 248h1M151 258.5h1M181 264.5h1M184 276.5h1M153.5 276h1M147.5 234.5h1M188.5 248h1M181.5 260h1M140 243.5h1M146.5 274h1M151.5 270.5h1M141.5 241h1M160.5 270h1M172 252h1M156 242.5h1M155.5 230h1M188 269.5h1M183.5 269.5h1M192 242.5h1M186.5 276.5h1M189.5 241.5h1M185 274h1M142.5 242.5h1M179.5 272.5h1M181.5 274h1M181.5 266.5h1M150 246.5h1M152.5 271.5h1M183.5 249h1M154 249h1M184 259.5h1M185 268.5h1M189 247h1M182.5 267h1M142.5 273h1M189 271h1M155 263.5h1M180.5 275h1M181.5 267.5h1M150.5 252h1M152 238h1M140.5 266.5h1M179 264.5h1M142.5 236.5h1M156 242h1M181 274h1M178 258h1M148.5 269.5h1M178.5 247h1M191 273h1M185.5 251h1M187.5 265.5h1M148 238.5h1M161 267.5h1M149.5 264.5h1M140 271.5h1M187.5 258h1M185.5 268h1M185.5 270h1M155 248h1M185.5 255.5h1M153.5 263h1M155 239h1M152 237h1M141 242.5h1M179 263h1M183 267.5h1M188.5 258.5h1M186.5 272.5h1M149.5 265.5h1M146.5 250.5h1M155 242h1M187 266.5h1M183 251h1M146.5 261h1M184.5 263h1M187.5 266h1M156 258.5h1M188 252h1M191 273.5h1M182.5 272h1M153 250h1M146 239h1M182.5 265.5h1M179 249h1M186 269h1M182 276h1M149.5 248h1M147 242h1M151.5 249.5h1M180 268h1M185.5 276h1M147 267.5h1M140.5 267h1M164.5 271.5h1M181.5 261h1M178 273.5h1M181 271.5h1M186.5 274.5h1M184.5 270.5h1M155 262h1M150.5 247h1M146.5 275.5h1M187 246h1M152.5 268.5h1M184 251h1M186 266.5h1M184.5 268.5h1M188 272.5h1M190.5 267h1M180.5 266.5h1M155.5 272.5h1M185 275.5h1M186 267.5h1M150 269.5h1M156.5 247h1M140.5 272.5h1M150 243.5h1M140 262.5h1M154 269h1M184.5 262h1M147.5 267.5h1M185.5 263.5h1M189.5 264h1M164 263h1M153.5 234h1M146 261.5h1M148.5 265h1M146 238h1M140.5 240h1M145 243h1M188 262.5h1M145.5 258h1M147 250.5h1M190.5 265h1M144.5 274.5h1M183 265h1M149.5 257.5h1M146 243h1M189 263h1M184.5 271.5h1M179 261h1M151 264h1M185 271h1M159.5 241.5h1M142.5 239h1M187 264h1M143.5 276.5h1M140.5 247h1M187 272.5h1M182.5 257.5h1M145 264h1M177.5 246h1M181 266.5h1M183 272h1M153 233h1M153.5 247.5h1M146 264h1M148.5 239.5h1M185 253.5h1M182 268.5h1M152.5 264h1M158 251.5h1M150 250.5h1M159 276.5h1M140 267h1M181.5 255.5h1M146.5 246.5h1M186 264h1M141 269h1M151.5 267h1M183 273h1M152 264h1M159.5 271h1M186 245.5h1M184 265.5h1M187.5 239h1M149.5 245h1M146 269h1M183 266h1M185 267h1M148 245h1M187.5 266.5h1M181.5 244.5h1M192.5 249h1M155.5 267h1M187 271h1M183 268h1M181.5 276h1M145 247h1M183.5 259.5h1M186.5 247.5h1M182 258.5h1M181 246.5h1M157.5 244h1M184.5 239.5h1M142.5 267h1M184 269.5h1M186.5 258h1M152.5 271h1M183.5 264h1M184.5 271h1M145 251.5h1M150.5 273h1M183.5 249.5h1M184 270.5h1M147 240.5h1M184 242h1M161 250h1M157.5 272h1M158.5 276.5h1M185 265h1M182 259.5h1M182 261h1M147 268h1M182.5 269.5h1M159.5 253h1M189.5 276h1M190.5 276h1M143.5 266.5h1M182.5 270.5h1M154.5 240.5h1M187 273.5h1M191 259.5h1M142.5 272.5h1M150 255h1M185 272h1M180 271.5h1M187.5 271.5h1M149 276h1M182 275.5h1M145.5 275.5h1M186 270h1M145 246.5h1M151.5 271h1M181.5 265.5h1M144.5 265.5h1M152 270h1M166 275h1M183 254h1M153 260h1M193.5 242.5h1M183.5 262.5h1M143.5 260.5h1M140 266h1M142 257h1M142 247.5h1M148 254.5h1M198 242.5h1M181 248.5h1M185 273h1M181 265.5h1M146.5 251h1M158.5 245.5h1M146.5 253.5h1M183 263.5h1M141 264h1M188 266h1M196 246h1M163.5 245.5h1M182 266.5h1M144.5 235.5h1M141.5 243h1M153 268.5h1M140 273.5h1M187.5 265h1M157 250h1M147.5 253h1M185.5 271h1M181 273h1M185 270h1M183.5 268h1M145.5 267.5h1M180.5 276h1M184.5 264h1M146.5 273.5h1M185.5 267.5h1M148.5 273h1M140.5 249h1M189 255h1M161 266h1M184.5 265h1M142.5 251h1M183 248h1M140 276h1M146 244h1M183.5 273.5h1M187 265.5h1M178.5 243.5h1M151 236h1M180 277h1M147 265.5h1M190.5 274h1M183.5 246.5h1M159 253h1M145.5 262h1M148.5 233h1M144 259.5h1M187 242.5h1M180 266.5h1M151 233.5h1M152.5 248.5h1M151 239h1" stroke="#5c5c5c" stroke-width="1.05" fill="none"/><path d="M162.5 265.5h1M163 251h1M187 273h1M151 274h1M158.5 251.5h1M186 247.5h1M149 270.5h1M149.5 274.5h1M168.5 253h1M190.5 246h1M153.5 251.5h1M172.5 252.5h1M151 268.5h1M173.5 241h1M184 266.5h1M158 258.5h1M179 266h1M185.5 267h1M150.5 248h1M148 239.5h1M160.5 240h1M146.5 264.5h1M184 271h1M152.5 236.5h1M140 247.5h1M152 263h1M158 250.5h1M182.5 266.5h1M147.5 245h1M140.5 252h1M184.5 266h1M143.5 263h1M157.5 242.5h1M186 269.5h1M186.5 262.5h1M184.5 268h1M147.5 248h1M145.5 245.5h1M146.5 263h1M151.5 256.5h1M150.5 246h1M143 268h1M185 245h1M143 255.5h1M146.5 248h1M149 271.5h1M147.5 270.5h1M151.5 236.5h1M148 241h1M157.5 243.5h1M162 248h1M141.5 241h1M149.5 244.5h1M182 265.5h1M185.5 272h1M187 250.5h1M140.5 260h1M146.5 268.5h1M182 274.5h1M141.5 246.5h1M185 269.5h1M183.5 269.5h1M189.5 275.5h1M146 271.5h1M184 259.5h1M140.5 228.5h1M150 244.5h1M157 276h1M156 269.5h1M189 247h1M189 271h1M181.5 268.5h1M180.5 275h1M183 269h1M156 268.5h1M152.5 235h1M148 264h1M187 263.5h1M180 240h1M182.5 259.5h1M187 247.5h1M155 245h1M181 270.5h1M188.5 262h1M181 249h1M178.5 271h1M148 245.5h1M156.5 250.5h1M186.5 259.5h1M144.5 246h1M182.5 264h1M185.5 253.5h1M144 250h1M141 245h1M141.5 241.5h1M147 245h1M150 254h1M148 231.5h1M186.5 264h1M184.5 257h1M182.5 265h1M147 242.5h1M181 246h1M185 275h1M182 273.5h1M153.5 239h1M186.5 265h1M186 275.5h1M150 232.5h1M144 254h1M152 247.5h1M149 267.5h1M185.5 256h1M180.5 275.5h1M142 261.5h1M189 244.5h1M183.5 250.5h1M179 270.5h1M159.5 240.5h1M147 243.5h1M185.5 276h1M186.5 272h1M151.5 263.5h1M154.5 274h1M149 240.5h1M150.5 262.5h1M144.5 261h1M157 248h1M179.5 276.5h1M151 253.5h1M146.5 241.5h1M152 227h1M149.5 266h1M143.5 260h1M184.5 270.5h1M158 259.5h1M157.5 260h1M148 251.5h1M148 266h1M154 249.5h1M185 249.5h1M181.5 264h1M188 272.5h1M143 269.5h1M193 261.5h1M183 253h1M185.5 254h1M186 259h1M150 236.5h1M154 275.5h1M183 267h1M153 244h1M181.5 265h1M144.5 265h1M148.5 259.5h1M176 237.5h1M180.5 267.5h1M145.5 264.5h1M189 264.5h1M183 250h1M143.5 249h1M140.5 265h1M185 260h1M184.5 262h1M157.5 259h1M179 238h1M182 263.5h1M163.5 271.5h1M145.5 263.5h1M148.5 249.5h1M147.5 255h1M179 271.5h1M162.5 261.5h1M141 243h1M188.5 262.5h1M148 244.5h1M155 261h1M182.5 273.5h1M159 262.5h1M144 270h1M188 266.5h1M147 250.5h1M179 252h1M155 237h1M187 259.5h1M152.5 267h1M157.5 268h1M152 241h1M151.5 246h1M158.5 249.5h1M150.5 237.5h1M157.5 255.5h1M180 264.5h1M187.5 264.5h1M156 247h1M186 267h1M140.5 271h1M182 274h1M159 260.5h1M184.5 261h1M185.5 269.5h1M143.5 254.5h1M183 265.5h1M180.5 267h1M151.5 276.5h1M154 240.5h1M144.5 251.5h1M157 252h1M157.5 246.5h1M183 274.5h1M182 268.5h1M152.5 264h1M150.5 264h1M154.5 264h1M158 251h1M160.5 243h1M188.5 261.5h1M184.5 272.5h1M140 237.5h1M146.5 246.5h1M177.5 241h1M186 264h1M151.5 243h1M154 241h1M183 273h1M185 261.5h1M154 261.5h1M184 248.5h1M178.5 270h1M182 262h1M180.5 272.5h1M163.5 266.5h1M158.5 247h1M185.5 262h1M177.5 267h1M180 269.5h1M154.5 269h1M186.5 264.5h1M184.5 269h1M140.5 273.5h1M146 272h1M147 266.5h1M147 262.5h1M150 247.5h1M144.5 244.5h1M150.5 265.5h1M183.5 252h1M187 271h1M183 270h1M155 251.5h1M149 266h1M186 265.5h1M188.5 264h1M192 243h1M185.5 271.5h1M186 274.5h1M152.5 247h1M155 268h1M143.5 240h1M152 274.5h1M149.5 242h1M156.5 274.5h1M180.5 274.5h1M183.5 272.5h1M148 249h1M187 268h1M189.5 253h1M148.5 237.5h1M157.5 272h1M185 245.5h1M180.5 262.5h1M145.5 235h1M182.5 269.5h1M146 251h1M150.5 266h1M141.5 268.5h1M156 238.5h1M147.5 239.5h1M181.5 264.5h1M149.5 246h1M150 268.5h1M184.5 253.5h1M151 244.5h1M170 237h1M183.5 269h1M186.5 270.5h1M179.5 257.5h1M153.5 246.5h1M159 272h1M163 261h1M183.5 272h1M182 265h1M181 244h1M154 274.5h1M147 267h1M184.5 261.5h1M183 254h1M187.5 252h1M189 245h1M142 257h1M140.5 265.5h1M160.5 246h1M160.5 240.5h1M162.5 244.5h1M192 272h1M185.5 269h1M152 273.5h1M181.5 248h1M169.5 264h1M165.5 272.5h1M193 244h1M151.5 255.5h1M156 273h1M156.5 256h1M180 263.5h1M157 267h1M182 262.5h1M182 266.5h1M153.5 245.5h1M162 252.5h1M141 245.5h1M180.5 237.5h1M142 239h1M148 235h1M163 272h1M152 276h1M185.5 247h1M183.5 268h1M140.5 269.5h1M144.5 233h1M155 257h1M183 263h1M147.5 276h1M148 249.5h1M191 271h1M146 264.5h1M153 262h1M185.5 246h1M141 248.5h1M148 241.5h1M148 275.5h1M151 242.5h1M145 248.5h1M190.5 274h1M154 244.5h1M144 259.5h1M187.5 262.5h1M149.5 269h1M183 242h1" stroke="#4e4e4e" stroke-width="1.05" fill="none"/><path d="M187.5 271h1M185 276h1M179.5 243.5h1M149 269.5h1M185 257.5h1M186 257h1M160.5 241.5h1M146.5 254h1M149 268.5h1M187.5 251.5h1M182 267h1M187 270.5h1M142.5 237.5h1M184 266.5h1M150.5 248h1M149.5 247h1M160.5 240h1M180.5 258h1M143 239.5h1M152 242.5h1M150.5 269.5h1M158.5 273.5h1M182.5 266.5h1M152.5 270.5h1M154.5 270.5h1M189.5 275h1M182.5 271h1M153 272.5h1M157.5 263h1M178.5 252h1M189 264h1M195 242.5h1M184.5 270h1M156 264.5h1M156.5 269.5h1M183.5 257h1M186 252.5h1M186 268.5h1M185.5 265h1M179 253h1M157 253.5h1M147.5 269.5h1M143 268h1M176.5 272h1M182 244h1M169 253.5h1M171 255h1M179.5 250.5h1M182.5 260.5h1M189.5 261h1M140.5 247.5h1M150 253.5h1M160 262.5h1M186.5 246h1M157.5 243.5h1M189 269h1M144.5 260h1M146.5 274h1M187 271.5h1M180 264h1M153 262.5h1M142.5 258h1M188 269.5h1M185 269.5h1M150.5 254.5h1M183.5 269.5h1M155.5 236.5h1M185 270.5h1M148.5 245h1M177.5 243.5h1M152 229h1M186 238h1M148.5 242.5h1M183.5 270h1M181.5 267.5h1M160 262h1M150.5 252h1M183 260h1M180.5 258.5h1M156 242h1M156 267.5h1M152.5 261h1M180 269h1M152 243h1M182 266h1M171 252h1M184 272.5h1M153.5 265.5h1M181 249h1M141 247.5h1M188 262h1M184.5 264.5h1M186 261h1M190.5 262.5h1M183 266.5h1M157.5 243h1M185.5 270h1M140 243h1M144.5 262h1M147 245h1M141 236h1M187.5 263h1M189.5 267.5h1M191 252.5h1M180.5 264.5h1M148 240h1M186.5 272.5h1M182 273.5h1M146 245h1M185 238h1M153.5 239h1M152 249.5h1M185.5 273.5h1M185 271.5h1M189.5 246h1M154 243h1M180.5 275.5h1M143 258h1M187 242h1M157.5 272.5h1M182.5 265.5h1M186.5 240h1M182 276h1M141 242h1M157 242.5h1M158 267h1M184 273h1M149 246h1M156 250.5h1M140.5 267h1M149.5 236.5h1M150.5 266.5h1M140.5 237.5h1M154.5 266.5h1M155.5 261h1M150 242.5h1M143 273h1M143.5 236h1M151 253.5h1M191.5 243h1M188.5 272.5h1M161.5 243.5h1M180.5 239h1M187 240.5h1M152.5 267.5h1M184.5 268.5h1M182.5 273h1M181.5 264h1M180.5 266.5h1M140 228.5h1M187 276.5h1M144.5 265h1M182.5 266h1M180.5 268.5h1M158 272.5h1M184.5 246h1M182 264.5h1M157.5 262.5h1M189 264.5h1M158 245.5h1M185.5 244h1M187.5 275h1M142 245.5h1M153 265.5h1M186 240.5h1M162.5 276.5h1M145.5 248.5h1M186.5 268h1M141 271.5h1M161.5 276.5h1M151.5 242h1M148 256h1M146 261.5h1M155.5 277h1M182.5 273.5h1M164 273h1M183.5 266.5h1M154 262.5h1M155 237h1M181 269h1M185.5 242.5h1M182.5 256h1M189 263h1M184.5 271.5h1M180.5 276.5h1M148 257.5h1M182.5 244.5h1M150.5 267h1M149.5 250.5h1M156 271h1M185.5 269.5h1M187 241.5h1M185 260.5h1M154 260.5h1M185.5 270.5h1M143.5 271.5h1M183 274.5h1M185 253.5h1M182 268.5h1M176.5 246h1M154.5 264h1M189 270h1M187.5 245h1M184 264.5h1M182 255h1M146 245.5h1M184.5 272.5h1M150.5 245.5h1M187.5 260h1M154.5 241.5h1M190 237h1M187.5 248h1M182.5 264.5h1M148.5 251h1M141 233.5h1M178 270.5h1M173 253h1M152 245.5h1M151.5 259.5h1M180.5 265h1M148.5 253.5h1M185 267h1M148 245h1M140.5 273.5h1M179.5 266h1M140 264h1M167 241h1M147 262.5h1M187.5 268.5h1M186.5 263.5h1M184 256.5h1M147 271h1M184.5 262.5h1M151 233h1M145.5 271.5h1M158 276h1M142.5 243h1M187 266h1M149 268h1M191.5 244.5h1M186 274.5h1M155 268h1M160 264.5h1M143.5 269h1M154 264h1M161.5 259h1M147.5 269h1M162 254h1M147 251h1M184 270.5h1M149.5 242h1M143 262.5h1M157.5 272h1M184 268.5h1M185 245.5h1M148 268.5h1M185 265h1M140 272h1M194.5 264.5h1M182.5 274h1M152 271h1M180.5 271h1M145.5 230.5h1M187.5 276.5h1M183 276h1M154.5 240.5h1M146.5 265.5h1M182.5 233h1M143 255h1M144 239h1M175 238h1M152.5 253.5h1M159 269h1M149.5 260.5h1M149.5 240.5h1M154.5 268h1M143.5 271h1M148 246h1M146 255.5h1M188.5 272h1M186.5 243.5h1M152 251h1M143 260.5h1M149 276h1M185 265.5h1M145 246.5h1M147 253h1M155.5 265.5h1M161 244h1M150.5 273.5h1M149.5 241h1M156.5 270h1M180.5 268h1M147.5 251h1M187 276h1M183.5 262.5h1M182.5 262h1M141 250h1M152.5 253h1M143.5 268h1M163 245.5h1M151.5 266h1M184 258.5h1M183 244h1M185 273h1M149 254h1M184.5 267h1M184 271.5h1M156.5 273.5h1M181.5 248h1M190 241h1M190 261.5h1M158.5 245.5h1M146.5 232h1M141.5 258.5h1M151.5 268h1M148.5 265.5h1M180.5 246.5h1M150.5 257.5h1M148 250.5h1M149 264.5h1M183.5 251h1M185.5 266.5h1M159.5 263.5h1M140 273.5h1M188.5 268h1M159 268h1M190 267h1M157.5 256h1M144.5 243.5h1M157 259.5h1M183 242.5h1M153.5 269h1M184.5 265h1M142.5 251h1M191 271h1M187 248.5h1M187 265.5h1M141 248.5h1M178.5 267.5h1M149 263h1M181 270h1M182 268h1M187.5 274.5h1M182.5 249.5h1M153 241h1" stroke="#6a6a6a" stroke-width="1.05" fill="none"/><path d="M183 268.5h1M179.5 249h1M184 269h1M185 276h1M145.5 241h1M149.5 272h1M183.5 250h1M142 256h1M181.5 257.5h1M155 270.5h1M146 242.5h1M187 269.5h1M149 268.5h1M190 269h1M151 243.5h1M153.5 251.5h1M151 268.5h1M161.5 263h1M151 267.5h1M189 267h1M180 246h1M151.5 244h1M185.5 267h1M145.5 237.5h1M180 260.5h1M148 239.5h1M148.5 244.5h1M184.5 273h1M184 247h1M146 235.5h1M148 259h1M187.5 268h1M155.5 254h1M160 247.5h1M147.5 245h1M152 256.5h1M188 264.5h1M148.5 257.5h1M154 244h1M146 243.5h1M153 249.5h1M150.5 252.5h1M182.5 247h1M150 271h1M186 269.5h1M157.5 263h1M184.5 268h1M153 265h1M148 240.5h1M160.5 271h1M190.5 243h1M157.5 248h1M186 252.5h1M186 243.5h1M184 262h1M186.5 267.5h1M189 238.5h1M180 243h1M150 251.5h1M179 244.5h1M143 268h1M185 236h1M188 263h1M185 263h1M151.5 269.5h1M141.5 276.5h1M146.5 269.5h1M149 252h1M185 248h1M146.5 270.5h1M189.5 249.5h1M188.5 269.5h1M146.5 252.5h1M148.5 247.5h1M153 262.5h1M184.5 276h1M183 272.5h1M185 269.5h1M185.5 274.5h1M186.5 276.5h1M156 233.5h1M162 242h1M181.5 266.5h1M185 270.5h1M184 250h1M177.5 243.5h1M183.5 249h1M185 249h1M159 268.5h1M171.5 239.5h1M175.5 250.5h1M149 249.5h1M148 259.5h1M163 248.5h1M185 268.5h1M189 271h1M145.5 273h1M144 273.5h1M142 266.5h1M149 241.5h1M156 242h1M146 235h1M181 269.5h1M140.5 242h1M156.5 271.5h1M179.5 269h1M188.5 262h1M185.5 266h1M148 265h1M181 268.5h1M184.5 264.5h1M186 261h1M185 262h1M183 262.5h1M185.5 268h1M146.5 238h1M147 245h1M150 254h1M179.5 266.5h1M179.5 262.5h1M189.5 271h1M162 241h1M184.5 263.5h1M152.5 247.5h1M182.5 265h1M181 246h1M186.5 272.5h1M187.5 273h1M179.5 267.5h1M189 273.5h1M151.5 252h1M158.5 274h1M144.5 241h1M151 266.5h1M148 272h1M186.5 241.5h1M151 239.5h1M149.5 258h1M155 242h1M158.5 242h1M157 265.5h1M153 237.5h1M187 266.5h1M187.5 269.5h1M192.5 251h1M155 267.5h1M187.5 266h1M183 260.5h1M154 250.5h1M155.5 243h1M167 275h1M179.5 240.5h1M187 267.5h1M147 243.5h1M181 254.5h1M152 260h1M189.5 276.5h1M152.5 266.5h1M155.5 235h1M184.5 269.5h1M183 276.5h1M186.5 274.5h1M184.5 270.5h1M193.5 264h1M154.5 242h1M148 266h1M186 266.5h1M186 262.5h1M189.5 246.5h1M177 248.5h1M181.5 264h1M148 251h1M184.5 268.5h1M145 246h1M143.5 248h1M189.5 267h1M157 270.5h1M140.5 264h1M187 276.5h1M144.5 265h1M150 270.5h1M158.5 258.5h1M184.5 246h1M182 264.5h1M150.5 240.5h1M157.5 266.5h1M140 262.5h1M143.5 249h1M140.5 241.5h1M153 257h1M186.5 251h1M185 269h1M186 260.5h1M140 259h1M181 275.5h1M186.5 268h1M148.5 272.5h1M185.5 265.5h1M155 261h1M187.5 250.5h1M144 270h1M188 262.5h1M176.5 277h1M183.5 266.5h1M141 252h1M185 262.5h1M155 237h1M186.5 273.5h1M149 264h1M153 273h1M185 271h1M141 261h1M152.5 267h1M151.5 246h1M185 267.5h1M156 262.5h1M187.5 264.5h1M186.5 244.5h1M165 272h1M150.5 250h1M156.5 246.5h1M187 272.5h1M147 249.5h1M153 249h1M180.5 271.5h1M163.5 275.5h1M180.5 243h1M179.5 248.5h1M166.5 255.5h1M151 231.5h1M146.5 276.5h1M146.5 261.5h1M143.5 243h1M147.5 243h1M156 251h1M152.5 272.5h1M158 260.5h1M140 267h1M188.5 261.5h1M185.5 255h1M142.5 246h1M147 269h1M184.5 275.5h1M140.5 268h1M182 246h1M145 269h1M191 268.5h1M145 240h1M152 264h1M181.5 273.5h1M182.5 264.5h1M160.5 261h1M142.5 262h1M154 246.5h1M173 253h1M146 269h1M153.5 274h1M152.5 269h1M143.5 264h1M154.5 269h1M156.5 265h1M148 258h1M182.5 263.5h1M148 236h1M142 273.5h1M154.5 272h1M187.5 249h1M142.5 241h1M176.5 267h1M183 268h1M179 247h1M149.5 239h1M155 240.5h1M184.5 266.5h1M191 276.5h1M144 247.5h1M143 230h1M157 239h1M184 269.5h1M154.5 247h1M148 269.5h1M185 264h1M185.5 243h1M184.5 267.5h1M149.5 268.5h1M159.5 273.5h1M157 262.5h1M184 268.5h1M157.5 265.5h1M186.5 239h1M141.5 252.5h1M158 254h1M152.5 253.5h1M182.5 268.5h1M149 244.5h1M151.5 274.5h1M181.5 232.5h1M150 267.5h1M140.5 244h1M182 241.5h1M157 240.5h1M147 246.5h1M145.5 275.5h1M181.5 265.5h1M177.5 274.5h1M146 273.5h1M147 267h1M184.5 261.5h1M180.5 253.5h1M180.5 268h1M150 240.5h1M147.5 251h1M140.5 248.5h1M140 251h1M150 262h1M188.5 273h1M182 269h1M146 244.5h1M152.5 253h1M183.5 271h1M160 249h1M188 273h1M151 239h1M160 252.5h1M159.5 244h1M151.5 253.5h1M187.5 264h1M182.5 275h1M141 264h1M189.5 247.5h1M188 266h1M159 251h1M184 252h1M163.5 238.5h1M185 266h1M182 266.5h1M145.5 266.5h1M154 251h1M185.5 262.5h1M180 247.5h1M145 254h1M153 267.5h1M187.5 265h1M182.5 271.5h1M143.5 246.5h1M141 238.5h1M141.5 252h1M185.5 247h1M157 250h1M181 273h1M185.5 271h1M189 268.5h1M148 237h1M158 270.5h1M158 243.5h1M153.5 269h1M188.5 273.5h1M140.5 243.5h1M151.5 253h1M184.5 245.5h1M158 270h1M192 240.5h1M187 265.5h1M152.5 244h1M150 237h1M141 248.5h1M145.5 240.5h1M148 275.5h1M145 248.5h1M145 265.5h1M179.5 236.5h1M188 244.5h1M177 252h1M190 245.5h1M170 253.5h1M150 245.5h1M192.5 242h1" stroke="#404040" stroke-width="1.05" fill="none"/>
<path d="M166.3 212.0V277.8M139.4 257.8H211.3" stroke="#1e1e1e" stroke-width="1.3" fill="none"/>
<path d="M246.5 210.8H318.5V277.8" fill="none" stroke="#d2d2d2" stroke-width="1"/>
<path d="M246.5 210.8V277.8H318.5" fill="none" stroke="#bdbdbd" stroke-width="1"/>
<path d="M240.9 209.9l1.6 1.4M240.9 231.4l1.6 1.4M240.9 253.5l1.6 1.4M240.9 274.9l1.6 1.4M267.6 281.4l1.6 -1.4M292.1 281.4l1.6 -1.4M315.1 281.4l1.6 -1.4" stroke="#b8b8b8" stroke-width="0.8"/>
<path d="M242.6 212.1h1.8M242.6 233.6h1.8M242.6 255.7h1.8M242.6 277.1h1.8M269.4 280.0h1.8M293.9 280.0h1.8M316.9 280.0h1.8" stroke="#7a7a7a" stroke-width="1.5"/>
<path d="M278.0 283.0h9" stroke="#9a9a9a" stroke-width="1.6" stroke-dasharray="2 0.6"/>
<path d="M240.7 239.3v10" stroke="#a8a8a8" stroke-width="1.5" stroke-dasharray="2 0.6"/>
<path d="M247.5 275h1M248 262h1M298 270.5h1M252 272.5h1M303 263.5h1M301 238h1M304.5 243h1M260 243.5h1M299.5 265h1M247 276.5h1M256 277h1M247 261.5h1M301.5 275h1M251.5 264.5h1M256.5 243.5h1M267.5 245h1M252 269h1M253.5 265h1M256.5 270h1M299.5 240h1M260 246h1M249.5 254.5h1M257 242.5h1M247.5 261h1M257 263h1M299.5 272h1M299.5 265.5h1M254 276.5h1M253 250.5h1M259.5 271h1M263.5 273h1M249.5 250.5h1M262.5 251h1M247.5 249.5h1M268 239.5h1M299 255.5h1M256 246h1M260.5 267.5h1M301.5 261h1M257 269.5h1M276.5 244h1M267.5 269.5h1M297.5 267h1M260 275h1M259 252h1M300.5 266.5h1M257 270.5h1M248.5 273.5h1M255 264.5h1M254 267h1M259.5 266h1M294 251h1M263.5 249h1M261.5 247h1M308.5 256h1M263 246.5h1M256 276.5h1M251 266.5h1M252.5 265h1M304 247.5h1M255.5 254.5h1M247 245.5h1M257.5 261.5h1M248 245.5h1M265 255.5h1M259 249.5h1M256.5 271.5h1M261.5 266h1M261.5 251h1M251.5 249h1M262.5 244.5h1M300 264.5h1M254 264h1M256 267h1M261.5 268h1M247.5 266.5h1M255 263h1M258 263.5h1M252.5 272h1M252 276.5h1M262.5 276h1M258 248.5h1M248 272h1M254 265h1M247.5 247h1M259.5 244.5h1M281.5 251h1M285.5 243.5h1M260 272.5h1M259 269h1M257 275h1M253.5 255.5h1M307.5 265.5h1M261 273h1M304 266.5h1M301.5 262.5h1M299 265h1M251.5 262h1M251 276.5h1M269 255.5h1M300 263h1M255 252.5h1M247.5 260.5h1M256 272.5h1M257.5 245.5h1M257.5 265h1M256 245.5h1M264 251h1M252 259.5h1M254.5 264.5h1M298 248h1M262.5 264.5h1M299 248.5h1M260.5 272.5h1M299 265.5h1M258 249h1M260.5 245.5h1M257.5 269h1M304 262h1M248 253.5h1M297 253h1M258 270h1M262.5 248.5h1M300 268.5h1M278 266h1M247.5 246.5h1M252 265h1M296 249h1M254.5 245h1M259 240.5h1M255.5 266.5h1M288 247h1M248.5 248h1M256.5 266.5h1M263 273h1M253 241h1M253 261.5h1M255 275h1M261.5 244h1M302.5 258h1M257.5 271h1M248.5 269.5h1M256.5 267.5h1M305 248h1M260 240.5h1M255 243h1M253.5 264.5h1M255 250.5h1M257.5 251.5h1M254.5 249h1M248 250h1M256 266h1M288 255.5h1M259.5 273h1M302 262.5h1M260 276.5h1M303 262.5h1M247.5 272.5h1M262.5 252.5h1M257 266.5h1M256.5 262h1M251 272h1M247.5 265h1M262.5 270h1M258 271.5h1M289 268h1M294 269.5h1M249 244h1M303 267.5h1M299.5 248h1M305.5 267.5h1M258 250.5h1M260.5 266h1M299.5 239h1M258 252h1M298.5 249h1M261.5 248h1M298 267h1M260 267h1M263 244.5h1M247.5 240h1M260 237.5h1M269 245h1M261 263.5h1M261.5 269.5h1M247.5 272h1M251 273h1M277 244.5h1M260 250h1M261.5 270.5h1M250.5 246h1M251.5 247h1M251.5 271h1M257 262h1M255.5 250h1M261.5 270h1M302 276.5h1M300.5 255.5h1M264.5 270h1M306 260h1M258.5 269.5h1M248 265.5h1M262.5 257.5h1M247.5 271h1M298 272.5h1M279.5 249.5h1M262.5 271.5h1M275 270.5h1M302.5 275h1M260 265h1M252.5 242.5h1M304.5 269.5h1M307 245.5h1M297.5 263.5h1M306 266.5h1M251 273.5h1M284 253h1M253 271h1M248 248h1M267 237h1M250 273h1M264 270.5h1M302.5 254h1M263 263.5h1M291 254h1M287.5 253h1M300 239.5h1M271 255h1M249.5 266h1M303 264h1M259 236.5h1M249.5 251h1M255.5 265.5h1M254.5 275.5h1M254 248h1M250 243.5h1M257.5 265.5h1M248.5 269h1M283 242.5h1M302.5 263.5h1M259.5 249.5h1M252.5 246h1M257.5 245h1M263.5 272.5h1M275 254.5h1M252 244h1M256.5 239.5h1M259.5 247.5h1M253 273.5h1M260.5 248.5h1M253.5 235h1M260 266h1M256 256.5h1M257.5 273h1M257.5 248h1M299 274h1M301 257.5h1M262 249.5h1M256 273h1M252 247.5h1M261.5 249.5h1M262.5 277h1M263 270.5h1M307.5 262h1M300.5 263.5h1M263 252.5h1M263 243.5h1M251 264.5h1M249 250.5h1M252.5 275h1M255.5 251h1M257.5 269.5h1M267 239.5h1M261.5 247.5h1M261 243h1M254 246h1M261 267h1M253 276h1M257.5 252.5h1M305.5 262.5h1M254 262h1M272 256h1M261 250h1M269 249.5h1M260 273.5h1M300 246.5h1M256 270h1M285.5 241.5h1M247.5 264.5h1M281 271.5h1M250 250.5h1M252 269.5h1M272 257.5h1M258 261h1M247.5 265.5h1M251.5 263h1M302.5 246h1M304.5 245h1M299 238h1M257 268h1M255.5 276h1M300 264h1M264.5 242h1M301.5 263.5h1M256.5 276h1M259 264.5h1M253.5 242h1M251 243.5h1M253.5 267.5h1M249.5 247.5h1M283 250.5h1M250.5 276.5h1M297 274h1M286 273h1M259.5 276.5h1M259 263.5h1M261.5 246h1M256 271.5h1M262.5 243h1M301 239h1M302.5 254.5h1M298 244h1M295.5 253h1M247.5 269.5h1M261 274.5h1M256 250.5h1M260 264.5h1M253.5 246h1M249.5 263h1M305 250h1M247.5 249h1M297 255h1M263.5 244.5h1M262.5 259.5h1M255 273h1M292 260.5h1M303 276h1M259 260h1M298.5 267h1M276 248h1M258 274.5h1M292 262h1M304 266h1M252.5 239.5h1M248 274h1M264.5 261.5h1M252 271.5h1M252.5 247h1M268 250.5h1M254 269h1M254 240h1M249.5 274h1M285 250.5h1M255.5 257h1M249 260.5h1M299.5 267h1M262.5 272.5h1M301.5 243.5h1M248 267.5h1M249.5 270.5h1M261 266h1M261.5 243h1M266 245.5h1M291.5 249h1M256.5 265.5h1M249.5 243.5h1M253 270h1M250 268.5h1M255.5 245h1M301.5 255h1M251.5 275h1M265 249.5h1M304.5 276.5h1M297.5 247h1M265.5 252h1M258.5 267h1" stroke="#6a6a6a" stroke-width="1.05" fill="none"/><path d="M256.5 273h1M266 248.5h1M266 272h1M300 268h1M300.5 249.5h1M250 262h1M252.5 276.5h1M302.5 269h1M252 275.5h1M281 253.5h1M256 277h1M261 246.5h1M273.5 271h1M257.5 266.5h1M299 267.5h1M254 251h1M251.5 264.5h1M253 257.5h1M254.5 273h1M258 246.5h1M256 268.5h1M289.5 243.5h1M299.5 248.5h1M260.5 274h1M303 248h1M302.5 247h1M260.5 266.5h1M302.5 271h1M291 243.5h1M252.5 250h1M266 251.5h1M302 269.5h1M262.5 251h1M253.5 240h1M296 244.5h1M251 269h1M278.5 239h1M301.5 261h1M256 260.5h1M254.5 270h1M303 270.5h1M262.5 268h1M252 247h1M254 267h1M257 243.5h1M264.5 239.5h1M262 271h1M258.5 265.5h1M261.5 247h1M255.5 241h1M247.5 236h1M252.5 245.5h1M264.5 259h1M256 276.5h1M250 264h1M254.5 273.5h1M260 243h1M263.5 270h1M256.5 275h1M248 245.5h1M247 241.5h1M256 261.5h1M260.5 262h1M301.5 241.5h1M251.5 270.5h1M262.5 253h1M255.5 250.5h1M300.5 240.5h1M253 245h1M272 249.5h1M260.5 261.5h1M248 269h1M252 276.5h1M296 264.5h1M254 245.5h1M252 261.5h1M260 249.5h1M258.5 251.5h1M269.5 246.5h1M258.5 266h1M300 247.5h1M251 268h1M260.5 243h1M300.5 261.5h1M303 258.5h1M298 275.5h1M261 248h1M260 275.5h1M267.5 254.5h1M266.5 241.5h1M258.5 270h1M299.5 256h1M249 266h1M258 263h1M252 267h1M298 245h1M304 268.5h1M303.5 244h1M261 269.5h1M263 244h1M301.5 271h1M300 263h1M261.5 253h1M254 248.5h1M258 273h1M303 252h1M276 247h1M250 271h1M264 251h1M251 246.5h1M261 243.5h1M247.5 262h1M261.5 276h1M262.5 264.5h1M259 271h1M248 251h1M265.5 237.5h1M299 248.5h1M247.5 276.5h1M279.5 248h1M249 273.5h1M250 266h1M252 264h1M258 243.5h1M252.5 268h1M254.5 247.5h1M256 269h1M248 253.5h1M268.5 248.5h1M249.5 260.5h1M300 252.5h1M297 267h1M300 268.5h1M255.5 266.5h1M256 274.5h1M247.5 267h1M256.5 266.5h1M254.5 263h1M263.5 247.5h1M249 276h1M264 244.5h1M257 245h1M255 258.5h1M261.5 264.5h1M248 246.5h1M303 260h1M256.5 267.5h1M251 245.5h1M256 259h1M273.5 251.5h1M299.5 263.5h1M299 251.5h1M299.5 247.5h1M256.5 255h1M253.5 244h1M252 265.5h1M248.5 243.5h1M277 251.5h1M282 252h1M297 265h1M247.5 264h1M301.5 250h1M265 273h1M262.5 243.5h1M305 252.5h1M301 272.5h1M256.5 262h1M251 272h1M258 271.5h1M250.5 269.5h1M301 265h1M250.5 274h1M249 244h1M298.5 269.5h1M265.5 258h1M259.5 249h1M250.5 243.5h1M293 252.5h1M267 246h1M260 253h1M298.5 252.5h1M297 265.5h1M254 276h1M304 265h1M260 267h1M247.5 240h1M268 253.5h1M248 264.5h1M257.5 244.5h1M256.5 267h1M261.5 234.5h1M247.5 274.5h1M304.5 242.5h1M267 241h1M257 262h1M255.5 250h1M255 269h1M251 266h1M253.5 270.5h1M285.5 274h1M253.5 249h1M301.5 272h1M260.5 246.5h1M266 238h1M306.5 265h1M247.5 271h1M252.5 245h1M263.5 276.5h1M251 270h1M250 265.5h1M263.5 241h1M255.5 264h1M249 269.5h1M269 243.5h1M258.5 267.5h1M259 272h1M255 266.5h1M255.5 245.5h1M300 269h1M259.5 271.5h1M252 276h1M250.5 243h1M257 252h1M259 263h1M248.5 272.5h1M301 268h1M261 267.5h1M304 251.5h1M248 266h1M254.5 249.5h1M257.5 232.5h1M259 273h1M254 242.5h1M252.5 242h1M247 249h1M269.5 254h1M249 246h1M252.5 268.5h1M256.5 240h1M284.5 246h1M247 268.5h1M251 275h1M302.5 264.5h1M266 272.5h1M258 267.5h1M256 263.5h1M256.5 272h1M306 260.5h1M261 246h1M302 272.5h1M294.5 243.5h1M259 266h1M263.5 264h1M263 263h1M264.5 250.5h1M299 263h1M253.5 243h1M247.5 253h1M254 274h1M252 244h1M297.5 268.5h1M259.5 275.5h1M254 243.5h1M256 263h1M247.5 276h1M302.5 245h1M269 234h1M254 267.5h1M303.5 266.5h1M299 269.5h1M256 273h1M257.5 239h1M255 267h1M270 241.5h1M263.5 240h1M263 242h1M283.5 243.5h1M267.5 248.5h1M263 268.5h1M277.5 269.5h1M304 250h1M248 275h1M256.5 251h1M254 246h1M254.5 247h1M255.5 270h1M254.5 267.5h1M261.5 245h1M302.5 269.5h1M247 271.5h1M257 262.5h1M252.5 243h1M258.5 272.5h1M250.5 262.5h1M250.5 266.5h1M248 234h1M259.5 266.5h1M300 253h1M301 264.5h1M297 247.5h1M300.5 248h1M304.5 263.5h1M299 262h1M252.5 261h1M258 250h1M251 263h1M302 251h1M276 254h1M260.5 270h1M303 266h1M303 251h1M264 249.5h1M258.5 269h1M297.5 250.5h1M261 241.5h1M300.5 270.5h1M252.5 249.5h1M249.5 264.5h1M300.5 268.5h1M255.5 276h1M299 271.5h1M247 247.5h1M248 247.5h1M258 241.5h1M250 263.5h1M251 243.5h1M251.5 269.5h1M261 269h1M297 269.5h1M259.5 276.5h1M301 248h1M258.5 247h1M254.5 267h1M293.5 257h1M259.5 261.5h1M252.5 269h1M255.5 254h1M275.5 249.5h1M260 244h1M249.5 236h1M269.5 238h1M254.5 259.5h1M247.5 249h1M265 271.5h1M264 274h1M257.5 261h1M260 263.5h1M298.5 267h1M286.5 253.5h1M276 248h1M299.5 246.5h1M297.5 269h1M253 269.5h1M293 261h1M299.5 267h1M252.5 267.5h1M256 249.5h1M253 270.5h1M252 250.5h1M248 268.5h1M287 241.5h1M295.5 264h1M253 252.5h1M260 242.5h1M256.5 265.5h1M259.5 264h1M298.5 264h1M259 249h1M260 248h1M276 255h1M297 254.5h1M304.5 261.5h1M251 250.5h1M254.5 240h1M248 240.5h1M259.5 241.5h1M252.5 253.5h1M252 249.5h1" stroke="#5c5c5c" stroke-width="1.05" fill="none"/><path d="M260 274h1M254.5 272h1M251.5 250.5h1M306.5 270h1M301 258.5h1M252 241.5h1M260.5 245h1M247 276.5h1M255.5 274h1M248 276.5h1M267 242.5h1M260.5 260h1M263.5 257h1M253 229h1M255.5 234.5h1M295 275h1M258 273.5h1M263.5 265.5h1M256.5 249h1M251.5 264.5h1M257.5 242h1M252 269h1M303.5 251.5h1M259.5 274.5h1M298.5 274.5h1M258.5 254h1M258 244.5h1M253 271.5h1M248 243h1M303 256.5h1M248 267h1M304 250.5h1M301 237h1M305 266h1M250.5 273h1M267 252.5h1M297.5 246.5h1M249.5 252h1M252 262.5h1M259 243h1M256 240.5h1M259 250.5h1M252 247h1M260 275h1M252 271h1M260.5 255h1M266 270h1M300.5 266.5h1M257 270.5h1M301 241.5h1M267.5 270.5h1M300.5 239.5h1M298.5 251.5h1M248 264h1M263.5 249h1M260.5 240.5h1M254.5 273.5h1M257.5 261.5h1M265 268h1M247 241.5h1M299.5 251.5h1M287.5 266.5h1M265.5 259h1M262 251.5h1M262.5 246.5h1M249.5 241.5h1M258 244h1M249.5 275.5h1M261.5 266h1M258 264.5h1M293.5 241.5h1M253 245h1M259 275.5h1M259.5 273.5h1M299.5 255.5h1M301.5 260h1M262 270h1M254.5 276h1M247.5 274h1M255 263h1M252 276.5h1M306 263h1M261 242.5h1M292.5 240.5h1M255 248h1M259.5 244.5h1M286 242h1M252 246.5h1M255 235.5h1M255 269.5h1M265 276h1M259.5 276h1M265.5 276.5h1M265 250h1M258 263h1M249 251h1M297.5 272h1M298 245h1M304 267.5h1M251 261.5h1M257.5 272.5h1M302 252h1M256.5 247.5h1M258 273h1M254 272h1M300.5 267h1M256.5 275.5h1M250 247h1M249 268h1M267.5 250.5h1M256 245.5h1M259 266.5h1M264 251h1M259 239.5h1M263.5 250.5h1M254 274.5h1M288.5 251.5h1M254 258h1M281 273h1M262.5 264.5h1M247 251.5h1M251 267h1M265 254h1M264 268h1M288 272h1M255.5 269h1M299 265.5h1M251.5 271.5h1M258.5 244.5h1M252 264h1M269.5 245.5h1M252.5 268h1M252.5 270h1M292.5 250h1M300.5 264h1M248 255.5h1M298.5 264.5h1M258.5 276h1M247.5 246.5h1M304 261.5h1M256.5 274h1M307 267.5h1M265.5 264h1M284 265h1M263.5 247.5h1M255.5 247h1M255.5 259h1M253 261.5h1M255 275h1M262.5 263h1M270 249.5h1M256 271h1M251 265h1M247 253h1M299 251.5h1M248 244.5h1M290.5 246.5h1M255 243h1M259.5 242.5h1M257 239h1M254.5 249h1M284.5 252h1M254 273.5h1M256 251h1M269 244h1M254.5 268.5h1M305.5 266.5h1M304 237h1M297.5 244.5h1M247.5 265h1M257.5 270h1M250.5 269.5h1M251 265.5h1M302 267.5h1M263 273.5h1M257 242h1M299.5 248h1M255.5 261.5h1M262 273h1M294 242h1M302.5 270h1M259.5 252.5h1M253.5 263h1M266.5 244.5h1M266 246h1M252 251.5h1M304.5 248.5h1M251.5 274.5h1M247.5 240h1M252 266h1M307 243h1M258.5 242.5h1M261.5 269.5h1M276 265h1M269.5 255.5h1M257 246h1M256 246.5h1M248.5 275h1M299.5 268.5h1M262 270.5h1M252 268h1M255.5 237.5h1M296.5 270h1M283.5 275h1M261.5 249h1M256 244.5h1M263.5 260.5h1M260.5 273.5h1M252.5 247.5h1M261.5 270h1M255 269h1M300 272.5h1M258 275.5h1M259.5 256h1M253.5 268.5h1M298 272.5h1M249 239h1M260.5 244.5h1M292.5 270h1M258.5 243.5h1M278.5 241h1M255 262.5h1M252.5 256.5h1M271 239h1M297 268h1M255.5 245.5h1M256.5 272.5h1M286 251.5h1M261 274h1M300 269h1M247 248h1M304.5 270h1M256.5 265h1M296.5 276h1M253.5 256h1M259 263h1M299.5 254.5h1M261 268.5h1M301 268h1M260 272h1M260 265.5h1M257 259.5h1M259 273h1M247 270.5h1M251.5 246.5h1M247 249h1M262.5 249.5h1M296 239h1M254 263h1M260 258h1M258 242h1M251.5 244.5h1M249.5 251h1M258 267.5h1M257 264h1M261 246h1M301.5 270h1M301 273.5h1M253 268h1M262 252h1M249.5 270h1M251.5 276h1M249.5 268h1M307.5 267.5h1M278 249h1M258.5 238h1M260 273h1M252.5 246h1M257 241.5h1M256 258h1M249 241h1M262.5 260h1M265 247.5h1M258 260.5h1M298.5 247.5h1M300 251h1M254 252.5h1M261 261.5h1M248.5 262.5h1M263 274h1M300 253.5h1M298 253.5h1M263 249h1M299.5 275.5h1M255 267h1M263 242h1M249.5 244.5h1M302 274.5h1M263 267.5h1M299 268.5h1M261.5 247.5h1M256.5 266h1M256 269.5h1M254 246h1M266 262.5h1M257.5 270.5h1M255.5 270h1M261 252h1M252 263h1M296 276.5h1M256.5 253.5h1M257.5 268.5h1M261.5 245h1M265.5 247.5h1M257 262.5h1M299.5 269h1M250 254.5h1M248 271.5h1M303.5 246h1M262 260h1M258 243h1M252.5 250.5h1M252 248h1M257 271h1M304.5 249.5h1M251.5 248.5h1M251 245h1M302.5 268.5h1M251.5 265.5h1M255.5 273.5h1M254 241h1M293 267.5h1M254 275h1M258 250h1M305 246h1M264.5 248h1M247.5 263.5h1M296.5 270.5h1M257 251.5h1M297 245h1M259.5 255h1M256.5 246.5h1M302 268h1M261 241.5h1M300.5 270.5h1M299.5 267.5h1M263.5 251h1M303 268h1M259.5 246h1M252.5 272.5h1M247.5 245h1M262.5 276.5h1M265.5 269.5h1M253.5 262.5h1M249 260h1M251 274h1M261.5 267.5h1M264.5 242h1M297.5 259.5h1M250.5 268h1M247 247.5h1M247 275.5h1M262.5 238h1M252 246h1M265.5 243.5h1M251.5 269.5h1M299 250.5h1M251.5 266h1M301 248h1M252 262h1M264.5 246h1M266 267h1M263 261h1M302 244.5h1M255.5 254h1M247.5 269.5h1M297.5 241.5h1M250.5 246.5h1M256 252h1M250 260h1M295 256.5h1M301.5 256.5h1M247.5 270.5h1M249.5 263h1M247.5 249h1M249 267.5h1M247.5 234.5h1M247.5 242h1M247.5 243.5h1M302.5 250.5h1M301 243.5h1M259.5 267h1M302.5 252h1M301 268.5h1M258.5 260.5h1M252.5 262.5h1M252 271.5h1M296.5 271.5h1M260.5 252h1M253.5 276.5h1M294 250h1M249.5 269.5h1M250 266.5h1M255.5 257h1M252.5 267.5h1M253 270.5h1M260.5 235h1M255.5 247.5h1M261 251.5h1M254.5 265h1M252 252h1M301.5 268.5h1M248 267.5h1M261.5 243h1M266 245.5h1M305 265h1M260 263h1M256 275.5h1M295.5 245.5h1M296.5 261h1M299.5 259.5h1M297.5 262.5h1M298.5 264h1M270.5 249h1M253.5 267h1M302 244h1M259 267.5h1M248 246h1M247 240.5h1M265 241.5h1M262.5 269h1M262.5 240h1M266 240h1M267 248.5h1M254 271h1" stroke="#4e4e4e" stroke-width="1.05" fill="none"/><path d="M255.5 248h1M296.5 249.5h1M254.5 272h1M263.5 244h1M250.5 244h1M256.5 273h1M294.5 240.5h1M251 259.5h1M268 241.5h1M252.5 276.5h1M296.5 247.5h1M302.5 269h1M260 243.5h1M252 275.5h1M247 276.5h1M303.5 271h1M262 245.5h1M307 268.5h1M253.5 264h1M248 241h1M277 239.5h1M257.5 262.5h1M256.5 270.5h1M255 276h1M255.5 243.5h1M256.5 249h1M253 275h1M254 240.5h1M264 243h1M252.5 246.5h1M250 261.5h1M250.5 274.5h1M289 267.5h1M251 275.5h1M258.5 254h1M257 263h1M301 261h1M248 267h1M278 273.5h1M302.5 247h1M251.5 257h1M254.5 251.5h1M259.5 247h1M265 271h1M305 266h1M259 271.5h1M253.5 240h1M267 252.5h1M260.5 268.5h1M252 266.5h1M260.5 267.5h1M250 250h1M300 257.5h1M261 254h1M248 237h1M251.5 242.5h1M257 270.5h1M295.5 252.5h1M250.5 266h1M259.5 251.5h1M254 267h1M269 248.5h1M256 276.5h1M259 237h1M259.5 253.5h1M247.5 260h1M261.5 251.5h1M297 266.5h1M266 256h1M260.5 276.5h1M300 244h1M300 264.5h1M251.5 268.5h1M256 267h1M298.5 273.5h1M247.5 274h1M247 272h1M261 242.5h1M258 265.5h1M249 273h1M250.5 244.5h1M258.5 266h1M263 264h1M301 247h1M260.5 267h1M260 241.5h1M261.5 273.5h1M258.5 270h1M263 265h1M251.5 262h1M253 266.5h1M255 249h1M253.5 273.5h1M255 252.5h1M253 242h1M301.5 267.5h1M258 248h1M254 272h1M257 250.5h1M272.5 246.5h1M259 266.5h1M252 250h1M247.5 262h1M258.5 273.5h1M254.5 264.5h1M253.5 244.5h1M263 248.5h1M264 268h1M283 272h1M249 273.5h1M253.5 276h1M250 251h1M300 270.5h1M265.5 250h1M304.5 246.5h1M292.5 250h1M258 270h1M300 242h1M306.5 268.5h1M257.5 272h1M259.5 264.5h1M303.5 242.5h1M258.5 276h1M252 238.5h1M252 265h1M254.5 245h1M297.5 266h1M255.5 266.5h1M279.5 249h1M252.5 273.5h1M303.5 248h1M256.5 266.5h1M260.5 240h1M297.5 252.5h1M265 248.5h1M255 275h1M298.5 248.5h1M253.5 254h1M305 263h1M259.5 265.5h1M268 240h1M298.5 265.5h1M250 273.5h1M256.5 268.5h1M303 260h1M256.5 267.5h1M256 247h1M264.5 244h1M252.5 244.5h1M248 253h1M247 244.5h1M259.5 245h1M260.5 274.5h1M253.5 244h1M294 242.5h1M259.5 242.5h1M262.5 236.5h1M248.5 268.5h1M251.5 265h1M255 250.5h1M287 249h1M259.5 273h1M260 276.5h1M262 245h1M253 261h1M256.5 262h1M247.5 265h1M258.5 263.5h1M256 268h1M293.5 250h1M250.5 249h1M257 267.5h1M253 249.5h1M248 254h1M296.5 251h1M253.5 248h1M303 260.5h1M300.5 266h1M248.5 275h1M261.5 270.5h1M256 244.5h1M253.5 269.5h1M275 248h1M300.5 270h1M254.5 275h1M252.5 247.5h1M250.5 262h1M257.5 276h1M300.5 255.5h1M260 264h1M248.5 250.5h1M298 272.5h1M254.5 271.5h1M256.5 237h1M279.5 249.5h1M254 264.5h1M258.5 267.5h1M249 274h1M296.5 253h1M252 244.5h1M260.5 276h1M282.5 241.5h1M249 249h1M254 263.5h1M247.5 266h1M305.5 267h1M252.5 248h1M249 243.5h1M250 263h1M257 252h1M247.5 268h1M259.5 250.5h1M260 272h1M252.5 270.5h1M258 262.5h1M299.5 271.5h1M261.5 258.5h1M278 239h1M260 258h1M255.5 248.5h1M251 276h1M250 249h1M286 273.5h1M252 254h1M289 248.5h1M262 250.5h1M261 260.5h1M300 267.5h1M255.5 274.5h1M303 245.5h1M263 263h1M251.5 276h1M299.5 261h1M258.5 238h1M295.5 241.5h1M273 248h1M247.5 244.5h1M255 276.5h1M256.5 262.5h1M259 270h1M258.5 271.5h1M263.5 241.5h1M306.5 266h1M249 275h1M259.5 247.5h1M258 240.5h1M256.5 247h1M256 263h1M299.5 249.5h1M257.5 256.5h1M254 267.5h1M249 271.5h1M256 273h1M257 269h1M252 247.5h1M261.5 249.5h1M264 275h1M304 237.5h1M299.5 275.5h1M298 268h1M257 272h1M267.5 248.5h1M258 261.5h1M301.5 276h1M259 256h1M268 242.5h1M253 276h1M265 248h1M255.5 268h1M249 261h1M249.5 276h1M258 243h1M284 263h1M264.5 242.5h1M258.5 265h1M258.5 241.5h1M247.5 264.5h1M251.5 265.5h1M298 253h1M265 242h1M301.5 254h1M268.5 246h1M260.5 243.5h1M298.5 268.5h1M264.5 248h1M261 264h1M264.5 233.5h1M299.5 262.5h1M299.5 266.5h1M285.5 240h1M254.5 255.5h1M298 250h1M296.5 243.5h1M248.5 261.5h1M301 265.5h1M261 241.5h1M265.5 236.5h1M264 247.5h1M254.5 276.5h1M252.5 272.5h1M253.5 274h1M253.5 266.5h1M250.5 268h1M248.5 253h1M301.5 247.5h1M264 236h1M249.5 263.5h1M266.5 250.5h1M299.5 246h1M251 268.5h1M251.5 266h1M267 244.5h1M299 252h1M247.5 239h1M287.5 268.5h1M261.5 246h1M259 247.5h1M266 267h1M257.5 250.5h1M283 261h1M261 274.5h1M298 264.5h1M301.5 263h1M254.5 250h1M260.5 254.5h1M263.5 246.5h1M265.5 246h1M271.5 257.5h1M276 263h1M291.5 242.5h1M249.5 263h1M257 237.5h1M255 273h1M252 275h1M301 249h1M260.5 271.5h1M253.5 262h1M263 249.5h1M289.5 254h1M300 265.5h1M301 268.5h1M261 271h1M250 277h1M252.5 239.5h1M248 274h1M301.5 274h1M253.5 276.5h1M259 248h1M255 266h1M255.5 263.5h1M254 269h1M247 242h1M284.5 251h1M248 267.5h1M300.5 243h1M289 247.5h1M249.5 234.5h1M259 274h1M250 267.5h1M303.5 269h1M299 260h1M299 269h1M292.5 271.5h1M261 268h1M257 238.5h1M255.5 242.5h1M255.5 263h1M247 246h1M250.5 238.5h1M250.5 265h1M300 251.5h1M298 269.5h1M257 264.5h1M279 253.5h1" stroke="#404040" stroke-width="1.05" fill="none"/>
<path d="M273.7 212.0V277.8M246.5 257.8H318.5" stroke="#1e1e1e" stroke-width="1.3" fill="none"/>
<path d="M431.6 53.5H504.0V120.3" fill="none" stroke="#d2d2d2" stroke-width="1"/>
<path d="M431.6 53.5V120.3H504.0" fill="none" stroke="#bdbdbd" stroke-width="1"/>
<path d="M426.0 52.6l1.6 1.4M426.0 74.0l1.6 1.4M426.0 96.1l1.6 1.4M426.0 117.4l1.6 1.4M452.8 123.9l1.6 -1.4M477.5 123.9l1.6 -1.4M500.6 123.9l1.6 -1.4" stroke="#b8b8b8" stroke-width="0.8"/>
<path d="M427.7 54.8h1.8M427.7 76.2h1.8M427.7 98.3h1.8M427.7 119.6h1.8M454.6 122.5h1.8M479.3 122.5h1.8M502.4 122.5h1.8" stroke="#7a7a7a" stroke-width="1.5"/>
<path d="M463.3 125.5h9" stroke="#9a9a9a" stroke-width="1.6" stroke-dasharray="2 0.6"/>
<path d="M425.8 81.9v10" stroke="#a8a8a8" stroke-width="1.5" stroke-dasharray="2 0.6"/>
<path d="M484.5 87.5h1M476.5 111.5h1M494.5 110h1M480 103h1M488 94.5h1M493 105h1M491.5 107h1M491.5 117h1M466 115h1M496.5 112h1M486.5 109.5h1M495.5 109h1M490 95h1M488.5 89.5h1M484 117h1M485.5 105h1M484 116h1M472.5 118h1M484 102h1M479 105h1M490.5 114h1M498 112h1M489 116h1M491.5 114.5h1M474.5 106h1M485.5 94h1M485.5 108h1M494 105.5h1M492.5 106h1M475.5 112.5h1M483 105h1M479 108h1M480 113h1M474 113.5h1M500 87h1M484 112.5h1M472 116h1M468.5 107h1M481 90.5h1M475.5 108.5h1M481 119h1M482 111.5h1M484.5 112h1M486.5 118h1M483 108h1M472.5 107h1M491 109h1M474.5 111.5h1M483.5 108h1M489 114.5h1M476.5 113h1M478 113h1M486 110h1M486 118.5h1M473 112h1M476 114.5h1M493 114h1M474 119h1M484 113.5h1M497.5 105h1M488 103h1M464 106h1M472.5 114h1M484 105.5h1M493.5 102.5h1M498 109h1M484 106.5h1M485.5 100h1M474.5 103h1M486.5 107.5h1M485.5 113h1M477 106h1M457.5 89.5h1M487 106h1M487 99.5h1M496.5 114.5h1M495 113h1M493 110h1M473 111.5h1M476 119h1M481 106h1M486.5 114h1M482 88.5h1M468 118h1M486 112h1M480 109.5h1M487 111.5h1M480 104.5h1M493.5 110.5h1M453.5 89.5h1M496.5 113.5h1M486.5 114.5h1M476.5 115h1M479.5 115h1M474.5 113h1M474 104h1M475 107.5h1M473 116h1M479.5 111h1M498.5 107h1M488.5 115h1M495 115.5h1M488.5 111h1M493 104.5h1M486.5 118.5h1M494 94h1M475 114h1M483 118.5h1M493 116.5h1M496.5 93.5h1M493 112h1M485.5 115h1M476 106h1M494.5 113.5h1M475.5 111.5h1M478 105h1M482.5 118.5h1M485.5 109.5h1M494.5 105.5h1M495.5 106h1M464.5 106.5h1M484.5 113.5h1M485.5 116.5h1M479.5 110.5h1M480 109h1M487.5 103.5h1M477.5 106.5h1M497.5 118.5h1M485 107.5h1M489 111.5h1M481.5 109.5h1M476.5 108h1M484.5 106.5h1M487.5 107.5h1M478.5 112.5h1M495 116.5h1M488 115h1M475.5 103h1M475 118.5h1M483.5 109.5h1M491 112h1M483 104.5h1M496 115h1M488 111h1M493 91h1M477 106.5h1M498 94.5h1M493 109h1M492 115.5h1M470.5 111h1M485.5 110.5h1M469.5 106.5h1M492.5 104.5h1M480.5 103h1M482.5 116.5h1M496 112h1M490.5 112.5h1M468 119h1M496.5 111.5h1M493 107h1M485.5 109h1M481.5 108h1M490.5 87.5h1M488.5 107h1M487 88h1M478 114h1M483 118h1M486.5 117.5h1M483.5 118h1M466.5 112h1M496.5 94h1M489.5 107.5h1M481.5 109h1M484 114h1M494 115.5h1M475 112h1M448 91h1M486.5 111.5h1M488.5 114h1M490.5 105.5h1M496 118h1M483.5 109h1M485.5 117h1M480 110h1M493.5 111h1M482.5 117.5h1M487 96.5h1M489.5 113h1M490 91h1M490.5 84h1M487.5 115h1M483 107h1M476.5 118.5h1M480 119h1M478 118.5h1M440.5 84h1M494 109.5h1M488.5 110h1M473 105h1M468.5 106.5h1M485 112h1M482.5 116h1M490.5 101h1M489.5 110h1M496.5 113h1M491 108.5h1M485.5 92h1M483 114.5h1M497.5 116h1M474.5 114h1M490 84.5h1M486 106h1M479 105.5h1M499 103.5h1M496 114.5h1M444.5 110h1M485 118h1M487.5 104h1M471 113h1M492.5 114.5h1M476.5 112h1M479.5 112h1M483 105.5h1M466.5 112.5h1M487.5 109h1M447.5 119h1M490.5 111.5h1M480 117.5h1M474.5 110h1M483 119h1M474.5 118.5h1M492.5 110h1M491.5 94h1M489.5 112h1M473 114h1M465 109.5h1M444.5 102.5h1M485 107h1M496 119h1M475.5 108h1M487.5 117h1M478 118h1M485 116h1M475 113.5h1M471 115.5h1M478 117.5h1M474.5 119h1M484 108h1M475 105.5h1M493.5 114.5h1M495.5 105h1M488 109.5h1M474 103.5h1M483.5 101h1M476 108h1M493.5 108.5h1M484 109h1M483 112h1M480 116h1M495.5 110.5h1M492 118.5h1M487.5 112.5h1M461 105h1M471 115h1M481.5 106h1M498 115h1M478 117h1M484 107.5h1M492 119h1M491.5 113h1M467.5 107.5h1M487 115.5h1M464.5 102.5h1M487.5 113.5h1M495.5 85.5h1M493.5 119h1M495 111.5h1M490.5 113h1M481.5 111.5h1M484.5 115h1M487.5 106.5h1M492 111h1M489.5 116h1M484.5 111h1M473 115h1M476.5 114.5h1M501.5 108.5h1M485.5 102h1M474 118.5h1M471.5 116.5h1M480 106.5h1M479 116h1M492 112h1M462 115h1M475 106h1M489.5 112.5h1M478.5 95h1M481 115h1M457 103h1M475.5 110h1M476.5 105.5h1M497.5 111.5h1M496.5 107h1M483.5 102h1M479.5 106.5h1M489.5 87.5h1M481 109.5h1M488 117h1M482 117h1M482.5 103h1M470 113.5h1M489 118.5h1M474 111h1M478 119h1M473 110.5h1M492 117.5h1M479 108.5h1M492.5 116h1M460.5 113h1M492 109h1M482.5 97h1M487 110.5h1M485 106h1M482 112.5h1M483 108.5h1M494 106h1M490.5 104.5h1M489.5 84h1M492.5 112.5h1M473.5 116h1M481.5 105.5h1M474.5 114.5h1M481.5 106.5h1M440.5 109.5h1M477 109h1M496.5 87h1M481 118h1M444 117.5h1M492 107h1M476 109.5h1M480.5 111h1M477 107h1M474.5 105.5h1M476 112h1M491.5 118h1M474.5 106.5h1M474 109h1M472 116.5h1M486.5 115.5h1M477.5 114.5h1M469.5 107.5h1M486 91h1M494 117h1M481 116h1" stroke="#4e4e4e" stroke-width="1.05" fill="none"/><path d="M484.5 87.5h1M473.5 106.5h1M485.5 104.5h1M484 111.5h1M492 100.5h1M487 114.5h1M494 97h1M480.5 104h1M484.5 118.5h1M478.5 113h1M480.5 117.5h1M489 109h1M473 110h1M488 96.5h1M473 105.5h1M497 88.5h1M475.5 107h1M493 108h1M478 102h1M495.5 109h1M481 108.5h1M494.5 115h1M485 113h1M488.5 103h1M472.5 118h1M488 106h1M462 105.5h1M479 105h1M491.5 112.5h1M465.5 116h1M492 93.5h1M482.5 104.5h1M497.5 115h1M472.5 109h1M481 105.5h1M494.5 116.5h1M460.5 118h1M479.5 103.5h1M480.5 117h1M475.5 112.5h1M491 110.5h1M487 119h1M483 105h1M495.5 116h1M491 108h1M502 94h1M474 105.5h1M495 103h1M498.5 109.5h1M476.5 113h1M480.5 112.5h1M493 114h1M489 108.5h1M494.5 110.5h1M478.5 115h1M490.5 115.5h1M477.5 106h1M491.5 90.5h1M479 103.5h1M491.5 119h1M484 105.5h1M493.5 102.5h1M490 108h1M484 106.5h1M478.5 104.5h1M480 115.5h1M475 105h1M491 107.5h1M476 113.5h1M490 103h1M473.5 111.5h1M492.5 103h1M480.5 113.5h1M480.5 92h1M483.5 103.5h1M465 108.5h1M475 108h1M496.5 112.5h1M465.5 119h1M486 109.5h1M487.5 104.5h1M471 116h1M496 103.5h1M495 113h1M498.5 118h1M477 104h1M490.5 102.5h1M473 111.5h1M476 119h1M490.5 109.5h1M481 106h1M488.5 115.5h1M482.5 107.5h1M473.5 102h1M477 111.5h1M496 114h1M484.5 117h1M493.5 94h1M489.5 88h1M485.5 118.5h1M478 115h1M487.5 105h1M489 96h1M491.5 106h1M475 103.5h1M481 111.5h1M494 105h1M490 113h1M479 118.5h1M494.5 112.5h1M491 118.5h1M476.5 104.5h1M486.5 87h1M487.5 108h1M489 81.5h1M486.5 110h1M483.5 110h1M483.5 118.5h1M490.5 118h1M491 119h1M482.5 81h1M473.5 113h1M486 90h1M472.5 116.5h1M496 115.5h1M480 108h1M478 105h1M479 111h1M474 102h1M485.5 116.5h1M493.5 114h1M495 109.5h1M476.5 108h1M483.5 115h1M487 108.5h1M453 93h1M497 107.5h1M483.5 109.5h1M483 104.5h1M490.5 116h1M480 107.5h1M496.5 106h1M468 118.5h1M486.5 112h1M470.5 115h1M489.5 108h1M497 114h1M490 109.5h1M492 115.5h1M492.5 111h1M469.5 105.5h1M496 116.5h1M486 112.5h1M471.5 115.5h1M492.5 104.5h1M498.5 119h1M493.5 118.5h1M479.5 107h1M484 103.5h1M493 107h1M475 111h1M497.5 116.5h1M495 117.5h1M483 110.5h1M483.5 110.5h1M476.5 114h1M483 118h1M472.5 117h1M488 110.5h1M483.5 118h1M492 115h1M487.5 115.5h1M486 105.5h1M496 110.5h1M475 112h1M483 90h1M485.5 107h1M482 118h1M490 110.5h1M479.5 114.5h1M488 91h1M482.5 104h1M498 111.5h1M470 119.5h1M482.5 117.5h1M492.5 118h1M486 119h1M491 116h1M494.5 111.5h1M491 102h1M480.5 113h1M450 113.5h1M495.5 113h1M476 106.5h1M486.5 117h1M483 107h1M483 107.5h1M494 115h1M476.5 110h1M485.5 112.5h1M475.5 115.5h1M488 107.5h1M481 104.5h1M482 107.5h1M479 114.5h1M495 112.5h1M478.5 106h1M471.5 110.5h1M482.5 116h1M472.5 105.5h1M476.5 119h1M444.5 86h1M497 112h1M483.5 112.5h1M478.5 104h1M480.5 115.5h1M493 119h1M492.5 100h1M488.5 119h1M491.5 104.5h1M493.5 117.5h1M475.5 115h1M496 112.5h1M482.5 112.5h1M492 85.5h1M481.5 110h1M490.5 106h1M486.5 113.5h1M494 110.5h1M485 118h1M485.5 90.5h1M484 104.5h1M478 116.5h1M488.5 109.5h1M492 103.5h1M488 95.5h1M494 118h1M492 107.5h1M497 104h1M490.5 104h1M473.5 114h1M488 118.5h1M487.5 109h1M495 119h1M472 115h1M493.5 107h1M482 118.5h1M477.5 114h1M493.5 116h1M495.5 104.5h1M475.5 105h1M477 103.5h1M483 119h1M487 103.5h1M463 115.5h1M491.5 108h1M490 105.5h1M470.5 105.5h1M489.5 112h1M480 111.5h1M486.5 93.5h1M482 119h1M489 105h1M486 103h1M478 118h1M476.5 117.5h1M474.5 119h1M486 102h1M484 118h1M475 105.5h1M478 109h1M488 109.5h1M488.5 117.5h1M464.5 115.5h1M483 116.5h1M489 108h1M474 107.5h1M481 114h1M491.5 103.5h1M477.5 118.5h1M489.5 118h1M495.5 110.5h1M480.5 94h1M490.5 97h1M471.5 118.5h1M488 112h1M482 116.5h1M472.5 105h1M486 88.5h1M473 118.5h1M495 99.5h1M478.5 106.5h1M475.5 107.5h1M476.5 116h1M471 99h1M485.5 111.5h1M495 104h1M484 107.5h1M477 118.5h1M491.5 113h1M497 108.5h1M479 111.5h1M486 113h1M488.5 116h1M491 105h1M487.5 105.5h1M500.5 118h1M481 118.5h1M477.5 109.5h1M492 111h1M476.5 112.5h1M483 111.5h1M473.5 112h1M490.5 106.5h1M472 107h1M472 107.5h1M480 113.5h1M473 111h1M476 114h1M490 104h1M485 119h1M476 113h1M477 115h1M491.5 118.5h1M490 111.5h1M487 109.5h1M474.5 109h1M485.5 97h1M497 93.5h1M479.5 105.5h1M478 105.5h1M481 111h1M494.5 108h1M489.5 108.5h1M484 118.5h1M487 112h1M488.5 106.5h1M494 116.5h1M489 110h1M481.5 112.5h1M489 118.5h1M489.5 113.5h1M476 118.5h1M487.5 91.5h1M486.5 103.5h1M474 104.5h1M480.5 110h1M480.5 118.5h1M484.5 91h1M472 110h1M491 113h1M490 97h1M493.5 111.5h1M487 118h1M479 106.5h1M492.5 112.5h1M474.5 114.5h1M481.5 106.5h1M475.5 116.5h1M477.5 117h1M478.5 108h1M483.5 106.5h1M494.5 114h1M471.5 117h1M485 111.5h1M487.5 111.5h1M474 110.5h1M482 113.5h1M476 104.5h1M482.5 113h1M480.5 111h1M493.5 103h1M480.5 109.5h1M485.5 88h1M484.5 101.5h1M478 106h1M477 107.5h1M486 110.5h1M495.5 116.5h1M493 99h1M480.5 112h1M466 118.5h1M486.5 115.5h1M488.5 106h1M475.5 104h1M471 118.5h1M483 88h1M472.5 104.5h1M491.5 109h1M473 112.5h1M481 116h1" stroke="#5c5c5c" stroke-width="1.05" fill="none"/><path d="M489.5 98h1M489.5 106h1M491 115h1M473.5 106.5h1M487 112.5h1M484 111.5h1M498 119h1M491 111h1M471.5 113.5h1M477.5 105.5h1M491.5 107h1M496.5 112h1M475.5 107h1M480.5 109h1M477.5 119h1M487 113.5h1M495.5 109h1M468.5 117.5h1M464 119h1M484 117h1M485.5 105h1M463.5 96.5h1M485 113h1M488.5 103h1M487 105.5h1M494.5 111h1M495 105h1M476 107.5h1M481 105.5h1M485.5 108h1M494 106.5h1M478.5 118.5h1M496.5 117.5h1M493 103.5h1M491 91h1M474.5 111.5h1M484 108.5h1M479.5 113h1M486 110h1M490 105h1M486 118.5h1M476 114.5h1M477 101h1M495.5 112.5h1M496 108h1M495.5 114.5h1M460 113h1M482.5 94h1M472.5 114h1M490 98.5h1M496.5 116h1M484 105.5h1M480.5 108.5h1M484 106.5h1M461 112.5h1M491.5 93.5h1M499.5 116h1M486.5 107h1M475 110.5h1M466 107.5h1M464 111.5h1M484.5 111.5h1M488 103.5h1M497 115h1M488.5 89h1M486 109.5h1M487.5 104.5h1M471.5 105h1M481.5 114h1M469 115.5h1M498 102h1M490.5 111h1M493 115.5h1M473.5 103h1M474.5 103.5h1M482.5 107.5h1M491 114.5h1M477 111.5h1M478.5 110.5h1M492.5 85h1M481 104h1M480 104.5h1M490.5 112h1M484.5 117h1M478.5 118h1M493.5 108h1M478.5 117.5h1M486.5 87.5h1M466.5 107h1M487.5 105h1M490 114h1M495 95.5h1M446.5 107.5h1M479 118.5h1M473.5 103.5h1M478.5 90h1M471 108.5h1M491.5 104h1M457.5 114h1M488.5 102.5h1M493 109.5h1M484.5 112.5h1M489 106h1M471 106.5h1M485.5 115h1M489.5 104.5h1M472.5 116.5h1M485.5 111h1M486.5 119h1M485.5 109.5h1M472.5 112h1M492 113h1M480 109h1M478 110.5h1M481.5 111h1M483 115h1M469 110.5h1M479.5 108h1M488 95h1M483.5 115h1M487 108.5h1M496.5 91.5h1M469 118h1M483 109.5h1M487 86.5h1M490.5 116h1M486.5 116.5h1M496 111h1M480 107h1M494 114h1M492.5 115h1M489.5 108h1M482 104.5h1M482.5 109.5h1M492.5 102.5h1M485.5 110.5h1M490 109.5h1M492.5 111h1M492.5 109.5h1M492.5 104.5h1M476 116h1M486 114.5h1M478 103.5h1M480 114h1M479 118h1M490.5 114.5h1M481.5 110.5h1M490 112h1M481.5 108h1M485.5 90h1M498 106h1M488.5 107h1M490.5 108.5h1M483.5 110.5h1M486.5 104h1M491 111.5h1M476.5 114h1M486 113.5h1M485 110h1M473.5 104.5h1M487.5 110h1M479.5 119.5h1M488 110.5h1M491.5 106.5h1M475 116.5h1M486 106.5h1M475 112h1M488.5 114h1M490.5 105.5h1M492 104.5h1M467.5 113h1M488 91h1M482.5 104h1M485.5 116h1M479 107h1M490 118h1M492.5 108h1M492.5 118h1M486 119h1M472.5 112.5h1M491 116h1M480.5 113h1M482.5 97.5h1M490.5 119h1M495 116h1M489 106.5h1M498.5 106h1M472 113h1M496.5 80h1M494 115h1M486.5 116h1M476.5 110h1M479 101.5h1M500 96h1M446.5 118h1M464 105h1M485.5 112.5h1M493 113.5h1M453 104.5h1M456 86h1M484 115.5h1M492 110.5h1M482.5 107h1M475 109h1M477.5 108h1M490 107.5h1M482.5 116h1M477 105h1M486.5 112.5h1M481.5 114.5h1M467 112h1M469 119h1M491 108.5h1M478.5 104h1M493 119h1M475.5 115h1M489 94.5h1M486.5 108.5h1M475 107h1M475 117h1M476.5 109.5h1M479 105.5h1M478 109.5h1M482.5 112.5h1M475 116h1M486 99.5h1M481.5 110h1M495 105.5h1M490.5 106h1M482.5 114.5h1M484 111h1M481.5 118.5h1M492 103.5h1M485 117.5h1M481 108h1M484.5 103.5h1M487.5 117.5h1M497.5 112.5h1M490.5 104h1M484 92.5h1M496.5 115.5h1M481.5 119h1M480 104h1M493.5 116h1M490.5 111.5h1M477 103.5h1M480 117.5h1M489.5 116.5h1M483 119h1M487 103.5h1M482.5 106.5h1M489.5 92.5h1M475 108.5h1M493 106h1M485 107h1M478 104h1M475.5 108h1M487.5 117h1M471 115.5h1M478 117.5h1M481.5 116.5h1M480.5 105h1M473.5 110h1M495.5 105h1M481.5 112h1M487.5 101.5h1M493.5 108.5h1M477.5 110h1M484 90h1M477.5 115.5h1M475 119h1M483.5 91.5h1M482 116.5h1M494 86h1M494 114.5h1M489.5 109h1M478 116h1M440 110.5h1M492.5 112h1M492 119h1M445 85h1M491.5 113h1M471.5 119h1M487 115.5h1M481.5 117.5h1M473.5 109.5h1M476 103.5h1M475.5 114h1M475 101h1M470 107h1M480.5 103.5h1M477.5 111h1M488 104h1M495.5 107.5h1M472 107h1M476.5 114.5h1M497.5 106h1M474 110h1M485 119h1M474 118.5h1M476 113h1M491 103h1M479.5 108.5h1M480 106.5h1M472.5 103.5h1M482 109h1M495.5 114h1M481.5 117h1M487 102.5h1M463 109h1M493 108.5h1M474.5 109h1M471 108h1M472 119.5h1M476.5 113.5h1M498 118h1M476.5 106.5h1M493 100.5h1M478 106.5h1M481 111h1M489.5 108.5h1M493 106.5h1M474.5 107h1M489 110h1M485.5 108.5h1M485 91.5h1M494 112h1M474 104.5h1M471.5 117.5h1M500 104.5h1M495.5 110h1M492 109h1M484.5 109h1M490 97h1M491.5 116.5h1M477 118h1M487 118h1M481.5 113.5h1M474.5 112.5h1M490.5 104.5h1M491.5 112h1M465.5 115h1M480.5 119h1M471 114h1M483 113.5h1M461.5 115h1M477 109h1M476 115h1M494 104h1M484.5 107h1M441.5 90.5h1M478.5 108h1M490 108.5h1M476 111h1M471.5 117h1M476 109.5h1M496.5 118.5h1M474 110.5h1M465 119h1M480.5 111h1M486 105h1M474 118h1M482 106.5h1M477 107h1M480.5 116.5h1M487 117h1M490 106.5h1M472.5 115h1M495.5 112h1M477.5 114.5h1M469.5 107.5h1M472.5 109.5h1M490.5 108h1M472.5 104.5h1M483.5 88h1M497 103h1M444.5 101h1" stroke="#404040" stroke-width="1.05" fill="none"/><path d="M494 102h1M477.5 113.5h1M489 118h1M481.5 96.5h1M489 117.5h1M489.5 104h1M484.5 110h1M480.5 118h1M496.5 112h1M493.5 113h1M495.5 118h1M480.5 117.5h1M487.5 88.5h1M486 107.5h1M476 109h1M481 114.5h1M488 96.5h1M475 115.5h1M494 108.5h1M490.5 93h1M484.5 119h1M494.5 115h1M487.5 113h1M496 104.5h1M488 99.5h1M494.5 109.5h1M489 107h1M494 113.5h1M494.5 104.5h1M497 113h1M491.5 114.5h1M445 84.5h1M485.5 108h1M480.5 107h1M479.5 103.5h1M496.5 117.5h1M491 110.5h1M479 108h1M479.5 88.5h1M494.5 112h1M475 115h1M472 117h1M493 103.5h1M479 103h1M488.5 88.5h1M475 104.5h1M486.5 108h1M481 84h1M461.5 112.5h1M492 91.5h1M491.5 105.5h1M479.5 113h1M479.5 86.5h1M486 118.5h1M495.5 112.5h1M490.5 110h1M474 119h1M490.5 118.5h1M493 113h1M482.5 110.5h1M498.5 92.5h1M488.5 113h1M485.5 107.5h1M492 106h1M482.5 108h1M496.5 116h1M487.5 94.5h1M480 115.5h1M489 105.5h1M484.5 104h1M494.5 109h1M478.5 112h1M488 97h1M459 105.5h1M491 114h1M479 113h1M479.5 115.5h1M465.5 119h1M486 111h1M491 101.5h1M498 117h1M471 102h1M489 119h1M493 118.5h1M487 104h1M490.5 109.5h1M486 116.5h1M473.5 102h1M490.5 116.5h1M498.5 109h1M493.5 110.5h1M478.5 117.5h1M485.5 110h1M479.5 115h1M489 96h1M495.5 88h1M494 105h1M490 113h1M479.5 111h1M491 110h1M478.5 109h1M497.5 114h1M484.5 112.5h1M485.5 111h1M485.5 109.5h1M490.5 90h1M490 118.5h1M474.5 115.5h1M473 108.5h1M485 107.5h1M473 113.5h1M478 108h1M485.5 112h1M495 104.5h1M487.5 107.5h1M478.5 112.5h1M489.5 105h1M473 106.5h1M483.5 109.5h1M483.5 104.5h1M495.5 111.5h1M488 102.5h1M473.5 115.5h1M487.5 114h1M486.5 112h1M469.5 100.5h1M482 109.5h1M490 102.5h1M490 111h1M489.5 89.5h1M492 115.5h1M501 94.5h1M471.5 115.5h1M494.5 101h1M479 110.5h1M496 112h1M486 114.5h1M493.5 118.5h1M479.5 107h1M490 116.5h1M479.5 107.5h1M487 89h1M490.5 114.5h1M471 106h1M483 110.5h1M470 103.5h1M478.5 119h1M479.5 114h1M488 110.5h1M495 109h1M490.5 113.5h1M486.5 111.5h1M477.5 99h1M472 103.5h1M483 109h1M474.5 110.5h1M483.5 109h1M482.5 118h1M474.5 108h1M485.5 116h1M489 86.5h1M495 107h1M490 109h1M493.5 112h1M483 107.5h1M476.5 118.5h1M478 118.5h1M490.5 93.5h1M484.5 105h1M493 113.5h1M485.5 114.5h1M479 112.5h1M482 107h1M485 116.5h1M492 110.5h1M482.5 107h1M475 109h1M482.5 117h1M485 112h1M490 107h1M482.5 116h1M492.5 107h1M479.5 119h1M481.5 114.5h1M489.5 110h1M471.5 118h1M469 119h1M480 116.5h1M483.5 114.5h1M496 112.5h1M475 107h1M477 108h1M478 111h1M476.5 109.5h1M473.5 107.5h1M489 95h1M482.5 114.5h1M481.5 118.5h1M496 87.5h1M483 92h1M476.5 116.5h1M479.5 116.5h1M471 113h1M487.5 117.5h1M476.5 112h1M479.5 112h1M486.5 106.5h1M492 107.5h1M479 119h1M471.5 107h1M489.5 109.5h1M486 111.5h1M448.5 103h1M491 93.5h1M474.5 110h1M480 117.5h1M453 85.5h1M472 104.5h1M490 105.5h1M502.5 93.5h1M470.5 105.5h1M489.5 112h1M475 108.5h1M480 111.5h1M485 107h1M487.5 107h1M481 103.5h1M478 104h1M476.5 118h1M487.5 116h1M477 114h1M487 114h1M484 118h1M473.5 110h1M481.5 112h1M483 116.5h1M489.5 110.5h1M476 108h1M494 119.5h1M470 117.5h1M483.5 112h1M500.5 92.5h1M480.5 108h1M464 115.5h1M472 110.5h1M491 106h1M488 112h1M491 99.5h1M494 114.5h1M476.5 107h1M491.5 114h1M483.5 98h1M492.5 112h1M485.5 97.5h1M477 118.5h1M493 117h1M497 108.5h1M465 117.5h1M485 113.5h1M487.5 113.5h1M476 103.5h1M496.5 110.5h1M495 111.5h1M494 110h1M480.5 103.5h1M496.5 108h1M481 118.5h1M488 104h1M484.5 109.5h1M483.5 111.5h1M489 114h1M473 109.5h1M488 109h1M480.5 114h1M438.5 100.5h1M471.5 112h1M477 109.5h1M489.5 112.5h1M474.5 109h1M476.5 113.5h1M479.5 113.5h1M469 113.5h1M477 116.5h1M479.5 105.5h1M496.5 107h1M496.5 107.5h1M494.5 108h1M489.5 108.5h1M488 102h1M477.5 110.5h1M467.5 118.5h1M494.5 103h1M488.5 106.5h1M481 116.5h1M474.5 117h1M489 118.5h1M484.5 108h1M474 111h1M476 110h1M490 116h1M473 110.5h1M492 117.5h1M489.5 105.5h1M494 91.5h1M491.5 109.5h1M477.5 109h1M472 110h1M484.5 109h1M487 110.5h1M488 114.5h1M486 104.5h1M487 118h1M469.5 110.5h1M474.5 112.5h1M473.5 117h1M480.5 119h1M473.5 116h1M478 101h1M481.5 106.5h1M494.5 93h1M481 118h1M497.5 103.5h1M492 117h1M494 117.5h1M483.5 106.5h1M484 112h1M480.5 109.5h1M495.5 109.5h1M496 106.5h1M497 105h1M493.5 102h1M492.5 113.5h1M487 117h1M472.5 115h1M492.5 106.5h1M480.5 112h1M483 93.5h1M477.5 114.5h1M488.5 106h1M475 113h1M484.5 114.5h1M488.5 99.5h1M481 107h1" stroke="#6a6a6a" stroke-width="1.05" fill="none"/>
<path d="M467.6 54.7V120.3M431.6 98.0H504.0" stroke="#1e1e1e" stroke-width="1.3" fill="none"/>
<path d="M431.6 132.5H503.7V199.4" fill="none" stroke="#d2d2d2" stroke-width="1"/>
<path d="M431.6 132.5V199.4H503.7" fill="none" stroke="#bdbdbd" stroke-width="1"/>
<path d="M426.0 131.6l1.6 1.4M426.0 153.0l1.6 1.4M426.0 175.1l1.6 1.4M426.0 196.5l1.6 1.4M452.8 203.0l1.6 -1.4M477.3 203.0l1.6 -1.4M500.3 203.0l1.6 -1.4" stroke="#b8b8b8" stroke-width="0.8"/>
<path d="M427.7 133.8h1.8M427.7 155.2h1.8M427.7 177.3h1.8M427.7 198.7h1.8M454.6 201.6h1.8M479.1 201.6h1.8M502.1 201.6h1.8" stroke="#7a7a7a" stroke-width="1.5"/>
<path d="M463.1 204.6h9" stroke="#9a9a9a" stroke-width="1.6" stroke-dasharray="2 0.6"/>
<path d="M425.8 160.9v10" stroke="#a8a8a8" stroke-width="1.5" stroke-dasharray="2 0.6"/>
<path d="M469 162.5h1M479.5 196h1M482 190h1M477.5 179.5h1M465.5 161.5h1M446 169.5h1M476 165.5h1M451 165h1M455.5 163.5h1M457 164.5h1M433 159.5h1M450.5 161h1M457.5 160.5h1M482.5 190h1M467.5 166.5h1M450.5 166h1M495.5 184.5h1M479 186.5h1M493 179.5h1M458.5 172h1M435.5 165.5h1M466 165h1M495.5 169h1M450 163h1M459 173h1M444 163.5h1M473 165h1M447 162h1M472 157.5h1M461 158.5h1M495.5 191.5h1M494 192h1M495 198h1M495.5 179h1M466 175.5h1M495 193h1M492.5 184.5h1M451 160h1M457 158h1M456 170.5h1M478.5 190h1M493.5 169.5h1M477.5 182h1M456 168h1M470.5 168.5h1M456 164.5h1M473.5 180.5h1M470.5 167h1M451 163h1M475.5 181.5h1M471.5 165.5h1M453.5 166h1M495.5 166.5h1M462 165h1M493 184h1M463 155.5h1M472.5 169h1M496.5 190.5h1M453.5 161.5h1M461 165.5h1M474.5 166.5h1M498 169h1M454 161.5h1M491.5 191.5h1M493 191h1M492 195.5h1M465.5 167h1M457.5 167h1M462 160h1M471 166h1M449.5 169h1M462 172.5h1M496.5 184.5h1M465.5 168h1M472 167.5h1M476 189h1M474.5 167.5h1M456.5 162.5h1M456.5 165h1M451.5 167h1M452.5 157.5h1M474 164.5h1M462 163h1M448 159h1M440 166.5h1M448.5 158h1M460.5 165.5h1M449 162.5h1M495.5 171.5h1M449 165h1M466.5 165h1M465.5 158h1M442 165h1M452.5 165.5h1M448 165h1M483.5 162.5h1M452.5 166h1M497.5 197h1M495 189.5h1M445 163.5h1M454.5 165.5h1M470 165h1M453 165.5h1M454.5 166h1M460.5 161.5h1M444 182h1M464 169h1M472.5 169.5h1M469 165.5h1M478 196.5h1M493.5 190h1M492 173h1M473.5 166.5h1M465 171.5h1M450 166.5h1M491.5 194.5h1M478.5 182.5h1M476 172.5h1M499.5 164h1M477.5 160.5h1M495.5 174.5h1M464 161.5h1M479.5 180.5h1M449 163h1M494.5 170h1M458 166h1M479.5 183h1M452 170.5h1M472.5 168.5h1M467 166.5h1M458.5 166.5h1M464 166.5h1M453 171h1M477 185.5h1M460 161.5h1M461 164h1M496.5 178.5h1M494 171h1M452.5 169.5h1M495.5 187h1M495.5 186.5h1M465 162.5h1M465 165h1M436.5 162.5h1M457 161.5h1M453 169.5h1M436.5 165h1M494.5 185.5h1M479.5 190h1M494 190.5h1M477 166h1M462 165.5h1M457.5 165h1M492.5 186.5h1M495.5 197.5h1M443.5 161.5h1M444 180h1M455.5 166h1M456 166h1M455 170h1M460 169.5h1M479.5 159.5h1M451.5 162.5h1M451.5 165h1M465 162h1M479 166h1M450 159h1M465.5 160h1M477.5 191.5h1M464.5 160.5h1M493.5 192h1M433 170h1M494 167h1M458.5 168.5h1M495 173h1M460 157.5h1M457.5 156h1M480.5 165h1M458 157.5h1M444.5 163h1M433.5 165.5h1M454.5 160.5h1M458.5 168h1M476 197h1M450 158h1M453 177h1M462.5 161h1M462 171h1M454.5 166.5h1M496.5 172.5h1M456 171h1M500.5 187h1M444.5 196.5h1M455 159.5h1M449 165.5h1M470 169h1M474.5 162.5h1M449 166h1M496.5 187h1M478 187.5h1M457 168.5h1M459.5 168.5h1M455 164h1M495.5 189.5h1M453.5 165h1M453 167.5h1M459 162h1M439 163.5h1M447.5 166.5h1M496 180h1M494 198h1M442 160.5h1M443.5 159.5h1M491.5 168.5h1M458 166.5h1M480.5 166h1M456.5 158.5h1M497.5 158.5h1M478 178.5h1M437.5 169.5h1M467 163.5h1M486 163h1M464 163.5h1M472 165.5h1M495 188.5h1M462 164h1M481.5 190h1M460.5 164.5h1M449.5 165h1M477.5 188h1M479.5 168h1M480 187h1M480.5 192.5h1M496 180.5h1M460.5 162.5h1M465.5 157.5h1M467.5 169h1M452.5 162.5h1M461 163h1M448.5 168.5h1M472.5 163h1M468 158.5h1M462.5 168.5h1M493.5 165.5h1M469.5 166.5h1M456.5 164h1M457 171.5h1" stroke="#5c5c5c" stroke-width="1.05" fill="none"/><path d="M462.5 164h1M460.5 160h1M476 180h1M458.5 162.5h1M476 169h1M457 159.5h1M449 168h1M452 161.5h1M466 168h1M467 176.5h1M465.5 161.5h1M444.5 166.5h1M439 162h1M457 164.5h1M434.5 160h1M488.5 158h1M494 172.5h1M473 162.5h1M477.5 187h1M459 165.5h1M441 162.5h1M496 159.5h1M481 192h1M499 182h1M482.5 171.5h1M496 167h1M494.5 188h1M440.5 171h1M495 193h1M493 187h1M492.5 178h1M493.5 169.5h1M458 172.5h1M451 162h1M439.5 166.5h1M478.5 188.5h1M443.5 162.5h1M462.5 163.5h1M470.5 159.5h1M496.5 183h1M453.5 168.5h1M470 160h1M469.5 168h1M458 163.5h1M449 163.5h1M471.5 165.5h1M438 162.5h1M462 165h1M442 163.5h1M460.5 158.5h1M450.5 167.5h1M461.5 169.5h1M481.5 170.5h1M470 163.5h1M500 193h1M452.5 171h1M479.5 193.5h1M496 198.5h1M435 170h1M494.5 175.5h1M454.5 162.5h1M433 163.5h1M480 161h1M452 167h1M465.5 159.5h1M457.5 174h1M444 165h1M445.5 169h1M496 172.5h1M456.5 164.5h1M476.5 194.5h1M483.5 188h1M468.5 166.5h1M442 170.5h1M448 170.5h1M480.5 190h1M480.5 188.5h1M461 161.5h1M494.5 187h1M493 181h1M464 170h1M473.5 157.5h1M496.5 189h1M455.5 156h1M481.5 165h1M448 164.5h1M450.5 159.5h1M447.5 165h1M493.5 166.5h1M476 164h1M440.5 166.5h1M458 162.5h1M455.5 163h1M494 189.5h1M450 173h1M470.5 163.5h1M464.5 166h1M442 162.5h1M479.5 169h1M476.5 195h1M445.5 166.5h1M495 187h1M463.5 171.5h1M454.5 161h1M461 167.5h1M444 163h1M454.5 166h1M478.5 183.5h1M468 168h1M442.5 158h1M464 168.5h1M463 167h1M483 160h1M481 197.5h1M458.5 166h1M457.5 162h1M464 166h1M498.5 194.5h1M460 169h1M499 192.5h1M481.5 182h1M435 158h1M496 179.5h1M458 163h1M494 183h1M475 162h1M440.5 182.5h1M458.5 160.5h1M464 160.5h1M466 165.5h1M469 177h1M460.5 167.5h1M473 161h1M494.5 170h1M496.5 193h1M451 161.5h1M434 167h1M445 159h1M452.5 167.5h1M482 196h1M481 183h1M459.5 163h1M468 160h1M444 170h1M498.5 162h1M480.5 163.5h1M495.5 193h1M459 163.5h1M497 187.5h1M477 179h1M436.5 162.5h1M494 167.5h1M478 169.5h1M480.5 186h1M447 169.5h1M470.5 160h1M447.5 171h1M467.5 162.5h1M463.5 162h1M479 184.5h1M494.5 195h1M477.5 188.5h1M461.5 159h1M452.5 170.5h1M458 170h1M456 161h1M469.5 169h1M484.5 190h1M478 189h1M456 166h1M437 167h1M480 187.5h1M494.5 175h1M464.5 164h1M476.5 191.5h1M467 157.5h1M473 167.5h1M461 160h1M498.5 191h1M451.5 165h1M452.5 164h1M493.5 172.5h1M479.5 181.5h1M481 179h1M465.5 160h1M450.5 165h1M479.5 164h1M439.5 165h1M499.5 188h1M468.5 171.5h1M498 167.5h1M480.5 162.5h1M461 157h1M458.5 167h1M475 172h1M467 164h1M497.5 163h1M491.5 170h1M481.5 173h1M452 163h1M437.5 161.5h1M451 164h1M460 167h1M466 159.5h1M480 182.5h1M466.5 163h1M465 152.5h1M463.5 162.5h1M494 185h1M467 174.5h1M495.5 172h1M455 164h1M447.5 160.5h1M470 165.5h1M473 168h1M453.5 162.5h1M460.5 163.5h1M445.5 171.5h1M460 160.5h1M472.5 164.5h1M475 165.5h1M489.5 168.5h1M476 197.5h1M457 160.5h1M477.5 193h1M472.5 162.5h1M487 168.5h1M461 165h1M497.5 170h1M471.5 172h1M496 166h1M448.5 170h1M462 159.5h1M482.5 195h1M467 163.5h1M483 192.5h1M478.5 190.5h1M460 167.5h1M456 159.5h1M463.5 154h1M464.5 167h1M456.5 169.5h1M462 168h1M463.5 161h1M453.5 162h1M438.5 164.5h1M466.5 170h1M469.5 168.5h1M462 164h1M449.5 165h1M489 158.5h1M444 159.5h1M438 159h1M475 170h1M453.5 163h1M464 171.5h1M465 169h1M493.5 187h1M498.5 192.5h1M480 187h1M453 164.5h1M493 171.5h1M495 191.5h1M473.5 165h1M492.5 196.5h1M437 162.5h1M493 170.5h1M481.5 159.5h1M452.5 165h1M444.5 161h1M453 162.5h1M498.5 190.5h1" stroke="#4e4e4e" stroke-width="1.05" fill="none"/><path d="M494 165h1M463 158.5h1M458.5 162.5h1M448.5 161.5h1M476.5 196h1M480.5 185.5h1M460 159h1M496.5 180h1M459.5 159.5h1M460.5 162h1M467.5 160.5h1M469.5 167.5h1M464.5 162h1M459.5 167h1M461.5 166h1M457.5 160.5h1M474 168h1M478 160h1M435.5 169h1M495 174.5h1M450.5 165.5h1M459.5 164h1M455.5 157h1M477.5 189.5h1M439 163h1M497.5 187.5h1M486 157.5h1M482 189h1M480 193.5h1M476 161.5h1M495.5 191.5h1M494.5 188h1M442.5 160.5h1M457 165h1M496 167h1M480.5 175h1M478 186h1M479 186h1M496 168h1M456 170.5h1M481.5 193h1M494.5 174h1M458 172h1M459.5 158h1M479 182.5h1M480 179.5h1M482.5 167h1M445.5 158.5h1M497 179h1M451 162h1M501 191h1M468.5 169h1M463 166h1M440.5 169.5h1M455.5 164.5h1M498.5 185h1M492.5 191.5h1M457 160h1M482 160.5h1M475 167.5h1M445 168.5h1M478.5 189h1M497.5 188h1M457 162h1M494.5 162.5h1M474.5 160.5h1M477.5 191h1M463.5 166.5h1M494.5 179.5h1M456.5 167h1M469.5 165h1M496.5 169.5h1M484 164.5h1M495 194h1M495.5 167.5h1M448.5 164h1M478 179.5h1M480.5 178.5h1M446 172.5h1M480 196.5h1M454 180.5h1M462 162h1M497 170h1M471 161.5h1M493.5 185h1M476 167h1M464.5 169h1M496.5 173h1M481 197h1M479 187h1M459.5 164.5h1M445.5 160.5h1M467.5 158h1M495.5 171.5h1M450.5 164h1M491 189.5h1M494 189.5h1M496.5 164h1M464.5 166h1M488 164.5h1M437 166h1M456.5 160h1M462.5 172h1M444 161h1M493 185.5h1M483.5 176.5h1M495 192h1M495.5 168h1M458.5 169h1M497 189h1M482 164.5h1M463.5 159.5h1M444.5 163.5h1M498.5 157.5h1M466.5 160h1M472 168h1M469 166h1M458.5 161h1M465 173.5h1M493.5 188.5h1M459.5 172h1M467.5 157h1M499 180.5h1M436.5 171.5h1M495 197.5h1M443 160.5h1M480 184.5h1M460.5 171h1M481.5 184h1M467 160.5h1M479.5 180.5h1M449 163h1M478 195.5h1M440.5 171.5h1M479 195.5h1M451.5 163.5h1M489 186h1M465 164.5h1M450 167.5h1M441 165.5h1M492 185h1M488.5 161.5h1M470 163h1M497 166.5h1M472.5 164h1M481.5 194h1M480.5 192h1M478.5 159h1M466 161.5h1M496 187h1M499 188.5h1M445 165h1M440.5 164.5h1M448.5 159h1M452 159h1M436.5 162.5h1M445.5 167h1M461.5 170.5h1M479.5 190.5h1M444.5 162.5h1M458.5 167.5h1M440 162.5h1M467.5 165h1M480 185h1M442.5 168h1M464.5 168.5h1M495.5 197.5h1M478 189h1M493 190h1M460.5 164h1M437 167h1M481 157.5h1M455 167.5h1M481 180h1M434 160h1M454 162h1M479.5 168.5h1M479.5 191.5h1M452.5 168h1M484 185.5h1M480 198h1M492.5 173.5h1M465.5 160h1M459 159h1M487 166.5h1M454.5 164h1M461 162h1M450.5 194.5h1M477.5 167h1M477 187.5h1M496 183h1M467 167h1M460 157.5h1M494.5 177h1M464 167h1M450 165h1M465.5 162h1M444.5 163h1M484 165.5h1M499 174.5h1M458.5 168h1M444 160.5h1M447.5 168.5h1M494.5 180.5h1M447.5 173h1M442.5 160h1M497 168h1M451 167h1M450.5 160h1M472 162.5h1M443 165h1M476 187h1M478 180.5h1M457.5 166h1M479 180.5h1M456.5 161.5h1M442 161h1M450 160h1M479 187.5h1M433.5 156.5h1M450 172.5h1M448 166h1M452.5 160h1M480.5 189.5h1M470.5 158.5h1M468.5 162.5h1M457 164h1M471.5 165h1M444 167.5h1M459 162h1M496.5 186h1M458 160.5h1M478.5 183h1M477 189h1M496 180h1M437 157h1M482.5 184.5h1M448 160.5h1M495.5 195h1M466 166.5h1M483 177h1M476.5 188.5h1M480.5 182h1M463 156h1M495.5 163h1M482 161h1M482.5 195h1M481 188.5h1M443 163h1M494.5 168.5h1M481.5 190.5h1M454 189.5h1M497.5 169.5h1M455.5 167h1M453 170.5h1M448 170h1M464.5 164.5h1M493.5 172h1M494 171.5h1M479 191.5h1M477 185h1M453.5 163h1M497 182h1M439 159h1M471.5 163h1M470 167.5h1M460 157h1M446 161.5h1M496.5 181h1M480.5 192.5h1M473 163.5h1M485 159h1M473.5 162.5h1M454 165.5h1M498 160h1M457.5 157.5h1M446 166.5h1M492.5 161.5h1M498.5 170h1M497.5 191.5h1M447.5 159.5h1M495.5 170h1M477.5 193.5h1M465.5 165.5h1M465.5 166h1M451 164.5h1" stroke="#6a6a6a" stroke-width="1.05" fill="none"/><path d="M477.5 162.5h1M460 168h1M463 171h1M491.5 188.5h1M464 162.5h1M456 167.5h1M496 174.5h1M494.5 186.5h1M446.5 173h1M479.5 160h1M457 168h1M451.5 166h1M474 168h1M435.5 169h1M481 196h1M474.5 169.5h1M494 197h1M491.5 189h1M456 151.5h1M489 161.5h1M498.5 168.5h1M457.5 166.5h1M496.5 166h1M444 163.5h1M472 157.5h1M466.5 166.5h1M459 165.5h1M475 160.5h1M451.5 160.5h1M442 166.5h1M461.5 152h1M480.5 164h1M437 197.5h1M451 160h1M469.5 171.5h1M481 186h1M494 163h1M446 167h1M446 168h1M468 161.5h1M477 162.5h1M476 187.5h1M456 164.5h1M442.5 171h1M493.5 184.5h1M451 163h1M449 163.5h1M497 175h1M461 157.5h1M473 162h1M495.5 166.5h1M463.5 161.5h1M460 163h1M465 168.5h1M466.5 151.5h1M450.5 167.5h1M479 164.5h1M455.5 162.5h1M463 160.5h1M438.5 170h1M474 163.5h1M472 166.5h1M475.5 159h1M478.5 159.5h1M467.5 170.5h1M450.5 169.5h1M454.5 162.5h1M484 168h1M477.5 195.5h1M444 165h1M473.5 169.5h1M491.5 183.5h1M454 160.5h1M459.5 173.5h1M452 164h1M477 192h1M496 186.5h1M462.5 168h1M456 172h1M434 161.5h1M445.5 165.5h1M481 194.5h1M498.5 186h1M495 165h1M449.5 161h1M449.5 165.5h1M443 169.5h1M495.5 188.5h1M442 168h1M476 168.5h1M483 194h1M475.5 160h1M476 167h1M488.5 162.5h1M478 189.5h1M459.5 164.5h1M449.5 161.5h1M496 170.5h1M441.5 162h1M475.5 163.5h1M495 189.5h1M479.5 179h1M466.5 158h1M468 159.5h1M477.5 180h1M444 163h1M445 163.5h1M444 161h1M453 165.5h1M478.5 186.5h1M479 176h1M436.5 183.5h1M484 162h1M462.5 172.5h1M456.5 162h1M453.5 189h1M452 163.5h1M443.5 171h1M492 173h1M458.5 166h1M463 164h1M483 192h1M462 177.5h1M494 161.5h1M478.5 182.5h1M462 158.5h1M483.5 192h1M455.5 171h1M476 186.5h1M435 187.5h1M458.5 160.5h1M460.5 167.5h1M461.5 157h1M450 167.5h1M465 164.5h1M457 165.5h1M498 168.5h1M436 162.5h1M452 164.5h1M452.5 169.5h1M433 163h1M480 164h1M473 161.5h1M452 159h1M495 170h1M471.5 187.5h1M458.5 167.5h1M472 162h1M491 169.5h1M472 163.5h1M439.5 170.5h1M455.5 169h1M461.5 168h1M450 171.5h1M495 190.5h1M463 163.5h1M468 173.5h1M434.5 178.5h1M476 194h1M454 160h1M461.5 159h1M455 171h1M455.5 165.5h1M473 170h1M472 184h1M446.5 162.5h1M469.5 165.5h1M461.5 165h1M441 167.5h1M493.5 172.5h1M493.5 198h1M484.5 157.5h1M493 184.5h1M465.5 160h1M495 169h1M461 162h1M441 169.5h1M481.5 195h1M460 157.5h1M460.5 166.5h1M454.5 161.5h1M461.5 172h1M495 175h1M468 165h1M448.5 166h1M467.5 165.5h1M432.5 163h1M478.5 196.5h1M480 182.5h1M455 168.5h1M483.5 169h1M480.5 197h1M499 198h1M459.5 169h1M456.5 161.5h1M495 185h1M446.5 161h1M453.5 162.5h1M476 163h1M471.5 162.5h1M486 172h1M451 166.5h1M454 162.5h1M447 167.5h1M496.5 176h1M448 161.5h1M482.5 185.5h1M495 167.5h1M466 158h1M473 166.5h1M480 165h1M474 166.5h1M481 178.5h1M439 170.5h1M457.5 170h1M454.5 171.5h1M493 155h1M462 168h1M462 164h1M445.5 165h1M491 171.5h1M483 167.5h1M468.5 163h1M470 167.5h1M453 164.5h1M472.5 162h1M460.5 162.5h1M478.5 195h1M454 166h1M464.5 165h1M465 166h1M481 164h1M482 192.5h1M494 194h1M461 163h1M459 170h1M461 161h1M475.5 160.5h1M466 171.5h1M493.5 176h1M462.5 168.5h1M481.5 181.5h1" stroke="#404040" stroke-width="1.05" fill="none"/>
<path d="M467.1 133.7V199.4M431.6 176.7H503.7" stroke="#1e1e1e" stroke-width="1.3" fill="none"/>
<path d="M431.6 210.4H503.9V277.9" fill="none" stroke="#d2d2d2" stroke-width="1"/>
<path d="M431.6 210.4V277.9H503.9" fill="none" stroke="#bdbdbd" stroke-width="1"/>
<path d="M426.0 209.6l1.6 1.4M426.0 231.2l1.6 1.4M426.0 253.4l1.6 1.4M426.0 275.0l1.6 1.4M452.8 281.5l1.6 -1.4M477.4 281.5l1.6 -1.4M500.5 281.5l1.6 -1.4" stroke="#b8b8b8" stroke-width="0.8"/>
<path d="M427.7 211.8h1.8M427.7 233.3h1.8M427.7 255.6h1.8M427.7 277.2h1.8M454.6 280.1h1.8M479.2 280.1h1.8M502.3 280.1h1.8" stroke="#7a7a7a" stroke-width="1.5"/>
<path d="M463.2 283.1h9" stroke="#9a9a9a" stroke-width="1.6" stroke-dasharray="2 0.6"/>
<path d="M425.8 239.1v10" stroke="#a8a8a8" stroke-width="1.5" stroke-dasharray="2 0.6"/>
<path d="M439.5 273h1M467 239.5h1M483 250h1M471 275h1M458.5 234h1M452.5 248.5h1M448.5 252.5h1M446 241.5h1M464.5 238h1M466.5 244.5h1M488.5 248.5h1M453 251h1M472.5 257h1M452.5 242.5h1M455.5 247h1M472 269h1M477 276.5h1M476.5 271h1M475.5 247h1M453.5 246.5h1M467.5 262.5h1M445.5 261h1M476 266.5h1M470.5 254h1M444.5 240h1M477 238h1M474 262h1M472.5 256.5h1M472 262.5h1M472 266.5h1M452.5 270.5h1M452.5 249h1M455 247.5h1M446 239.5h1M485.5 263h1M469.5 271.5h1M488.5 266h1M462 250.5h1M455.5 255.5h1M440.5 246h1M479.5 268h1M454.5 249.5h1M477.5 264h1M469 270h1M496 265.5h1M470 266h1M460.5 239h1M465 271h1M474.5 272h1M472.5 252.5h1M475.5 276.5h1M480.5 246h1M492 265h1M476 262h1M459.5 243h1M476.5 273.5h1M471.5 265h1M441.5 251h1M475 257h1M455.5 253h1M452 251.5h1M450.5 235h1M456.5 242.5h1M446.5 245h1M457.5 242.5h1M439 238.5h1M493 244.5h1M490.5 252h1M473 269h1M475 263h1M467 238.5h1M474 264h1M489 243h1M469 275h1M467 264.5h1M459 267h1M474 265h1M455 246h1M451.5 236.5h1M474.5 268h1M475.5 264h1M468.5 267h1M454 243h1M457.5 252.5h1M494 248.5h1M445.5 240.5h1M475 270.5h1M439.5 245h1M460.5 238h1M473.5 251h1M499 251h1M445 245.5h1M474 269h1M493.5 273h1M459 237h1M476 264h1M477.5 266h1M473.5 253.5h1M471.5 266h1M493 264.5h1M488.5 264.5h1M469.5 267.5h1M471.5 270h1M474 262.5h1M469 263.5h1M443.5 245h1M489.5 264.5h1M468.5 272.5h1M487.5 269.5h1M472.5 272.5h1M490 257.5h1M481 251.5h1M470.5 257.5h1M470 257h1M491.5 271h1M477 255.5h1M471.5 273.5h1M494.5 267h1M460 245h1M461.5 277h1M438.5 233.5h1M442 238h1M459.5 251.5h1M490.5 267.5h1M446 248.5h1M438 275.5h1M489.5 258h1M474 260.5h1M474.5 254h1M455.5 236.5h1M439.5 246h1M472.5 260h1M473.5 257.5h1M470 263h1M476.5 269.5h1M443.5 252.5h1M458 248h1M452 248.5h1M476 271h1M438.5 243.5h1M478.5 261.5h1M472.5 277h1M474.5 264.5h1M490.5 260.5h1M491.5 255.5h1M469 270.5h1M445 240.5h1M488 247.5h1M496.5 265.5h1M468 252h1M460 249h1M469.5 237.5h1M475.5 255.5h1M436.5 243h1M474.5 257h1M470 270.5h1M450 246h1M470 268.5h1M469.5 259.5h1M460.5 239.5h1M443 251h1M490.5 261.5h1M448 248h1M449 239h1M479.5 262h1M468 249.5h1M469 262h1M445 246.5h1M482 248h1M474.5 256.5h1M468.5 268h1M462 245.5h1M444 254h1M451.5 245h1M472.5 268h1M445.5 242.5h1M477 244h1M449.5 240.5h1M464 248.5h1M460.5 251h1M496 266.5h1M453.5 247.5h1M442 240h1M475 260h1M482.5 274h1M478.5 245.5h1M474.5 269.5h1M459 246.5h1M470.5 269.5h1M458.5 251h1M461.5 237.5h1M451.5 248h1M488.5 254.5h1M447.5 246h1M453.5 236h1M470.5 249h1M473 274.5h1M471 266h1M475 274h1M475 262.5h1M469.5 272h1M474.5 255h1M464 248h1M461 253h1M466.5 247h1M467 247.5h1M452 244.5h1M472.5 267h1M489.5 271.5h1M491.5 264.5h1M471 268h1M471 270h1M487 242.5h1M477 263h1M442.5 256h1M460.5 246.5h1M475 267.5h1M464 269.5h1M440.5 245.5h1M451 261h1M471.5 269.5h1M468 267.5h1M452 257.5h1M494.5 255.5h1M470.5 262h1M478.5 239.5h1M492 268.5h1M458.5 253h1M456 252h1M469.5 273h1M471.5 268.5h1M450 238.5h1M455 246.5h1M448.5 247h1M441 243.5h1M477 266h1M476 264.5h1M491.5 258h1M474 263h1M470.5 261.5h1M479 259.5h1M472 264.5h1M477 270h1M472.5 265h1M496 267h1M476.5 260h1M468.5 264.5h1M476.5 269h1M476 265.5h1M449.5 245.5h1M475.5 263h1M469.5 268h1M474 269.5h1M450 248.5h1M469 269h1M479 272.5h1M474 270.5h1M446 275.5h1M468 261.5h1M497.5 267h1M474 252.5h1M476 263h1M446 245h1M472.5 248.5h1M472.5 272h1M467 246h1M472.5 265.5h1M475 237.5h1M457 272.5h1M455 245.5h1M495.5 263h1M476 273h1M478 242h1M475 250h1M475.5 268.5h1M495.5 248h1M474.5 249.5h1M468.5 263h1M469 271h1M478 267.5h1M470 266.5h1M468.5 256.5h1M482.5 245.5h1M471 264.5h1M470.5 272.5h1M453 241h1M435.5 266h1M492.5 241.5h1M472 269.5h1M457 240h1M456.5 238.5h1M454.5 244h1M472 270.5h1M476.5 240.5h1M439.5 244.5h1M457 272h1M446 249h1M474.5 269h1M468.5 252.5h1M444 250.5h1M473 264.5h1M449 239.5h1M481.5 247h1M435 275.5h1M493.5 264h1M471 263h1M469 276.5h1M440.5 244.5h1M454 255h1M453.5 245.5h1M446 246h1M453.5 241.5h1M442.5 252.5h1M456 251h1M475 269h1M474 250.5h1M475.5 254.5h1M447 245h1M474.5 262.5h1M441 247.5h1M470.5 266.5h1M492.5 266.5h1M475.5 271.5h1M474.5 271h1M467.5 258.5h1M466 266h1M491 270h1M454.5 248h1M451 253h1M473 260h1M488.5 267h1M473.5 262.5h1M471 268.5h1M467 265h1M478 259.5h1M446.5 247h1M475.5 261h1M478.5 265.5h1M440.5 254h1M474 263.5h1M440 241h1M472.5 275h1M474 275.5h1M454.5 242h1M472.5 257.5h1M473 269.5h1M462 248h1M495 253h1M465 243h1M451.5 251h1M472 261h1M470 264h1M452.5 244h1M437.5 250h1M488.5 245.5h1M489 263.5h1M473.5 262h1M477.5 260.5h1" stroke="#4e4e4e" stroke-width="1.05" fill="none"/><path d="M440 261h1M451 244h1M483 250h1M454 237h1M471.5 240.5h1M493.5 266h1M478 269h1M475.5 269h1M467 259h1M474.5 267h1M459 247.5h1M433.5 256h1M490.5 248h1M445 248h1M450 245h1M490 250h1M493.5 255.5h1M450.5 243.5h1M445.5 243h1M480 273h1M495 238.5h1M443 245h1M452.5 242.5h1M459 260h1M476 256.5h1M473 261.5h1M476 248h1M472 269h1M453.5 246.5h1M480 251.5h1M452.5 248h1M459 233.5h1M449 244h1M454.5 250.5h1M492.5 264h1M501 261h1M485.5 258h1M472.5 256.5h1M470 271h1M495.5 262.5h1M473 250.5h1M492 250h1M477.5 259.5h1M466 247.5h1M455 247.5h1M475.5 246h1M457 247.5h1M475.5 260.5h1M443 249h1M481.5 258h1M472 259h1M448.5 238h1M445.5 241.5h1M478 268h1M491.5 276.5h1M492 264h1M444 237.5h1M473.5 265h1M477 259.5h1M452 247h1M458 253.5h1M458.5 248h1M490 265.5h1M459 246h1M471 269h1M469.5 261h1M475.5 261.5h1M490.5 275h1M455 248h1M496 263h1M446 240.5h1M494.5 260h1M442 247.5h1M439.5 250.5h1M465 251h1M439 264h1M468 263.5h1M457.5 245h1M469 256h1M448 251.5h1M475.5 267h1M442 245h1M491.5 261h1M457 249h1M440 253.5h1M453 245.5h1M455.5 250h1M448.5 249.5h1M458 253h1M482 251.5h1M493.5 263.5h1M494.5 266.5h1M464.5 266.5h1M474 249.5h1M477.5 274.5h1M475.5 259.5h1M475 256.5h1M490 266h1M465.5 259.5h1M478.5 245h1M450 250.5h1M491 262h1M456 244.5h1M452.5 252h1M464 247h1M473 266.5h1M460.5 241h1M466.5 270.5h1M459 250h1M472.5 271.5h1M493.5 263h1M454 237.5h1M472 259.5h1M461 237.5h1M474 269h1M448 244.5h1M499 260.5h1M471 255.5h1M464 251.5h1M468.5 259.5h1M449.5 250.5h1M471.5 251.5h1M452 250h1M471.5 266h1M495.5 264h1M458.5 243h1M491 250.5h1M471.5 270h1M472.5 249.5h1M457 243h1M477 260.5h1M474 259h1M468.5 265h1M494 251.5h1M477 268h1M451.5 244.5h1M461 238.5h1M491.5 259h1M461 241.5h1M458 245h1M438.5 233.5h1M460.5 241.5h1M455.5 235.5h1M473 253h1M442 243h1M457.5 250.5h1M481.5 247.5h1M476 259h1M452 248.5h1M440 248.5h1M475.5 266h1M468.5 274.5h1M442.5 248.5h1M443 247h1M441.5 242.5h1M472 273h1M475.5 268h1M451 249h1M472.5 266.5h1M434.5 244.5h1M456 248h1M458.5 269h1M474.5 263.5h1M453.5 234h1M491.5 273.5h1M437.5 248h1M472.5 259h1M492 254h1M459.5 246.5h1M465.5 255.5h1M469.5 259.5h1M472 266h1M476 253.5h1M452 236.5h1M498 272h1M472 268h1M467.5 273.5h1M472 270h1M471.5 264.5h1M440 251.5h1M497 271.5h1M469.5 264h1M473.5 248.5h1M472.5 260.5h1M444.5 243.5h1M462.5 252.5h1M478.5 264h1M447 248.5h1M471.5 263.5h1M461 270h1M494.5 274.5h1M455 271h1M461.5 246.5h1M470.5 269.5h1M473 272h1M473.5 263h1M473 265.5h1M467.5 276h1M474.5 270.5h1M451.5 248h1M463 249h1M494 264.5h1M460 254.5h1M488.5 258.5h1M477 272h1M470.5 242h1M492 263h1M455 251h1M470.5 268.5h1M490 267.5h1M448 246h1M464 256.5h1M492 256.5h1M479.5 252h1M493 267h1M469.5 272h1M444 248.5h1M469.5 265.5h1M471.5 248h1M466.5 271h1M481 265.5h1M446.5 242h1M468 266.5h1M468.5 276h1M458 252h1M462.5 241h1M471.5 269.5h1M468 259h1M471.5 274h1M476 254h1M444.5 254.5h1M460.5 237.5h1M492 242h1M497 260h1M479 267h1M491.5 265.5h1M495 267h1M475 260.5h1M448.5 247h1M441 243.5h1M443 238.5h1M474 263h1M473 270h1M453 236.5h1M494.5 273.5h1M452 250.5h1M459 244h1M483.5 243h1M470.5 261.5h1M477 252.5h1M443.5 260h1M491 259.5h1M472 264.5h1M492.5 254.5h1M495 261h1M441.5 237h1M476 257h1M470 247.5h1M468.5 244h1M475 276.5h1M453 242h1M453 243.5h1M478 260h1M454 244h1M461.5 265.5h1M448.5 251h1M436.5 260.5h1M473 273.5h1M447 244.5h1M474 266h1M476 258h1M475 246.5h1M455 264h1M491 265h1M458.5 238.5h1M470.5 261h1M475 267h1M476.5 266.5h1M477.5 257.5h1M472.5 272h1M490.5 251.5h1M455 245.5h1M469 262.5h1M449 241.5h1M487.5 262h1M446 256.5h1M452 245h1M476.5 267.5h1M475.5 268.5h1M470.5 264h1M475 259.5h1M478.5 246.5h1M465 260h1M458.5 248.5h1M443.5 240.5h1M452.5 251.5h1M470 259h1M496.5 242.5h1M478 246h1M471 263.5h1M466 265.5h1M480.5 268.5h1M475 272.5h1M469 260.5h1M489.5 255h1M446 267.5h1M468.5 252.5h1M475.5 256h1M492.5 269h1M467 267h1M449 239.5h1M494 250.5h1M470 260.5h1M454.5 248.5h1M497.5 240h1M443.5 246.5h1M478 261.5h1M453.5 245.5h1M449.5 253.5h1M479 251h1M492.5 266.5h1M452.5 244.5h1M487.5 264h1M477.5 260h1M474.5 271h1M490 259h1M470.5 259h1M471 269.5h1M469 253h1M492 269h1M441 245h1M469 267h1M454.5 248h1M493 253h1M453 241.5h1M472.5 256h1M439.5 244h1M436 248.5h1M473.5 262.5h1M445.5 242h1M471 267.5h1M446.5 247h1M451.5 247h1M441 233.5h1M444.5 241h1M464.5 242h1M494.5 243.5h1M499.5 246h1M474.5 240.5h1M444.5 261.5h1M492 262.5h1M454.5 242h1M491.5 263.5h1M450.5 248.5h1M447 243.5h1M452 238h1M476.5 264h1M470.5 268h1M492 259h1M477.5 267.5h1M452.5 254h1M471.5 271h1M449 246.5h1M486 265.5h1M466.5 253.5h1M490.5 248.5h1M466.5 268h1M474.5 261.5h1M470 264h1M457 244.5h1M465.5 275.5h1M494 266.5h1M476 263.5h1M466 275h1" stroke="#6a6a6a" stroke-width="1.05" fill="none"/><path d="M471.5 260.5h1M466 257.5h1M483.5 250h1M452.5 248.5h1M478.5 252.5h1M470.5 267h1M452.5 265.5h1M448.5 232h1M446 245.5h1M449.5 244h1M450.5 249h1M441.5 241.5h1M490 250h1M474 268.5h1M476.5 274.5h1M460 248.5h1M474.5 259.5h1M443 245h1M452 245.5h1M452.5 242.5h1M471.5 261.5h1M493 258h1M476 248h1M472 269h1M492 246.5h1M447.5 244h1M454 236h1M448 244h1M443 248h1M492 267h1M453.5 244.5h1M479 272h1M452 240h1M495.5 262.5h1M454 239h1M489.5 247h1M478 266h1M472 266.5h1M471.5 250h1M451 235.5h1M495.5 247h1M443.5 255.5h1M468.5 274h1M468.5 266.5h1M468.5 262.5h1M469.5 271.5h1M443 243.5h1M488.5 266h1M476.5 253.5h1M478 270h1M497.5 264.5h1M479 256.5h1M457 258h1M492 264h1M470 266h1M481 267h1M472.5 270.5h1M468.5 267.5h1M453.5 254h1M477.5 265h1M444 250h1M470 268h1M476 262h1M474 267h1M490.5 258.5h1M453.5 244h1M458.5 249h1M478 253h1M477 245.5h1M457.5 245h1M495 252.5h1M455.5 237.5h1M466.5 258h1M471 266.5h1M475 258h1M455 249h1M449 233h1M488.5 244.5h1M466.5 263h1M442.5 240.5h1M458 244.5h1M478.5 263.5h1M433.5 248h1M494.5 266.5h1M490 269.5h1M474.5 266h1M467 244h1M453.5 245h1M456 256h1M446 253h1M436.5 245h1M453.5 242.5h1M474.5 268h1M473 262.5h1M461.5 261h1M443 252h1M445.5 251h1M454 243h1M465 267h1M442 242h1M473.5 266h1M466.5 268.5h1M460.5 238h1M477 239.5h1M484 265h1M477 247h1M468.5 259.5h1M473.5 268h1M473.5 270h1M471 276.5h1M452.5 249.5h1M472.5 261h1M439.5 248h1M469.5 271h1M474.5 253h1M453.5 243.5h1M479.5 257h1M486.5 271.5h1M471 246.5h1M493.5 268.5h1M487 260.5h1M470.5 275h1M475 256h1M445.5 244.5h1M460 247.5h1M494 266h1M472.5 241.5h1M454.5 246.5h1M476.5 263h1M460 245h1M458 245h1M469 263h1M440.5 239.5h1M460.5 275.5h1M472 265.5h1M489 262.5h1M474 260.5h1M483.5 264.5h1M442.5 244h1M492.5 254h1M494.5 259.5h1M470 263h1M443.5 249h1M453.5 275h1M446.5 250.5h1M451 236.5h1M456 242.5h1M473 276h1M473.5 254h1M469.5 267h1M469 268.5h1M472.5 266.5h1M450.5 241h1M468.5 259h1M474.5 263.5h1M461.5 251h1M490 257h1M474.5 247.5h1M472.5 247h1M469 255h1M432.5 249.5h1M441.5 236.5h1M473.5 264.5h1M449.5 247h1M470 270h1M476 268h1M466.5 272.5h1M490 245h1M454 251.5h1M471 265.5h1M446 252.5h1M495 266.5h1M454 251h1M473.5 263.5h1M477 254h1M476.5 256h1M471 274.5h1M486.5 266.5h1M473.5 248.5h1M473.5 265.5h1M432.5 236h1M465 270h1M447 248.5h1M449.5 246h1M450 241h1M496.5 251.5h1M471.5 263.5h1M454 255.5h1M466.5 269h1M470 256h1M458.5 251.5h1M462 232.5h1M473 272h1M449 255h1M473 265.5h1M473.5 256.5h1M477.5 263h1M473 274.5h1M474.5 268.5h1M452.5 237.5h1M476 276h1M470.5 268.5h1M476.5 250.5h1M457 246h1M475 262.5h1M467 263.5h1M494 247.5h1M460 250.5h1M471 270h1M471 268h1M439 245h1M473.5 270.5h1M441 248h1M474 257h1M473.5 268.5h1M475.5 264.5h1M481.5 254.5h1M453 263h1M454.5 253.5h1M479.5 249.5h1M456.5 240.5h1M477.5 270h1M471.5 242h1M471.5 252.5h1M493 264h1M493 249.5h1M489 264.5h1M469 272.5h1M487 266h1M479 261h1M498 244.5h1M472 264.5h1M465.5 265.5h1M453 243.5h1M476.5 269h1M449.5 245.5h1M465 264.5h1M451.5 241h1M475 261.5h1M494 268.5h1M491 264h1M471.5 262h1M475.5 256.5h1M467 267.5h1M495 264h1M488 261h1M478.5 253.5h1M496 250h1M479 265h1M468.5 265.5h1M461 257h1M470.5 259.5h1M472 245h1M492.5 261h1M473.5 271.5h1M475 267h1M461 248.5h1M497.5 250h1M468 267h1M440.5 251.5h1M459 248h1M438 272h1M452 242.5h1M462 275h1M473.5 261h1M442.5 245h1M469.5 276h1M452 248h1M435.5 243.5h1M493.5 250h1M485.5 259h1M442.5 248h1M445.5 247.5h1M475 265h1M442.5 236.5h1M474 254.5h1M443.5 241h1M458 240.5h1M467 267h1M442 244h1M465 268.5h1M470 260.5h1M474 271.5h1M457.5 240h1M441 249.5h1M476.5 261.5h1M442.5 252.5h1M496.5 249h1M473 263.5h1M454.5 245h1M494.5 242.5h1M496 247h1M473.5 269h1M494.5 263h1M470.5 266.5h1M493 273.5h1M470 276.5h1M456.5 274.5h1M450 244.5h1M499.5 249h1M444.5 240.5h1M448.5 244h1M464.5 248h1M470.5 259h1M470.5 271h1M479.5 267h1M471 274h1M471.5 260h1M476 258.5h1M473 260h1M470 246.5h1M441.5 241h1M458 237.5h1M446 254.5h1M490 251.5h1M472 271.5h1M490.5 264.5h1M456 253h1M454.5 243.5h1M471.5 262.5h1M469.5 263h1M477.5 268.5h1M491.5 247.5h1M471.5 259h1M475 266h1M477.5 255h1M476.5 265h1M498.5 266h1M478 241.5h1M454 252h1M464.5 246h1M499 246h1M466.5 268h1M456 259.5h1M474.5 261.5h1M437.5 276h1M475 270h1M438.5 232.5h1M460 245.5h1M440.5 247.5h1M477.5 246h1" stroke="#5c5c5c" stroke-width="1.05" fill="none"/><path d="M451 244h1M467 271h1M450 247.5h1M474 274h1M445.5 238h1M446 245.5h1M497.5 244.5h1M435.5 245h1M451.5 246.5h1M470.5 276h1M450 245h1M452.5 245h1M476.5 274.5h1M468.5 275.5h1M474 268.5h1M474 267.5h1M446.5 253h1M439.5 252.5h1M460 265.5h1M450 242.5h1M469 258h1M445 274h1M449 238.5h1M441 241h1M472 269h1M447.5 244h1M476.5 271h1M462.5 244h1M490.5 243.5h1M492.5 264h1M476 266.5h1M444.5 240h1M495 257h1M459 274h1M492.5 265h1M469.5 254.5h1M445.5 249.5h1M476.5 251h1M471.5 259.5h1M457 248.5h1M475.5 240.5h1M474 276.5h1M449.5 248h1M457 265.5h1M443 242h1M473 259.5h1M472 271h1M472 267.5h1M444 243h1M480 273.5h1M462 252h1M468.5 242h1M491 256.5h1M454 242h1M459.5 238h1M472.5 270.5h1M477 259.5h1M494.5 275.5h1M452 247h1M457 242.5h1M465.5 262h1M473 264h1M470.5 265.5h1M492.5 265.5h1M472.5 267.5h1M453 250h1M479 236.5h1M458.5 239h1M449.5 249h1M471 269h1M449.5 252.5h1M475.5 261.5h1M476 262h1M445.5 269h1M471.5 265h1M467.5 276.5h1M441.5 266h1M473 241.5h1M467.5 261.5h1M454 246h1M475 265.5h1M476.5 244.5h1M497.5 242.5h1M470.5 273h1M457 249h1M451 244.5h1M492 272h1M458 253h1M473 269h1M494 245.5h1M465.5 267h1M471.5 272h1M474 264h1M494.5 266.5h1M440.5 250.5h1M489 267h1M485 264.5h1M476 267h1M477 269h1M470.5 266h1M492.5 266h1M461.5 250.5h1M459 243h1M480.5 237.5h1M469.5 269h1M452.5 252h1M443 250.5h1M456.5 249h1M443 252h1M452 246.5h1M498.5 269.5h1M452 253h1M480 263.5h1M476.5 264.5h1M468 268.5h1M478.5 266.5h1M443.5 248.5h1M492.5 256h1M458 244h1M478 263.5h1M450 241.5h1M464.5 261.5h1M467.5 269h1M445.5 246.5h1M493 247.5h1M470.5 275h1M445.5 244.5h1M478 258h1M476 269h1M494 266h1M491.5 271h1M469 245h1M477 255.5h1M467.5 274.5h1M480 236.5h1M435 244.5h1M448.5 246h1M469 263h1M471 259.5h1M448.5 240.5h1M493 260h1M438.5 239h1M464 244.5h1M489 262.5h1M489.5 258h1M464.5 250h1M480 252.5h1M494.5 259.5h1M442 243h1M457.5 252h1M466.5 252h1M469 269.5h1M446.5 250.5h1M442 252h1M449 247.5h1M490 264.5h1M457 241.5h1M471 245.5h1M494.5 264h1M451 274h1M491 260h1M491 269h1M475.5 268h1M472.5 266.5h1M451 234.5h1M463.5 263.5h1M474.5 263.5h1M463.5 247.5h1M468 261h1M489.5 243.5h1M449.5 247h1M491.5 246.5h1M489.5 270h1M448 248h1M491 266.5h1M468.5 266h1M460.5 247h1M471 265.5h1M456 242h1M493.5 261h1M468 249.5h1M436 237h1M472 270h1M440 251.5h1M441.5 243.5h1M491 259h1M472 255.5h1M451 262h1M444.5 243.5h1M495 267.5h1M490 248h1M436.5 249.5h1M448 249h1M472.5 268h1M466.5 260h1M492 265.5h1M475 260h1M478.5 265h1M470.5 269.5h1M469 254.5h1M477 272h1M447.5 260.5h1M476 276h1M449 246h1M470.5 268.5h1M443 237.5h1M470 258.5h1M479.5 252h1M474 244h1M475 262.5h1M451 234h1M492 248h1M457.5 247h1M458 243h1M457.5 242h1M472 276h1M441.5 225h1M471 270h1M446.5 268.5h1M469 259.5h1M480 272.5h1M464 269.5h1M492 269.5h1M470 252h1M471.5 269.5h1M449.5 237.5h1M464.5 268h1M447 232h1M478.5 262.5h1M492.5 262h1M446 250.5h1M443.5 275.5h1M473 266h1M492 268.5h1M466.5 260.5h1M479.5 272.5h1M451.5 246h1M478.5 271h1M457 246.5h1M448.5 247h1M441 252.5h1M476.5 247.5h1M482 275h1M488 258.5h1M459.5 242.5h1M483 243h1M467.5 263.5h1M493 265h1M437.5 235h1M469.5 266h1M472 264.5h1M477 270h1M468 262h1M481 249h1M480.5 248.5h1M471 257.5h1M456.5 246.5h1M464 256h1M480 247h1M495 272.5h1M432.5 243h1M460.5 244h1M483.5 249.5h1M453 246h1M451.5 243h1M446 245h1M475.5 269.5h1M469.5 273.5h1M478 274h1M467 246h1M474.5 237h1M472 263h1M442.5 257h1M451 239.5h1M475.5 268.5h1M478 267.5h1M474.5 249.5h1M469 271h1M496 245.5h1M475 259.5h1M490.5 268h1M470 262.5h1M446 239h1M471 264.5h1M470.5 272.5h1M457 232.5h1M446.5 237h1M467 261.5h1M496.5 242.5h1M471 263.5h1M497.5 238.5h1M497.5 265h1M471.5 261h1M493.5 250h1M475 272.5h1M493 251h1M468 264h1M498 265.5h1M472 268.5h1M476.5 262h1M453 243h1M454 249h1M467 267h1M452 270.5h1M490.5 244.5h1M473 264.5h1M472 255h1M444.5 242h1M467.5 256h1M474.5 277h1M480 253h1M472.5 270h1M462 264.5h1M488.5 276.5h1M451.5 240h1M454.5 245h1M461.5 244.5h1M474.5 266.5h1M459.5 252h1M449.5 255.5h1M477 263.5h1M482.5 247h1M455 251.5h1M474.5 271h1M444 249.5h1M448.5 244h1M476.5 267h1M449 251h1M469 253h1M468 272h1M448 251h1M497 264h1M483.5 251h1M469.5 257h1M450.5 244h1M477 245h1M470 267h1M451.5 259h1M472 258.5h1M448.5 248.5h1M496.5 262h1M449.5 253h1M463 246h1M477.5 262.5h1M477.5 266.5h1M468 253.5h1M480 245.5h1M470.5 260.5h1M490.5 264.5h1M469.5 263h1M485 240h1M479.5 264h1M495.5 252h1M437 255h1M489.5 261h1M475 266h1M473 270.5h1M478 272.5h1M444.5 243h1M474 260h1M473 267.5h1M469 245.5h1M474.5 261.5h1M451.5 253.5h1M483 267h1M475 270h1M451 245.5h1M451 238.5h1M491 257.5h1M464.5 262h1M462 268.5h1" stroke="#404040" stroke-width="1.05" fill="none"/>
<path d="M463.8 211.6V277.9M431.6 256.2H503.9" stroke="#1e1e1e" stroke-width="1.3" fill="none"/>
<path d="M84.5 63.8H99.9M92.3 56.4V71.8" stroke="#111" stroke-width="1" fill="none"/>
<text x="86.3" y="61.5" text-anchor="middle" class="q">8</text>
<text x="98.3" y="61.5" text-anchor="middle" class="q">1</text>
<text x="87.1" y="71.1" text-anchor="middle" class="q">91</text>
<text x="97.0" y="71.1" text-anchor="middle" class="q">0</text>
<path d="M192.4 63.8H208.0M200.3 56.1V71.5" stroke="#111" stroke-width="1" fill="none"/>
<text x="194.2" y="61.2" text-anchor="middle" class="q">7</text>
<text x="206.0" y="61.2" text-anchor="middle" class="q">2</text>
<text x="194.8" y="70.8" text-anchor="middle" class="q">22</text>
<text x="204.9" y="70.8" text-anchor="middle" class="q">69</text>
<path d="M300.0 63.8H315.4M307.0 56.4V72.0" stroke="#111" stroke-width="1" fill="none"/>
<text x="301.1" y="61.5" text-anchor="middle" class="q">3</text>
<text x="312.1" y="61.5" text-anchor="middle" class="q">7</text>
<text x="301.7" y="71.3" text-anchor="middle" class="q">64</text>
<text x="312.2" y="71.3" text-anchor="middle" class="q">26</text>
<path d="M84.5 142.3H99.0M92.3 134.7V150.0" stroke="#111" stroke-width="1" fill="none"/>
<text x="86.7" y="139.8" text-anchor="middle" class="q">47</text>
<text x="97.2" y="139.8" text-anchor="middle" class="q">10</text>
<text x="86.5" y="149.3" text-anchor="middle" class="q">42</text>
<text x="98.1" y="149.3" text-anchor="middle" class="q">1</text>
<path d="M192.1 142.3H207.7M200.3 135.0V150.3" stroke="#111" stroke-width="1" fill="none"/>
<text x="194.5" y="140.1" text-anchor="middle" class="q">53</text>
<text x="205.3" y="140.1" text-anchor="middle" class="q">5</text>
<text x="194.4" y="149.6" text-anchor="middle" class="q">13</text>
<text x="205.2" y="149.6" text-anchor="middle" class="q">29</text>
<path d="M300.0 142.3H315.4M307.0 134.7V150.3" stroke="#111" stroke-width="1" fill="none"/>
<text x="301.4" y="139.8" text-anchor="middle" class="q">38</text>
<text x="312.8" y="139.8" text-anchor="middle" class="q">19</text>
<text x="301.4" y="149.6" text-anchor="middle" class="q">31</text>
<text x="312.6" y="149.6" text-anchor="middle" class="q">12</text>
<path d="M85.4 221.3H99.8M92.3 214.2V228.9" stroke="#111" stroke-width="1" fill="none"/>
<text x="86.5" y="219.3" text-anchor="middle" class="q">35</text>
<text x="98.3" y="219.3" text-anchor="middle" class="q">9</text>
<text x="86.8" y="228.2" text-anchor="middle" class="q">53</text>
<text x="97.5" y="228.2" text-anchor="middle" class="q">3</text>
<path d="M192.4 221.4H207.7M200.3 214.2V228.6" stroke="#111" stroke-width="1" fill="none"/>
<text x="194.5" y="219.3" text-anchor="middle" class="q">34</text>
<text x="205.3" y="219.3" text-anchor="middle" class="q">10</text>
<text x="194.8" y="227.9" text-anchor="middle" class="q">14</text>
<text x="205.0" y="227.9" text-anchor="middle" class="q">42</text>
<path d="M300.0 221.4H315.4M307.0 214.2V228.6" stroke="#111" stroke-width="1" fill="none"/>
<text x="301.4" y="219.3" text-anchor="middle" class="q">37</text>
<text x="312.2" y="219.3" text-anchor="middle" class="q">14</text>
<text x="301.4" y="227.9" text-anchor="middle" class="q">40</text>
<text x="312.0" y="227.9" text-anchor="middle" class="q">9</text>
<path d="M484.4 64.0H499.7M491.6 56.5V71.5" stroke="#111" stroke-width="1" fill="none"/>
<text x="486.0" y="61.6" text-anchor="middle" class="q">0</text>
<text x="498.6" y="61.6" text-anchor="middle" class="q">17</text>
<text x="486.4" y="70.8" text-anchor="middle" class="q">1</text>
<text x="499.0" y="70.8" text-anchor="middle" class="q">82</text>
<path d="M484.7 142.5H499.7M491.6 135.0V150.4" stroke="#111" stroke-width="1" fill="none"/>
<text x="486.5" y="140.1" text-anchor="middle" class="q">52</text>
<text x="496.9" y="140.1" text-anchor="middle" class="q">24</text>
<text x="484.3" y="149.7" text-anchor="middle" class="q">1</text>
<text x="498.6" y="149.7" text-anchor="middle" class="q">23</text>
<path d="M485.0 221.6H499.7M491.6 213.9V229.2" stroke="#111" stroke-width="1" fill="none"/>
<text x="486.3" y="219.0" text-anchor="middle" class="q">23</text>
<text x="497.0" y="219.0" text-anchor="middle" class="q">25</text>
<text x="484.0" y="228.5" text-anchor="middle" class="q">4</text>
<text x="497.0" y="228.5" text-anchor="middle" class="q">48</text>
<path d="M19.2 59.0V278.5" stroke="#1a1a1a" stroke-width="1.3"/>
<path d="M19.2 53.0L15.1 60.6L23.3 60.6Z" fill="#000"/>
<path d="M126.2 59.2V278.5" stroke="#1a1a1a" stroke-width="1.3"/>
<path d="M126.2 53.2L122.1 60.8L130.3 60.8Z" fill="#000"/>
<path d="M232.9 59.2V278.5" stroke="#1a1a1a" stroke-width="1.3"/>
<path d="M232.9 53.2L228.8 60.8L237.0 60.8Z" fill="#000"/>
<path d="M416.6 59.0V278.5" stroke="#1a1a1a" stroke-width="1.3"/>
<path d="M416.6 53.0L412.5 60.6L420.7 60.6Z" fill="#000"/>
<path d="M32.0 288.0H100.5" stroke="#1a1a1a" stroke-width="1.3"/>
<path d="M106.5 288.0L97.9 284.2L97.9 291.8Z" fill="#000"/>
<path d="M138.7 288.0H207.8" stroke="#1a1a1a" stroke-width="1.3"/>
<path d="M213.8 288.0L205.2 284.2L205.2 291.8Z" fill="#000"/>
<path d="M244.4 288.0H314.4" stroke="#1a1a1a" stroke-width="1.3"/>
<path d="M320.4 288.0L311.8 284.2L311.8 291.8Z" fill="#000"/>
<path d="M430.6 288.4H498.0" stroke="#1a1a1a" stroke-width="1.3"/>
<path d="M504.0 288.4L495.4 284.6L495.4 292.2Z" fill="#000"/>
<text transform="translate(2.25 19.35) scale(0.959 1)" style="font-size:25.22px;font-weight:bold">A</text>
<text transform="translate(342.17 19.45) scale(0.941 1)" style="font-size:25.80px;font-weight:bold">B</text>
<text transform="translate(0.54 346.40) scale(0.902 1)" style="font-size:25.21px;font-weight:bold">C</text>
<text transform="translate(341.22 345.55) scale(1.028 1)" style="font-size:24.35px;font-weight:bold">D</text>
<text x="107" y="44" style="font-size:16.2px">CD3<tspan dy="-4.6" style="font-size:10.5px">+</tspan><tspan dy="4.6" dx="-0.8"> Lymphocytes</tspan></text>
<text x="409.2" y="43" style="font-size:16.4px">TCRαβ<tspan dy="-4.6" style="font-size:10.5px">+</tspan><tspan dy="4.6" dx="-0.8"> T-cells</tspan></text>
<text transform="translate(357.66 94.29) scale(0.996 1)" style="font-size:15.77px">CT</text>
<text transform="translate(343.97 182.50) scale(1.025 1)" style="font-size:15.07px">ALPS-I</text>
<text transform="translate(343.97 253.50) scale(1.027 1)" style="font-size:15.07px">ALPS-0</text>
<text transform="translate(34.49 300.33) scale(1.106 1)" style="font-size:10.11px">Granzyme B</text>
<text transform="translate(165.90 299.64) scale(0.971 1)" style="font-size:11.27px">CD4</text>
<text transform="translate(272.01 299.64) scale(0.962 1)" style="font-size:11.27px">CD8</text>
<text x="437.1" y="300.3" style="font-size:11.3px">CD4<tspan dy="-3.6" style="font-size:8.5px">+</tspan><tspan dy="3.6" dx="1.2">CD8</tspan><tspan dy="-3.6" dx="0.9" style="font-size:8.5px">+</tspan></text>
<text transform="translate(9.40 206.71) rotate(-90) scale(0.997 1)" style="font-size:11.30px">Granzyme A</text>
<text transform="translate(117.40 206.11) rotate(-90) scale(0.994 1)" style="font-size:11.20px">Granzyme A</text>
<text transform="translate(408.20 207.51) rotate(-90) scale(0.994 1)" style="font-size:11.30px">Granzyme A</text>
<circle cx="107.3" cy="275.1" r="0.9" fill="#333"/>
<path d="M72 387V562.5H242.7M160 386V562.5" stroke="#222" stroke-width="1.3" fill="none"/>
<path d="M68 562.5H72M68 539.1H72M68 515.8H72M68 492.4H72M68 469.0H72M68 445.6H72M68 422.3H72M68 398.9H72M91.5 562.5V565.5M131.3 562.5V565.5M183.7 562.5V565.5M223.1 562.5V565.5" stroke="#222" stroke-width="1.1" fill="none"/>
<text transform="translate(48.52 570.80) scale(1.088 1)" style="font-size:14.51px">0</text>
<text transform="translate(39.87 547.43) scale(1.081 1)" style="font-size:14.51px">10</text>
<text transform="translate(40.29 524.06) scale(1.054 1)" style="font-size:14.51px">20</text>
<text transform="translate(40.44 500.69) scale(1.044 1)" style="font-size:14.51px">30</text>
<text transform="translate(40.68 477.32) scale(1.029 1)" style="font-size:14.51px">40</text>
<text transform="translate(40.44 453.95) scale(1.044 1)" style="font-size:14.51px">50</text>
<text transform="translate(40.29 430.58) scale(1.054 1)" style="font-size:14.51px">60</text>
<text transform="translate(40.29 407.21) scale(1.054 1)" style="font-size:14.51px">70</text>
<text transform="translate(85.60 577.85) scale(1.111 1)" style="font-size:9.86px">CT</text>
<text transform="translate(119.49 577.55) scale(1.123 1)" style="font-size:9.86px">ALPS-I</text>
<text transform="translate(176.01 577.85) scale(1.095 1)" style="font-size:9.86px">CT</text>
<text transform="translate(209.19 577.55) scale(1.130 1)" style="font-size:9.86px">ALPS-I</text>
<text transform="translate(93.47 373.11) scale(1.117 1)" style="font-size:13.94px">CD4</text>
<text transform="translate(188.27 373.11) scale(1.123 1)" style="font-size:13.94px">CD8</text>
<path d="M91.2 388.2V385.2H131.5V388.2M183.1 401.5V398.1H223.5V401.5" stroke="#222" stroke-width="1.1" fill="none"/>
<text transform="translate(104.78 387.18) scale(1.469 1)" style="font-size:9.46px;font-weight:bold">**</text>
<text transform="translate(194.78 400.39) scale(1.576 1)" style="font-size:9.19px;font-weight:bold">***</text>
<text transform="translate(29.30 539.13) rotate(-90) scale(1.001 1)" style="font-size:11.20px;font-style:italic">% of (GrzA + B ) positive cells</text>
<rect x="89.2" y="534.8" width="5.3" height="5" fill="none" stroke="#111" stroke-width="1.15"/>
<rect x="81.8" y="548.9" width="5.3" height="5" fill="none" stroke="#111" stroke-width="1.15"/>
<rect x="89.2" y="550.8" width="5.3" height="5" fill="none" stroke="#111" stroke-width="1.15"/>
<rect x="84.8" y="556.0" width="5.3" height="5" fill="none" stroke="#111" stroke-width="1.15"/>
<rect x="92.8" y="556.0" width="5.3" height="5" fill="none" stroke="#111" stroke-width="1.15"/>
<rect x="79.1" y="557.8" width="5.3" height="5" fill="none" stroke="#111" stroke-width="1.15"/>
<rect x="98.8" y="557.8" width="5.3" height="5" fill="none" stroke="#111" stroke-width="1.15"/>
<rect x="86.8" y="560.5" width="5.3" height="5" fill="none" stroke="#111" stroke-width="1.15"/>
<rect x="91.3" y="560.5" width="5.3" height="5" fill="none" stroke="#111" stroke-width="1.15"/>
<rect x="89.0" y="562.8" width="5.3" height="5" fill="none" stroke="#111" stroke-width="1.15"/>
<rect x="128.8" y="408.3" width="5.3" height="5" fill="none" stroke="#111" stroke-width="1.15"/>
<rect x="128.8" y="462.1" width="5.3" height="5" fill="none" stroke="#111" stroke-width="1.15"/>
<rect x="136.7" y="494.7" width="5.3" height="5" fill="none" stroke="#111" stroke-width="1.15"/>
<rect x="128.8" y="499.4" width="5.3" height="5" fill="none" stroke="#111" stroke-width="1.15"/>
<rect x="128.8" y="508.9" width="5.3" height="5" fill="none" stroke="#111" stroke-width="1.15"/>
<rect x="136.7" y="520.3" width="5.3" height="5" fill="none" stroke="#111" stroke-width="1.15"/>
<rect x="128.8" y="522.8" width="5.3" height="5" fill="none" stroke="#111" stroke-width="1.15"/>
<rect x="121.1" y="532.3" width="5.3" height="5" fill="none" stroke="#111" stroke-width="1.15"/>
<rect x="128.8" y="532.3" width="5.3" height="5" fill="none" stroke="#111" stroke-width="1.15"/>
<rect x="132.8" y="530.1" width="5.3" height="5" fill="none" stroke="#111" stroke-width="1.15"/>
<rect x="136.7" y="532.3" width="5.3" height="5" fill="none" stroke="#111" stroke-width="1.15"/>
<rect x="136.7" y="546.1" width="5.3" height="5" fill="none" stroke="#111" stroke-width="1.15"/>
<rect x="128.8" y="548.2" width="5.3" height="5" fill="none" stroke="#111" stroke-width="1.15"/>
<path d="M78.8 557.5H104.3M118.6 514.5H144.5M170.6 504.5H196.5M209.6 450.5H235.8" stroke="#222" stroke-width="1.1"/>
<ellipse cx="183.7" cy="464.4" rx="2.5" ry="2.25" fill="none" stroke="#111" stroke-width="1.15"/>
<ellipse cx="183.7" cy="471.7" rx="2.5" ry="2.25" fill="none" stroke="#111" stroke-width="1.15"/>
<ellipse cx="176.7" cy="485.8" rx="2.5" ry="2.25" fill="none" stroke="#111" stroke-width="1.15"/>
<ellipse cx="183.7" cy="488.3" rx="2.5" ry="2.25" fill="none" stroke="#111" stroke-width="1.15"/>
<ellipse cx="183.7" cy="497.3" rx="2.5" ry="2.25" fill="none" stroke="#111" stroke-width="1.15"/>
<ellipse cx="191.5" cy="525.8" rx="2.5" ry="2.25" fill="none" stroke="#111" stroke-width="1.15"/>
<ellipse cx="176.7" cy="530.6" rx="2.5" ry="2.25" fill="none" stroke="#111" stroke-width="1.15"/>
<ellipse cx="183.7" cy="530.6" rx="2.5" ry="2.25" fill="none" stroke="#111" stroke-width="1.15"/>
<ellipse cx="183.7" cy="553.7" rx="2.5" ry="2.25" fill="none" stroke="#111" stroke-width="1.15"/>
<ellipse cx="215.8" cy="422.1" rx="2.5" ry="2.25" fill="none" stroke="#111" stroke-width="1.15"/>
<ellipse cx="223.1" cy="422.5" rx="2.5" ry="2.25" fill="none" stroke="#111" stroke-width="1.15"/>
<ellipse cx="230.4" cy="419.9" rx="2.5" ry="2.25" fill="none" stroke="#111" stroke-width="1.15"/>
<ellipse cx="223.1" cy="429.0" rx="2.5" ry="2.25" fill="none" stroke="#111" stroke-width="1.15"/>
<ellipse cx="230.4" cy="429.0" rx="2.5" ry="2.25" fill="none" stroke="#111" stroke-width="1.15"/>
<ellipse cx="215.8" cy="433.7" rx="2.5" ry="2.25" fill="none" stroke="#111" stroke-width="1.15"/>
<ellipse cx="223.1" cy="436.3" rx="2.5" ry="2.25" fill="none" stroke="#111" stroke-width="1.15"/>
<ellipse cx="215.8" cy="450.1" rx="2.5" ry="2.25" fill="none" stroke="#111" stroke-width="1.15"/>
<ellipse cx="230.4" cy="452.7" rx="2.5" ry="2.25" fill="none" stroke="#111" stroke-width="1.15"/>
<ellipse cx="223.1" cy="454.8" rx="2.5" ry="2.25" fill="none" stroke="#111" stroke-width="1.15"/>
<ellipse cx="223.1" cy="476.1" rx="2.5" ry="2.25" fill="none" stroke="#111" stroke-width="1.15"/>
<ellipse cx="223.1" cy="483.1" rx="2.5" ry="2.25" fill="none" stroke="#111" stroke-width="1.15"/>
<ellipse cx="223.1" cy="490.2" rx="2.5" ry="2.25" fill="none" stroke="#111" stroke-width="1.15"/>
<ellipse cx="223.1" cy="499.8" rx="2.5" ry="2.25" fill="none" stroke="#111" stroke-width="1.15"/>
<path d="M383.3 381.2V562.4H510.1M379.3 381.2H383.3" stroke="#222" stroke-width="1.3" fill="none"/>
<path d="M379.3 562.4H383.2M379.3 526.2H383.2M379.3 489.9H383.2M379.3 453.7H383.2M379.3 417.5H383.2M379.3 381.2H383.2M403.8 562.4V565.4M447.0 562.4V565.4M489.0 562.4V565.4" stroke="#222" stroke-width="1.1" fill="none"/>
<text transform="translate(367.92 571.02) scale(1.246 1)" style="font-size:12.68px">0</text>
<text transform="translate(359.79 534.79) scale(1.199 1)" style="font-size:12.68px">20</text>
<text transform="translate(360.18 498.56) scale(1.170 1)" style="font-size:12.68px">40</text>
<text transform="translate(359.79 462.33) scale(1.199 1)" style="font-size:12.68px">60</text>
<text transform="translate(359.87 426.10) scale(1.193 1)" style="font-size:12.68px">80</text>
<text transform="translate(351.52 389.86) scale(1.191 1)" style="font-size:12.68px">100</text>
<text transform="translate(391.42 578.26) scale(1.163 1)" style="font-size:9.15px">GrzA</text>
<text transform="translate(434.41 577.76) scale(1.170 1)" style="font-size:9.15px">GrzB</text>
<text transform="translate(470.26 577.95) scale(1.174 1)" style="font-size:9.52px">Perforin</text>
<text transform="translate(425.16 371.30) scale(1.091 1)" style="font-size:14.83px">DN T-cells</text>
<text transform="translate(351.40 511.84) rotate(-90) scale(0.980 1)" style="font-size:11.50px;font-style:italic">% of positive cells</text>
<path d="M407.5 382.0L403.6 388.7L411.4 388.7Z" fill="none" stroke="#111" stroke-width="1.15" stroke-linejoin="miter"/>
<path d="M398.1 387.4L394.2 394.1L402.0 394.1Z" fill="none" stroke="#111" stroke-width="1.15" stroke-linejoin="miter"/>
<path d="M404.2 389.2L400.3 395.9L408.1 395.9Z" fill="none" stroke="#111" stroke-width="1.15" stroke-linejoin="miter"/>
<path d="M410.8 389.2L406.9 395.9L414.7 395.9Z" fill="none" stroke="#111" stroke-width="1.15" stroke-linejoin="miter"/>
<path d="M391.8 392.6L387.9 399.3L395.7 399.3Z" fill="none" stroke="#111" stroke-width="1.15" stroke-linejoin="miter"/>
<path d="M404.2 398.2L400.3 404.9L408.1 404.9Z" fill="none" stroke="#111" stroke-width="1.15" stroke-linejoin="miter"/>
<path d="M404.2 414.1L400.3 420.8L408.1 420.8Z" fill="none" stroke="#111" stroke-width="1.15" stroke-linejoin="miter"/>
<path d="M404.2 427.1L400.3 433.8L408.1 433.8Z" fill="none" stroke="#111" stroke-width="1.15" stroke-linejoin="miter"/>
<path d="M404.2 435.9L400.3 442.6L408.1 442.6Z" fill="none" stroke="#111" stroke-width="1.15" stroke-linejoin="miter"/>
<path d="M446.9 454.2L443.0 460.9L450.8 460.9Z" fill="none" stroke="#111" stroke-width="1.15" stroke-linejoin="miter"/>
<path d="M447.1 525.2L443.2 531.9L451.0 531.9Z" fill="none" stroke="#111" stroke-width="1.15" stroke-linejoin="miter"/>
<path d="M447.0 547.4L443.1 554.1L450.9 554.1Z" fill="none" stroke="#111" stroke-width="1.15" stroke-linejoin="miter"/>
<path d="M443.5 551.7L439.6 558.4L447.4 558.4Z" fill="none" stroke="#111" stroke-width="1.15" stroke-linejoin="miter"/>
<path d="M450.5 551.7L446.6 558.4L454.4 558.4Z" fill="none" stroke="#111" stroke-width="1.15" stroke-linejoin="miter"/>
<path d="M440.0 556.0L436.1 562.7L443.9 562.7Z" fill="none" stroke="#111" stroke-width="1.15" stroke-linejoin="miter"/>
<path d="M447.0 556.0L443.1 562.7L450.9 562.7Z" fill="none" stroke="#111" stroke-width="1.15" stroke-linejoin="miter"/>
<path d="M454.0 556.0L450.1 562.7L457.9 562.7Z" fill="none" stroke="#111" stroke-width="1.15" stroke-linejoin="miter"/>
<path d="M444.0 557.4L440.1 564.1L447.9 564.1Z" fill="none" stroke="#111" stroke-width="1.15" stroke-linejoin="miter"/>
<path d="M450.0 557.4L446.1 564.1L453.9 564.1Z" fill="none" stroke="#111" stroke-width="1.15" stroke-linejoin="miter"/>
<path d="M390.3 404.5H418.6M433.2 542.5H460.9M472.7 539.5H503.5" stroke="#222" stroke-width="1.1"/>
<path d="M476.9 534.2L473.0 540.9L480.8 540.9Z" fill="#575757" stroke="#111" stroke-width="1.15" stroke-linejoin="miter"/>
<path d="M489.0 530.6L485.1 537.3L492.9 537.3Z" fill="#575757" stroke="#111" stroke-width="1.15" stroke-linejoin="miter"/>
<path d="M496.0 528.4L492.1 535.1L499.9 535.1Z" fill="#575757" stroke="#111" stroke-width="1.15" stroke-linejoin="miter"/>
<path d="M489.0 540.0L485.1 546.7L492.9 546.7Z" fill="#575757" stroke="#111" stroke-width="1.15" stroke-linejoin="miter"/>
<path d="M489.0 552.1L485.1 558.8L492.9 558.8Z" fill="#575757" stroke="#111" stroke-width="1.15" stroke-linejoin="miter"/>
</svg>
</body></html>
